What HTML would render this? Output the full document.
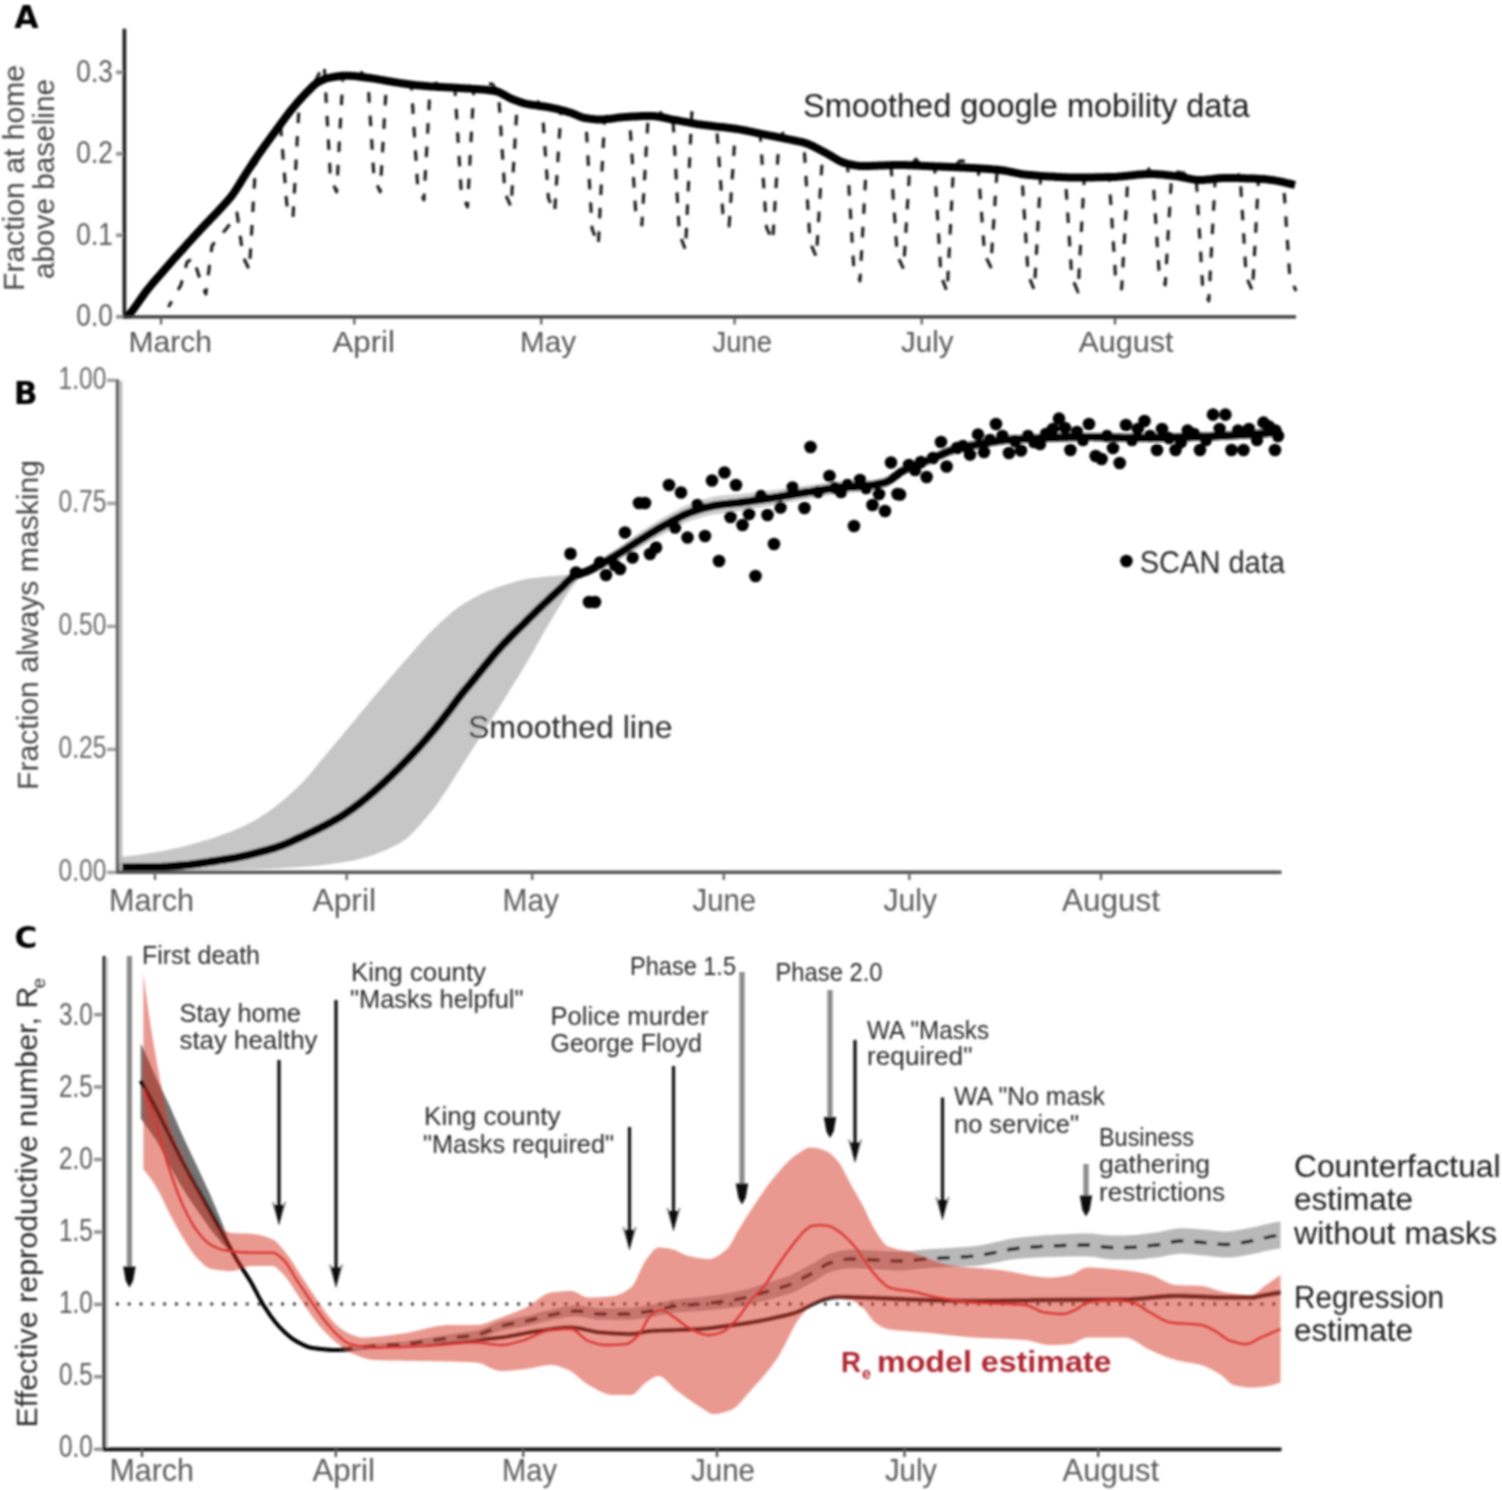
<!DOCTYPE html>
<html lang="en"><head><meta charset="utf-8"><title>Mobility, masking and effective reproductive number</title>
<style>html,body{margin:0;padding:0;background:#fff}svg{display:block}svg text{font-family:"Liberation Sans", "DejaVu Sans", sans-serif}svg text.pl{font-family:"DejaVu Sans","Liberation Sans",sans-serif}</style></head><body>
<svg width="1502" height="1490" viewBox="0 0 1502 1490">
<rect width="1502" height="1490" fill="#fff"/>
<g id="fig" filter="url(#soft)">
<g id="panelA">
<polyline points="168.4,307.0 174.7,296.0 180.9,285.0 187.1,262.0 193.3,258.0 199.6,278.0 205.8,294.0 212.0,246.0 218.3,237.0 224.5,231.0 230.7,223.0 237.0,213.0 243.2,257.0 249.4,270.0 255.6,164.0 261.9,151.3 268.1,142.6 274.3,134.2 280.6,125.7 286.8,204.5 293.0,217.5 299.3,102.0 305.5,95.2 311.7,88.8 317.9,75.8 324.2,64.8 330.4,177.3 336.6,192.0 342.9,77.3 349.1,77.3 355.3,77.7 361.6,72.5 367.8,79.3 374.0,177.5 380.2,192.0 386.5,82.3 392.7,83.4 398.9,84.4 405.2,79.2 411.4,86.0 417.6,185.3 423.9,200.0 430.1,87.9 436.3,83.2 442.6,88.6 448.8,88.9 455.0,89.3 461.2,191.7 467.5,207.0 473.7,90.4 479.9,82.9 486.2,83.4 492.4,84.1 498.6,93.6 504.9,192.7 511.1,207.0 517.3,102.6 523.5,104.6 529.8,97.9 536.0,98.9 542.2,107.7 548.5,198.6 554.7,212.0 560.9,111.5 567.2,113.2 573.4,109.2 579.6,117.9 585.8,119.6 592.1,228.8 598.3,245.0 604.5,120.8 610.8,113.2 617.0,119.3 623.2,118.6 629.5,118.2 635.7,211.1 641.9,225.0 648.1,117.5 654.4,117.7 660.6,112.6 666.8,119.9 673.1,121.2 679.3,233.4 685.5,250.0 691.8,112.6 698.0,125.7 704.2,126.6 710.4,127.3 716.7,128.0 722.9,213.4 729.1,226.0 735.4,130.3 741.6,131.3 747.8,132.5 754.0,133.8 760.3,135.2 766.5,227.4 772.7,241.0 779.0,138.9 785.2,130.1 791.4,141.4 797.7,142.6 803.9,144.2 810.1,242.6 816.4,257.0 822.6,152.8 828.8,156.1 835.0,159.9 841.3,163.2 847.5,165.1 853.7,266.1 860.0,281.0 866.2,167.5 872.4,167.3 878.7,167.1 884.9,166.8 891.1,166.6 897.3,255.7 903.6,269.0 909.8,166.7 916.0,159.1 922.3,167.4 928.5,167.6 934.7,167.9 941.0,275.9 947.2,292.0 953.4,168.6 959.6,160.9 965.9,161.2 972.1,161.5 978.3,169.9 984.6,254.4 990.8,267.0 997.0,171.2 1003.2,171.9 1009.5,173.1 1015.7,174.4 1021.9,175.6 1028.2,275.2 1034.4,290.0 1040.6,177.4 1046.9,177.8 1053.1,172.2 1059.3,178.5 1065.5,178.8 1071.8,277.3 1078.0,292.0 1084.2,179.0 1090.5,178.9 1096.7,178.8 1102.9,178.7 1109.2,178.6 1115.4,274.6 1121.6,289.0 1127.9,177.2 1134.1,176.5 1140.3,175.9 1146.5,165.6 1152.8,175.5 1159.0,270.8 1165.2,285.0 1171.5,177.1 1177.7,171.9 1183.9,173.1 1190.2,180.4 1196.4,181.3 1202.6,285.5 1208.8,301.0 1215.1,180.2 1221.3,179.6 1227.5,179.5 1233.8,179.6 1240.0,173.7 1246.2,276.6 1252.5,291.0 1258.7,175.3 1264.9,180.7 1271.1,181.4 1277.4,182.4 1283.6,183.7 1289.8,277.2 1296.1,291.0" fill="none" stroke="#1c1c1c" stroke-width="3.1" stroke-linejoin="round" stroke-dasharray="10.5 13" stroke-dashoffset="4" stroke-linejoin="miter"/>
<clipPath id="clipA"><rect x="123" y="20" width="1180" height="298.4"/></clipPath>
<polyline points="123.5,320.5 125.5,318.6 127.4,316.5 129.4,314.3 131.3,312.0 133.3,309.5 135.2,306.8 137.2,304.0 139.1,301.2 141.1,298.4 143.1,295.6 145.0,292.9 147.0,290.3 148.9,287.8 150.9,285.5 152.8,283.1 154.8,280.8 156.7,278.6 158.7,276.3 160.7,274.1 162.6,271.9 164.6,269.6 166.5,267.4 168.5,265.2 170.4,262.9 172.4,260.7 174.3,258.5 176.3,256.3 178.3,254.1 180.2,251.9 182.2,249.8 184.1,247.6 186.1,245.4 188.0,243.2 190.0,241.1 192.0,238.9 193.9,236.8 195.9,234.6 197.8,232.5 199.8,230.4 201.7,228.3 203.7,226.2 205.6,224.1 207.6,222.1 209.6,220.1 211.5,218.1 213.5,216.0 215.4,214.0 217.4,211.9 219.3,209.8 221.3,207.7 223.2,205.6 225.2,203.4 227.2,201.2 229.1,199.0 231.1,196.6 233.0,194.0 235.0,191.2 236.9,188.2 238.9,185.1 240.8,181.9 242.8,178.7 244.8,175.5 246.7,172.4 248.7,169.4 250.6,166.5 252.6,163.5 254.5,160.5 256.5,157.6 258.4,154.7 260.4,151.9 262.4,149.1 264.3,146.3 266.3,143.6 268.2,141.0 270.2,138.3 272.1,135.6 274.1,133.0 276.0,130.4 278.0,127.7 280.0,125.0 281.9,122.3 283.9,119.6 285.8,117.0 287.8,114.4 289.7,111.8 291.7,109.4 293.7,107.0 295.6,104.7 297.6,102.4 299.5,100.2 301.5,98.0 303.4,95.9 305.4,93.8 307.3,91.8 309.3,89.8 311.3,87.8 313.2,85.9 315.2,84.2 317.1,82.8 319.1,81.7 321.0,80.7 323.0,79.8 324.9,79.0 326.9,78.3 328.9,77.9 330.8,77.5 332.8,77.1 334.7,76.8 336.7,76.5 338.6,76.2 340.6,76.0 342.5,75.8 344.5,75.7 346.5,75.7 348.4,75.7 350.4,75.8 352.3,75.9 354.3,76.1 356.2,76.3 358.2,76.5 360.1,76.8 362.1,77.0 364.1,77.3 366.0,77.6 368.0,77.8 369.9,78.1 371.9,78.3 373.8,78.6 375.8,78.9 377.7,79.2 379.7,79.6 381.7,79.9 383.6,80.3 385.6,80.6 387.5,81.0 389.5,81.3 391.4,81.6 393.4,82.0 395.4,82.3 397.3,82.6 399.3,82.9 401.2,83.2 403.2,83.4 405.1,83.7 407.1,84.0 409.0,84.2 411.0,84.5 413.0,84.7 414.9,85.0 416.9,85.2 418.8,85.4 420.8,85.6 422.7,85.8 424.7,86.0 426.6,86.1 428.6,86.3 430.6,86.4 432.5,86.5 434.5,86.6 436.4,86.8 438.4,86.9 440.3,87.0 442.3,87.1 444.2,87.2 446.2,87.3 448.2,87.4 450.1,87.5 452.1,87.6 454.0,87.7 456.0,87.8 457.9,87.9 459.9,88.1 461.8,88.2 463.8,88.3 465.8,88.4 467.7,88.5 469.7,88.6 471.6,88.8 473.6,88.9 475.5,89.0 477.5,89.2 479.4,89.3 481.4,89.5 483.4,89.6 485.3,89.8 487.3,90.0 489.2,90.2 491.2,90.4 493.1,90.7 495.1,91.0 497.1,91.5 499.0,92.2 501.0,93.1 502.9,94.2 504.9,95.3 506.8,96.4 508.8,97.5 510.7,98.5 512.7,99.3 514.7,100.1 516.6,100.8 518.6,101.5 520.5,102.2 522.5,102.8 524.4,103.4 526.4,103.8 528.3,104.2 530.3,104.5 532.3,104.9 534.2,105.1 536.2,105.4 538.1,105.7 540.1,105.9 542.0,106.2 544.0,106.5 545.9,106.8 547.9,107.1 549.9,107.5 551.8,107.9 553.8,108.3 555.7,108.7 557.7,109.2 559.6,109.7 561.6,110.1 563.5,110.7 565.5,111.2 567.5,111.8 569.4,112.3 571.4,113.0 573.3,113.7 575.3,114.5 577.2,115.4 579.2,116.2 581.1,117.0 583.1,117.6 585.1,118.0 587.0,118.3 589.0,118.6 590.9,118.9 592.9,119.1 594.8,119.3 596.8,119.4 598.7,119.5 600.7,119.5 602.7,119.4 604.6,119.3 606.6,119.1 608.5,118.9 610.5,118.7 612.4,118.4 614.4,118.2 616.4,117.9 618.3,117.6 620.3,117.4 622.2,117.2 624.2,117.1 626.1,116.9 628.1,116.8 630.0,116.7 632.0,116.6 634.0,116.5 635.9,116.4 637.9,116.3 639.8,116.2 641.8,116.1 643.7,116.1 645.7,116.0 647.6,116.0 649.6,116.0 651.6,116.0 653.5,116.1 655.5,116.3 657.4,116.6 659.4,116.9 661.3,117.2 663.3,117.6 665.2,118.0 667.2,118.4 669.2,118.9 671.1,119.3 673.1,119.7 675.0,120.0 677.0,120.3 678.9,120.7 680.9,121.1 682.8,121.4 684.8,121.8 686.8,122.2 688.7,122.6 690.7,122.9 692.6,123.3 694.6,123.6 696.5,124.0 698.5,124.3 700.4,124.6 702.4,124.8 704.4,125.1 706.3,125.3 708.3,125.6 710.2,125.8 712.2,126.0 714.1,126.2 716.1,126.5 718.1,126.7 720.0,126.9 722.0,127.1 723.9,127.3 725.9,127.5 727.8,127.8 729.8,128.0 731.7,128.3 733.7,128.5 735.7,128.8 737.6,129.1 739.6,129.4 741.5,129.8 743.5,130.1 745.4,130.5 747.4,130.9 749.3,131.3 751.3,131.7 753.3,132.2 755.2,132.6 757.2,133.0 759.1,133.4 761.1,133.8 763.0,134.2 765.0,134.6 766.9,135.0 768.9,135.4 770.9,135.7 772.8,136.1 774.8,136.5 776.7,136.9 778.7,137.3 780.6,137.7 782.6,138.1 784.5,138.5 786.5,138.9 788.5,139.3 790.4,139.7 792.4,140.1 794.3,140.5 796.3,140.9 798.2,141.3 800.2,141.7 802.1,142.2 804.1,142.7 806.1,143.3 808.0,144.0 810.0,144.9 811.9,145.7 813.9,146.7 815.8,147.7 817.8,148.7 819.8,149.8 821.7,150.8 823.7,151.8 825.6,152.8 827.6,153.9 829.5,155.0 831.5,156.2 833.4,157.4 835.4,158.6 837.4,159.7 839.3,160.8 841.3,161.7 843.2,162.5 845.2,163.0 847.1,163.6 849.1,164.1 851.0,164.5 853.0,165.0 855.0,165.3 856.9,165.6 858.9,165.9 860.8,166.0 862.8,166.0 864.7,166.0 866.7,166.0 868.6,165.9 870.6,165.9 872.6,165.8 874.5,165.7 876.5,165.7 878.4,165.6 880.4,165.5 882.3,165.4 884.3,165.4 886.2,165.3 888.2,165.2 890.2,165.2 892.1,165.1 894.1,165.1 896.0,165.0 898.0,165.0 899.9,165.0 901.9,165.0 903.8,165.0 905.8,165.1 907.8,165.2 909.7,165.2 911.7,165.3 913.6,165.4 915.6,165.5 917.5,165.6 919.5,165.7 921.4,165.8 923.4,165.9 925.4,166.0 927.3,166.1 929.3,166.2 931.2,166.2 933.2,166.3 935.1,166.4 937.1,166.5 939.1,166.5 941.0,166.6 943.0,166.7 944.9,166.8 946.9,166.8 948.8,166.9 950.8,167.0 952.7,167.1 954.7,167.2 956.7,167.2 958.6,167.3 960.6,167.4 962.5,167.5 964.5,167.6 966.4,167.7 968.4,167.8 970.3,167.9 972.3,168.0 974.3,168.1 976.2,168.2 978.2,168.3 980.1,168.5 982.1,168.6 984.0,168.7 986.0,168.8 987.9,169.0 989.9,169.1 991.9,169.3 993.8,169.4 995.8,169.6 997.7,169.8 999.7,170.0 1001.6,170.2 1003.6,170.5 1005.5,170.8 1007.5,171.2 1009.5,171.6 1011.4,172.0 1013.4,172.4 1015.3,172.8 1017.3,173.2 1019.2,173.6 1021.2,174.0 1023.1,174.3 1025.1,174.5 1027.1,174.7 1029.0,174.9 1031.0,175.1 1032.9,175.3 1034.9,175.5 1036.8,175.6 1038.8,175.8 1040.8,175.9 1042.7,176.1 1044.7,176.2 1046.6,176.3 1048.6,176.4 1050.5,176.5 1052.5,176.6 1054.4,176.7 1056.4,176.9 1058.4,177.0 1060.3,177.1 1062.3,177.2 1064.2,177.2 1066.2,177.3 1068.1,177.4 1070.1,177.4 1072.0,177.5 1074.0,177.5 1076.0,177.5 1077.9,177.5 1079.9,177.5 1081.8,177.5 1083.8,177.5 1085.7,177.4 1087.7,177.4 1089.6,177.4 1091.6,177.4 1093.6,177.4 1095.5,177.3 1097.5,177.3 1099.4,177.3 1101.4,177.2 1103.3,177.2 1105.3,177.1 1107.2,177.1 1109.2,177.1 1111.2,177.0 1113.1,177.0 1115.1,176.9 1117.0,176.8 1119.0,176.6 1120.9,176.5 1122.9,176.3 1124.8,176.1 1126.8,175.9 1128.8,175.6 1130.7,175.4 1132.7,175.2 1134.6,175.0 1136.6,174.8 1138.5,174.6 1140.5,174.4 1142.5,174.3 1144.4,174.2 1146.4,174.1 1148.3,174.0 1150.3,174.0 1152.2,174.0 1154.2,174.1 1156.1,174.2 1158.1,174.3 1160.1,174.5 1162.0,174.6 1164.0,174.8 1165.9,175.0 1167.9,175.2 1169.8,175.4 1171.8,175.6 1173.7,175.9 1175.7,176.1 1177.7,176.4 1179.6,176.7 1181.6,177.1 1183.5,177.5 1185.5,177.9 1187.4,178.3 1189.4,178.7 1191.3,179.1 1193.3,179.4 1195.3,179.7 1197.2,179.9 1199.2,180.0 1201.1,180.0 1203.1,179.9 1205.0,179.8 1207.0,179.6 1208.9,179.4 1210.9,179.2 1212.9,179.0 1214.8,178.7 1216.8,178.5 1218.7,178.3 1220.7,178.2 1222.6,178.1 1224.6,178.0 1226.5,178.0 1228.5,178.0 1230.5,178.0 1232.4,178.0 1234.4,178.1 1236.3,178.1 1238.3,178.1 1240.2,178.2 1242.2,178.2 1244.2,178.3 1246.1,178.4 1248.1,178.4 1250.0,178.5 1252.0,178.6 1253.9,178.6 1255.9,178.7 1257.8,178.8 1259.8,178.9 1261.8,179.0 1263.7,179.1 1265.7,179.3 1267.6,179.4 1269.6,179.7 1271.5,179.9 1273.5,180.2 1275.4,180.6 1277.4,180.9 1279.4,181.3 1281.3,181.7 1283.3,182.2 1285.2,182.6 1287.2,183.1 1289.1,183.5 1291.1,184.0 1293.0,184.5 1295.0,185.0" fill="none" stroke="#000" stroke-width="8.0" stroke-linejoin="round" stroke-linecap="butt" clip-path="url(#clipA)"/>
<line x1="124.4" y1="28.7" x2="124.4" y2="318.5" stroke="#1f1f1f" stroke-width="3.6" />
<line x1="123.0" y1="316.9" x2="1296.0" y2="316.9" stroke="#383838" stroke-width="3.3" />
<line x1="116.0" y1="72.3" x2="123.0" y2="72.3" stroke="#959595" stroke-width="3.8" />
<text x="76.3" y="81.5" font-size="32" fill="#5c5c5c" textLength="36.5" lengthAdjust="spacingAndGlyphs">0.3</text>
<line x1="116.0" y1="153.8" x2="123.0" y2="153.8" stroke="#959595" stroke-width="3.8" />
<text x="76.3" y="163.0" font-size="32" fill="#5c5c5c" textLength="36.5" lengthAdjust="spacingAndGlyphs">0.2</text>
<line x1="116.0" y1="235.3" x2="123.0" y2="235.3" stroke="#959595" stroke-width="3.8" />
<text x="76.3" y="244.5" font-size="32" fill="#5c5c5c" textLength="36.5" lengthAdjust="spacingAndGlyphs">0.1</text>
<line x1="116.0" y1="316.8" x2="123.0" y2="316.8" stroke="#959595" stroke-width="3.8" />
<text x="76.3" y="326.0" font-size="32" fill="#5c5c5c" textLength="36.5" lengthAdjust="spacingAndGlyphs">0.0</text>
<line x1="161.0" y1="317.0" x2="161.0" y2="324.5" stroke="#555" stroke-width="2.2" />
<text x="128.5" y="352.0" font-size="30" fill="#555" textLength="83.5" lengthAdjust="spacingAndGlyphs">March</text>
<line x1="354.3" y1="317.0" x2="354.3" y2="324.5" stroke="#555" stroke-width="2.2" />
<text x="332.5" y="352.0" font-size="30" fill="#555" textLength="62.5" lengthAdjust="spacingAndGlyphs">April</text>
<line x1="541.3" y1="317.0" x2="541.3" y2="324.5" stroke="#555" stroke-width="2.2" />
<text x="520.0" y="352.0" font-size="30" fill="#555" textLength="56.0" lengthAdjust="spacingAndGlyphs">May</text>
<line x1="734.6" y1="317.0" x2="734.6" y2="324.5" stroke="#555" stroke-width="2.2" />
<text x="712.5" y="352.0" font-size="30" fill="#555" textLength="59.5" lengthAdjust="spacingAndGlyphs">June</text>
<line x1="921.7" y1="317.0" x2="921.7" y2="324.5" stroke="#555" stroke-width="2.2" />
<text x="901.0" y="352.0" font-size="30" fill="#555" textLength="52.5" lengthAdjust="spacingAndGlyphs">July</text>
<line x1="1115.0" y1="317.0" x2="1115.0" y2="324.5" stroke="#555" stroke-width="2.2" />
<text x="1078.5" y="352.0" font-size="30" fill="#555" textLength="95.0" lengthAdjust="spacingAndGlyphs">August</text>
<text transform="translate(24.0,178.0) rotate(-90)" text-anchor="middle" font-size="30" fill="#444" textLength="226.0" lengthAdjust="spacingAndGlyphs">Fraction at home</text>
<text transform="translate(54.0,179.0) rotate(-90)" text-anchor="middle" font-size="30" fill="#444" textLength="200.0" lengthAdjust="spacingAndGlyphs">above baseline</text>
<text x="803.0" y="116.5" font-size="32.5" fill="#1e1e1e" textLength="446.5" lengthAdjust="spacingAndGlyphs">Smoothed google mobility data</text>
<text x="14.2" y="28.4" font-size="31.5" fill="#000" font-weight="bold" class="pl">A</text>
</g>
<g id="panelB">
<polygon points="119.0,857.0 121.3,856.8 123.6,856.6 125.9,856.4 128.3,856.1 130.6,855.8 132.9,855.6 135.2,855.3 137.5,855.0 139.8,854.7 142.2,854.3 144.5,854.0 146.8,853.6 149.1,853.3 151.4,852.9 153.7,852.5 156.1,852.2 158.4,851.8 160.7,851.4 163.0,851.0 165.3,850.5 167.6,850.1 170.0,849.6 172.3,849.1 174.6,848.6 176.9,848.1 179.2,847.5 181.5,847.0 183.9,846.4 186.2,845.8 188.5,845.2 190.8,844.6 193.1,843.9 195.4,843.3 197.8,842.6 200.1,842.0 202.4,841.3 204.7,840.6 207.0,839.9 209.3,839.2 211.7,838.5 214.0,837.7 216.3,836.9 218.6,836.1 220.9,835.3 223.2,834.5 225.6,833.6 227.9,832.8 230.2,831.9 232.5,830.9 234.8,830.0 237.1,829.0 239.5,828.0 241.8,827.0 244.1,825.9 246.4,824.8 248.7,823.6 251.0,822.5 253.4,821.2 255.7,819.9 258.0,818.6 260.3,817.1 262.6,815.6 264.9,814.1 267.3,812.5 269.6,810.8 271.9,809.1 274.2,807.4 276.5,805.5 278.8,803.7 281.2,801.8 283.5,799.9 285.8,797.9 288.1,795.9 290.4,793.8 292.7,791.7 295.1,789.6 297.4,787.5 299.7,785.3 302.0,783.0 304.3,780.6 306.6,778.0 309.0,775.3 311.3,772.5 313.6,769.6 315.9,766.8 318.2,763.9 320.5,761.1 322.9,758.4 325.2,755.6 327.5,752.9 329.8,750.1 332.1,747.4 334.4,744.6 336.8,741.8 339.1,739.0 341.4,736.2 343.7,733.4 346.0,730.6 348.3,727.8 350.7,725.0 353.0,722.2 355.3,719.4 357.6,716.6 359.9,713.8 362.2,711.0 364.6,708.2 366.9,705.4 369.2,702.6 371.5,699.8 373.8,697.0 376.1,694.2 378.5,691.4 380.8,688.7 383.1,686.0 385.4,683.2 387.7,680.5 390.0,677.8 392.4,675.2 394.7,672.5 397.0,669.8 399.3,667.2 401.6,664.5 403.9,661.9 406.3,659.3 408.6,656.7 410.9,654.0 413.2,651.4 415.5,648.7 417.8,646.1 420.2,643.4 422.5,640.8 424.8,638.3 427.1,635.7 429.4,633.3 431.7,630.9 434.1,628.6 436.4,626.4 438.7,624.2 441.0,622.0 443.3,619.9 445.6,617.8 448.0,615.7 450.3,613.7 452.6,611.8 454.9,610.0 457.2,608.2 459.5,606.6 461.9,605.0 464.2,603.5 466.5,602.1 468.8,600.7 471.1,599.4 473.4,598.1 475.8,596.9 478.1,595.7 480.4,594.5 482.7,593.4 485.0,592.3 487.3,591.3 489.7,590.3 492.0,589.4 494.3,588.5 496.6,587.6 498.9,586.9 501.2,586.1 503.6,585.4 505.9,584.6 508.2,583.9 510.5,583.2 512.8,582.5 515.1,581.8 517.5,581.2 519.8,580.6 522.1,580.0 524.4,579.5 526.7,579.0 529.0,578.6 531.4,578.3 533.7,578.0 536.0,577.7 538.3,577.4 540.6,577.2 542.9,577.0 545.3,576.7 547.6,576.5 549.9,576.3 552.2,576.1 554.5,576.0 556.8,575.8 559.2,575.6 561.5,575.4 563.8,575.2 566.1,575.0 568.4,574.8 570.7,574.6 573.1,574.5 575.4,574.3 577.7,574.2 580.0,574.0 580.0,577.0 577.7,579.8 575.4,582.8 573.1,585.8 570.7,589.0 568.4,592.3 566.1,595.7 563.8,599.3 561.5,603.0 559.2,606.8 556.8,610.6 554.5,614.4 552.2,618.3 549.9,622.2 547.6,626.1 545.3,630.1 542.9,634.2 540.6,638.3 538.3,642.5 536.0,646.6 533.7,650.7 531.4,654.7 529.0,658.6 526.7,662.5 524.4,666.4 522.1,670.2 519.8,674.1 517.5,677.9 515.1,681.6 512.8,685.4 510.5,689.1 508.2,692.9 505.9,696.6 503.6,700.3 501.2,704.0 498.9,707.7 496.6,711.4 494.3,715.1 492.0,718.8 489.7,722.4 487.3,726.1 485.0,729.7 482.7,733.3 480.4,736.9 478.1,740.5 475.8,744.1 473.4,747.7 471.1,751.3 468.8,754.8 466.5,758.5 464.2,762.1 461.9,765.8 459.5,769.5 457.2,773.2 454.9,776.9 452.6,780.6 450.3,784.3 448.0,787.9 445.6,791.5 443.3,795.0 441.0,798.4 438.7,801.7 436.4,804.9 434.1,807.9 431.7,810.9 429.4,813.7 427.1,816.5 424.8,819.2 422.5,822.0 420.2,824.7 417.8,827.3 415.5,829.8 413.2,832.3 410.9,834.6 408.6,836.7 406.3,838.7 403.9,840.5 401.6,842.0 399.3,843.4 397.0,844.6 394.7,845.8 392.4,847.0 390.0,848.1 387.7,849.2 385.4,850.2 383.1,851.2 380.8,852.1 378.5,853.0 376.1,853.9 373.8,854.7 371.5,855.5 369.2,856.3 366.9,857.0 364.6,857.6 362.2,858.3 359.9,858.9 357.6,859.4 355.3,860.0 353.0,860.4 350.7,860.9 348.3,861.3 346.0,861.7 343.7,862.1 341.4,862.4 339.1,862.8 336.8,863.1 334.4,863.5 332.1,863.8 329.8,864.1 327.5,864.4 325.2,864.7 322.9,864.9 320.5,865.2 318.2,865.4 315.9,865.7 313.6,865.9 311.3,866.1 309.0,866.3 306.6,866.5 304.3,866.7 302.0,866.9 299.7,867.0 297.4,867.2 295.1,867.3 292.7,867.5 290.4,867.7 288.1,867.8 285.8,867.9 283.5,868.1 281.2,868.2 278.8,868.4 276.5,868.5 274.2,868.6 271.9,868.7 269.6,868.8 267.3,868.9 264.9,869.0 262.6,869.1 260.3,869.2 258.0,869.3 255.7,869.4 253.4,869.4 251.0,869.5 248.7,869.5 246.4,869.6 244.1,869.6 241.8,869.7 239.5,869.7 237.1,869.8 234.8,869.8 232.5,869.8 230.2,869.9 227.9,869.9 225.6,870.0 223.2,870.0 220.9,870.1 218.6,870.1 216.3,870.1 214.0,870.2 211.7,870.2 209.3,870.2 207.0,870.3 204.7,870.3 202.4,870.3 200.1,870.4 197.8,870.4 195.4,870.4 193.1,870.5 190.8,870.5 188.5,870.5 186.2,870.6 183.9,870.6 181.5,870.6 179.2,870.6 176.9,870.7 174.6,870.7 172.3,870.7 170.0,870.7 167.6,870.8 165.3,870.8 163.0,870.8 160.7,870.8 158.4,870.8 156.1,870.9 153.7,870.9 151.4,870.9 149.1,870.9 146.8,870.9 144.5,870.9 142.2,870.9 139.8,871.0 137.5,871.0 135.2,871.0 132.9,871.0 130.6,871.0 128.3,871.0 125.9,871.0 123.6,871.0 121.3,871.0 119.0,871.0" fill="#c6c6c6" />
<polygon points="575.4,572.7 577.7,571.5 580.1,570.4 582.4,569.4 584.7,568.4 587.1,567.3 589.4,566.2 591.7,564.9 594.0,563.5 596.4,562.1 598.7,560.7 601.0,559.2 603.4,557.7 605.7,556.2 608.0,554.6 610.3,553.1 612.7,551.5 615.0,549.9 617.3,548.3 619.7,546.7 622.0,545.0 624.3,543.4 626.6,541.7 629.0,539.9 631.3,538.2 633.6,536.5 636.0,534.9 638.3,533.2 640.6,531.6 642.9,530.1 645.3,528.7 647.6,527.2 649.9,525.7 652.3,524.3 654.6,522.8 656.9,521.4 659.2,520.0 661.6,518.6 663.9,517.3 666.2,516.0 668.6,514.7 670.9,513.4 673.2,512.1 675.5,510.8 677.9,509.5 680.2,508.3 682.5,507.1 684.9,506.0 687.2,505.0 689.5,504.1 691.8,503.2 694.2,502.4 696.5,501.6 698.8,500.8 701.2,500.0 703.5,499.3 705.8,498.7 708.2,498.1 710.5,497.5 712.8,497.0 715.1,496.5 717.5,496.1 719.8,495.8 722.1,495.5 724.5,495.3 726.8,495.1 729.1,494.9 731.4,494.8 733.8,494.6 736.1,494.4 738.4,494.2 740.8,493.9 743.1,493.7 745.4,493.4 747.7,493.2 750.1,492.9 752.4,492.6 754.7,492.4 757.1,492.1 759.4,491.8 761.7,491.5 764.0,491.2 766.4,491.0 768.7,490.7 771.0,490.3 773.4,490.0 775.7,489.7 778.0,489.4 780.3,489.1 782.7,488.8 785.0,488.4 787.3,488.1 789.7,487.8 792.0,487.5 794.3,487.2 796.6,486.8 799.0,486.5 801.3,486.2 803.6,485.9 806.0,485.5 808.3,485.2 810.6,484.9 812.9,484.6 815.3,484.3 817.6,484.0 819.9,483.6 822.3,483.3 824.6,483.0 826.9,482.7 829.2,482.4 831.6,482.1 833.9,481.8 836.2,481.6 838.6,481.4 840.9,481.2 843.2,481.1 845.5,481.0 847.9,480.9 850.2,480.9 852.5,480.8 854.9,480.8 857.2,480.7 859.5,480.6 861.8,480.5 864.2,480.4 866.5,480.2 868.8,480.0 871.2,479.7 873.5,479.4 875.8,479.1 878.1,478.7 880.5,478.3 882.8,477.7 885.1,477.2 887.5,476.3 889.8,475.0 892.1,473.4 894.4,471.7 896.8,469.9 899.1,468.2 901.4,466.6 903.8,465.3 906.1,464.1 908.4,462.9 910.7,461.8 913.1,460.8 915.4,459.8 917.7,459.0 920.1,458.2 922.4,457.4 924.7,456.7 927.0,455.8 929.4,454.9 931.7,453.9 934.0,452.9 936.4,451.8 938.7,450.7 941.0,449.7 943.3,448.6 945.7,447.6 948.0,446.7 950.3,445.9 952.7,445.1 955.0,444.4 957.3,443.8 959.6,443.2 962.0,442.6 964.3,442.1 966.6,441.6 969.0,441.1 971.3,440.6 973.6,440.2 975.9,439.7 978.3,439.3 980.6,438.9 982.9,438.5 985.3,438.0 987.6,437.6 989.9,437.2 992.2,436.8 994.6,436.5 996.9,436.1 999.2,435.8 1001.6,435.5 1003.9,435.2 1006.2,435.0 1008.5,434.8 1010.9,434.7 1013.2,434.5 1015.5,434.4 1017.9,434.3 1020.2,434.1 1022.5,434.0 1024.8,433.9 1027.2,433.8 1029.5,433.7 1031.8,433.6 1034.2,433.6 1036.5,433.5 1038.8,433.4 1041.1,433.3 1043.5,433.2 1045.8,433.1 1048.1,433.0 1050.5,432.9 1052.8,432.8 1055.1,432.7 1057.4,432.6 1059.8,432.5 1062.1,432.5 1064.4,432.4 1066.8,432.3 1069.1,432.2 1071.4,432.2 1073.7,432.1 1076.1,432.1 1078.4,432.1 1080.7,432.0 1083.1,432.0 1085.4,432.0 1087.7,432.0 1090.1,432.0 1092.4,432.0 1094.7,432.1 1097.0,432.1 1099.4,432.1 1101.7,432.2 1104.0,432.3 1106.4,432.3 1108.7,432.4 1111.0,432.4 1113.3,432.5 1115.7,432.6 1118.0,432.6 1120.3,432.7 1122.7,432.8 1125.0,432.8 1127.3,432.9 1129.6,432.9 1132.0,432.9 1134.3,433.0 1136.6,433.0 1139.0,433.0 1141.3,433.0 1143.6,433.0 1145.9,433.0 1148.3,433.0 1150.6,432.9 1152.9,432.9 1155.3,432.9 1157.6,432.8 1159.9,432.8 1162.2,432.8 1164.6,432.7 1166.9,432.7 1169.2,432.6 1171.6,432.6 1173.9,432.5 1176.2,432.4 1178.5,432.4 1180.9,432.3 1183.2,432.3 1185.5,432.2 1187.9,432.1 1190.2,432.1 1192.5,432.0 1194.8,431.9 1197.2,431.9 1199.5,431.8 1201.8,431.7 1204.2,431.6 1206.5,431.6 1208.8,431.5 1211.1,431.4 1213.5,431.3 1215.8,431.2 1218.1,431.1 1220.5,431.0 1222.8,430.8 1225.1,430.7 1227.4,430.6 1229.8,430.5 1232.1,430.4 1234.4,430.2 1236.8,430.1 1239.1,430.0 1241.4,429.9 1243.7,429.7 1246.1,429.6 1248.4,429.5 1250.7,429.3 1253.1,429.2 1255.4,429.0 1257.7,428.8 1260.0,428.7 1262.4,428.5 1264.7,428.3 1267.0,428.2 1269.4,428.0 1271.7,427.8 1274.0,427.6 1276.3,427.4 1278.7,427.2 1281.0,427.0 1281.0,437.0 1278.7,437.2 1276.3,437.4 1274.0,437.6 1271.7,437.8 1269.4,438.0 1267.0,438.2 1264.7,438.3 1262.4,438.5 1260.0,438.7 1257.7,438.8 1255.4,439.0 1253.1,439.2 1250.7,439.3 1248.4,439.5 1246.1,439.6 1243.7,439.7 1241.4,439.9 1239.1,440.0 1236.8,440.1 1234.4,440.2 1232.1,440.4 1229.8,440.5 1227.4,440.6 1225.1,440.7 1222.8,440.8 1220.5,441.0 1218.1,441.1 1215.8,441.2 1213.5,441.3 1211.1,441.4 1208.8,441.5 1206.5,441.6 1204.2,441.6 1201.8,441.7 1199.5,441.8 1197.2,441.9 1194.8,441.9 1192.5,442.0 1190.2,442.1 1187.9,442.1 1185.5,442.2 1183.2,442.3 1180.9,442.3 1178.5,442.4 1176.2,442.4 1173.9,442.5 1171.6,442.6 1169.2,442.6 1166.9,442.7 1164.6,442.7 1162.2,442.8 1159.9,442.8 1157.6,442.8 1155.3,442.9 1152.9,442.9 1150.6,442.9 1148.3,443.0 1145.9,443.0 1143.6,443.0 1141.3,443.0 1139.0,443.0 1136.6,443.0 1134.3,443.0 1132.0,442.9 1129.6,442.9 1127.3,442.9 1125.0,442.8 1122.7,442.8 1120.3,442.7 1118.0,442.6 1115.7,442.6 1113.3,442.5 1111.0,442.4 1108.7,442.4 1106.4,442.3 1104.0,442.3 1101.7,442.2 1099.4,442.1 1097.0,442.1 1094.7,442.1 1092.4,442.0 1090.1,442.0 1087.7,442.0 1085.4,442.0 1083.1,442.0 1080.7,442.0 1078.4,442.1 1076.1,442.1 1073.7,442.1 1071.4,442.2 1069.1,442.2 1066.8,442.3 1064.4,442.4 1062.1,442.5 1059.8,442.5 1057.4,442.6 1055.1,442.7 1052.8,442.8 1050.5,442.9 1048.1,443.0 1045.8,443.1 1043.5,443.2 1041.1,443.3 1038.8,443.4 1036.5,443.5 1034.2,443.6 1031.8,443.6 1029.5,443.7 1027.2,443.8 1024.8,443.9 1022.5,444.0 1020.2,444.1 1017.9,444.3 1015.5,444.4 1013.2,444.5 1010.9,444.7 1008.5,444.8 1006.2,445.0 1003.9,445.2 1001.6,445.5 999.2,445.8 996.9,446.1 994.6,446.5 992.2,446.8 989.9,447.2 987.6,447.6 985.3,448.0 982.9,448.5 980.6,448.9 978.3,449.3 975.9,449.7 973.6,450.2 971.3,450.6 969.0,451.1 966.6,451.6 964.3,452.1 962.0,452.6 959.6,453.2 957.3,453.8 955.0,454.4 952.7,455.1 950.3,455.9 948.0,456.7 945.7,457.6 943.3,458.6 941.0,459.7 938.7,460.7 936.4,461.8 934.0,462.9 931.7,463.9 929.4,464.9 927.0,465.8 924.7,466.7 922.4,467.4 920.1,468.2 917.7,469.0 915.4,469.8 913.1,470.8 910.7,471.8 908.4,472.9 906.1,474.1 903.8,475.3 901.4,476.6 899.1,478.2 896.8,480.0 894.4,481.9 892.1,483.7 889.8,485.4 887.5,486.8 885.1,487.8 882.8,488.4 880.5,489.0 878.1,489.6 875.8,490.1 873.5,490.5 871.2,490.9 868.8,491.2 866.5,491.5 864.2,491.8 861.8,492.0 859.5,492.2 857.2,492.4 854.9,492.6 852.5,492.7 850.2,492.9 847.9,493.0 845.5,493.2 843.2,493.4 840.9,493.6 838.6,493.9 836.2,494.1 833.9,494.5 831.6,494.8 829.2,495.2 826.9,495.6 824.6,496.0 822.3,496.4 819.9,496.8 817.6,497.3 815.3,497.7 812.9,498.1 810.6,498.5 808.3,498.9 806.0,499.3 803.6,499.7 801.3,500.1 799.0,500.6 796.6,501.0 794.3,501.4 792.0,501.9 789.7,502.3 787.3,502.7 785.0,503.2 782.7,503.6 780.3,504.1 778.0,504.5 775.7,504.9 773.4,505.4 771.0,505.8 768.7,506.2 766.4,506.6 764.0,507.0 761.7,507.4 759.4,507.8 757.1,508.2 754.7,508.6 752.4,509.0 750.1,509.4 747.7,509.8 745.4,510.2 743.1,510.5 740.8,510.9 738.4,511.2 736.1,511.6 733.8,511.9 731.4,512.2 729.1,512.5 726.8,512.8 724.5,513.1 722.1,513.4 719.8,513.8 717.5,514.1 715.1,514.4 712.8,514.8 710.5,515.3 708.2,515.8 705.8,516.3 703.5,516.9 701.2,517.6 698.8,518.2 696.5,519.0 694.2,519.7 691.8,520.5 689.5,521.3 687.2,522.2 684.9,523.1 682.5,524.2 680.2,525.3 677.9,526.4 675.5,527.6 673.2,528.9 670.9,530.1 668.6,531.4 666.2,532.7 663.9,533.9 661.6,535.2 659.2,536.5 656.9,537.8 654.6,539.2 652.3,540.6 649.9,542.0 647.6,543.4 645.3,544.8 642.9,546.2 640.6,547.6 638.3,548.9 636.0,550.2 633.6,551.6 631.3,552.9 629.0,554.3 626.6,555.6 624.3,556.9 622.0,558.3 619.7,559.6 617.3,560.8 615.0,562.1 612.7,563.3 610.3,564.5 608.0,565.7 605.7,566.9 603.4,568.1 601.0,569.2 598.7,570.4 596.4,571.4 594.0,572.5 591.7,573.5 589.4,574.4 587.1,575.2 584.7,575.9 582.4,576.5 580.1,577.2 577.7,577.9 575.4,578.8" fill="#cfcfcf" />
<polyline points="119.0,867.3 121.3,867.3 123.7,867.3 126.0,867.3 128.3,867.3 130.6,867.3 133.0,867.3 135.3,867.3 137.6,867.2 140.0,867.2 142.3,867.2 144.6,867.2 146.9,867.2 149.3,867.1 151.6,867.1 153.9,867.1 156.3,867.1 158.6,867.0 160.9,867.0 163.2,866.9 165.6,866.8 167.9,866.7 170.2,866.5 172.6,866.3 174.9,866.1 177.2,865.9 179.5,865.7 181.9,865.5 184.2,865.2 186.5,865.0 188.9,864.8 191.2,864.5 193.5,864.2 195.8,863.9 198.2,863.6 200.5,863.2 202.8,862.9 205.2,862.5 207.5,862.2 209.8,861.8 212.1,861.4 214.5,861.1 216.8,860.7 219.1,860.3 221.5,860.0 223.8,859.6 226.1,859.2 228.4,858.9 230.8,858.5 233.1,858.1 235.4,857.7 237.8,857.2 240.1,856.8 242.4,856.3 244.7,855.8 247.1,855.3 249.4,854.7 251.7,854.1 254.1,853.5 256.4,852.9 258.7,852.3 261.0,851.7 263.4,851.1 265.7,850.5 268.0,849.8 270.4,849.2 272.7,848.5 275.0,847.8 277.3,847.0 279.7,846.2 282.0,845.4 284.3,844.5 286.7,843.5 289.0,842.5 291.3,841.5 293.6,840.4 296.0,839.3 298.3,838.3 300.6,837.2 303.0,836.2 305.3,835.1 307.6,834.0 309.9,832.9 312.3,831.8 314.6,830.7 316.9,829.5 319.3,828.4 321.6,827.2 323.9,826.0 326.3,824.8 328.6,823.5 330.9,822.3 333.2,821.0 335.6,819.6 337.9,818.3 340.2,816.9 342.6,815.4 344.9,813.9 347.2,812.3 349.5,810.7 351.9,809.1 354.2,807.4 356.5,805.6 358.9,803.9 361.2,802.1 363.5,800.2 365.8,798.3 368.2,796.4 370.5,794.4 372.8,792.4 375.2,790.3 377.5,788.3 379.8,786.2 382.1,784.1 384.5,781.9 386.8,779.8 389.1,777.6 391.5,775.4 393.8,773.1 396.1,770.8 398.4,768.6 400.8,766.2 403.1,763.9 405.4,761.5 407.8,759.1 410.1,756.7 412.4,754.2 414.7,751.7 417.1,749.2 419.4,746.7 421.7,744.1 424.1,741.4 426.4,738.8 428.7,736.1 431.0,733.3 433.4,730.6 435.7,727.8 438.0,724.9 440.4,722.1 442.7,719.1 445.0,716.1 447.3,713.0 449.7,709.9 452.0,706.8 454.3,703.7 456.7,700.6 459.0,697.6 461.3,694.6 463.6,691.7 466.0,688.9 468.3,686.1 470.6,683.3 473.0,680.5 475.3,677.7 477.6,674.8 479.9,671.9 482.3,669.0 484.6,666.1 486.9,663.3 489.3,660.5 491.6,657.7 493.9,654.9 496.2,652.2 498.6,649.5 500.9,647.0 503.2,644.4 505.6,642.0 507.9,639.6 510.2,637.2 512.5,634.8 514.9,632.5 517.2,630.2 519.5,627.9 521.9,625.6 524.2,623.3 526.5,621.0 528.8,618.7 531.2,616.4 533.5,614.1 535.8,611.8 538.2,609.6 540.5,607.3 542.8,605.1 545.1,602.9 547.5,600.7 549.8,598.5 552.1,596.3 554.5,594.2 556.8,592.0 559.1,589.9 561.4,587.7 563.8,585.4 566.1,582.9 568.4,580.6 570.8,578.6 573.1,576.9 575.4,575.7 577.7,574.7 580.1,573.8 582.4,572.9 584.7,572.1 587.1,571.3 589.4,570.3 591.7,569.2 594.0,568.0 596.4,566.8 598.7,565.5 601.0,564.2 603.4,562.9 605.7,561.5 608.0,560.2 610.3,558.8 612.7,557.4 615.0,556.0 617.3,554.6 619.7,553.1 622.0,551.7 624.3,550.1 626.6,548.6 629.0,547.1 631.3,545.6 633.6,544.1 636.0,542.5 638.3,541.1 640.6,539.6 642.9,538.2 645.3,536.7 647.6,535.3 649.9,533.8 652.3,532.4 654.6,531.0 656.9,529.6 659.2,528.2 661.6,526.9 663.9,525.6 666.2,524.3 668.6,523.0 670.9,521.7 673.2,520.5 675.5,519.2 677.9,518.0 680.2,516.8 682.5,515.6 684.9,514.6 687.2,513.6 689.5,512.7 691.8,511.8 694.2,511.0 696.5,510.3 698.8,509.5 701.2,508.8 703.5,508.1 705.8,507.5 708.2,506.9 710.5,506.4 712.8,505.9 715.1,505.5 717.5,505.1 719.8,504.8 722.1,504.5 724.5,504.2 726.8,504.0 729.1,503.7 731.4,503.5 733.8,503.2 736.1,503.0 738.4,502.7 740.8,502.4 743.1,502.1 745.4,501.8 747.7,501.5 750.1,501.2 752.4,500.8 754.7,500.5 757.1,500.2 759.4,499.8 761.7,499.5 764.0,499.1 766.4,498.8 768.7,498.4 771.0,498.1 773.4,497.7 775.7,497.3 778.0,497.0 780.3,496.6 782.7,496.2 785.0,495.8 787.3,495.4 789.7,495.1 792.0,494.7 794.3,494.3 796.6,493.9 799.0,493.5 801.3,493.2 803.6,492.8 806.0,492.4 808.3,492.0 810.6,491.7 812.9,491.3 815.3,491.0 817.6,490.6 819.9,490.2 822.3,489.9 824.6,489.5 826.9,489.1 829.2,488.8 831.6,488.5 833.9,488.1 836.2,487.9 838.6,487.6 840.9,487.4 843.2,487.3 845.5,487.1 847.9,487.0 850.2,486.9 852.5,486.8 854.9,486.7 857.2,486.5 859.5,486.4 861.8,486.3 864.2,486.1 866.5,485.9 868.8,485.6 871.2,485.3 873.5,485.0 875.8,484.6 878.1,484.1 880.5,483.6 882.8,483.1 885.1,482.5 887.5,481.5 889.8,480.2 892.1,478.6 894.4,476.8 896.8,475.0 899.1,473.2 901.4,471.6 903.8,470.3 906.1,469.1 908.4,467.9 910.7,466.8 913.1,465.8 915.4,464.8 917.7,464.0 920.1,463.2 922.4,462.4 924.7,461.7 927.0,460.8 929.4,459.9 931.7,458.9 934.0,457.9 936.4,456.8 938.7,455.7 941.0,454.7 943.3,453.6 945.7,452.6 948.0,451.7 950.3,450.9 952.7,450.1 955.0,449.4 957.3,448.8 959.6,448.2 962.0,447.6 964.3,447.1 966.6,446.6 969.0,446.1 971.3,445.6 973.6,445.2 975.9,444.7 978.3,444.3 980.6,443.9 982.9,443.5 985.3,443.0 987.6,442.6 989.9,442.2 992.2,441.8 994.6,441.5 996.9,441.1 999.2,440.8 1001.6,440.5 1003.9,440.2 1006.2,440.0 1008.5,439.8 1010.9,439.7 1013.2,439.5 1015.5,439.4 1017.9,439.3 1020.2,439.1 1022.5,439.0 1024.8,438.9 1027.2,438.8 1029.5,438.7 1031.8,438.6 1034.2,438.6 1036.5,438.5 1038.8,438.4 1041.1,438.3 1043.5,438.2 1045.8,438.1 1048.1,438.0 1050.5,437.9 1052.8,437.8 1055.1,437.7 1057.4,437.6 1059.8,437.5 1062.1,437.5 1064.4,437.4 1066.8,437.3 1069.1,437.2 1071.4,437.2 1073.7,437.1 1076.1,437.1 1078.4,437.1 1080.7,437.0 1083.1,437.0 1085.4,437.0 1087.7,437.0 1090.1,437.0 1092.4,437.0 1094.7,437.1 1097.0,437.1 1099.4,437.1 1101.7,437.2 1104.0,437.3 1106.4,437.3 1108.7,437.4 1111.0,437.4 1113.3,437.5 1115.7,437.6 1118.0,437.6 1120.3,437.7 1122.7,437.8 1125.0,437.8 1127.3,437.9 1129.6,437.9 1132.0,437.9 1134.3,438.0 1136.6,438.0 1139.0,438.0 1141.3,438.0 1143.6,438.0 1145.9,438.0 1148.3,438.0 1150.6,437.9 1152.9,437.9 1155.3,437.9 1157.6,437.8 1159.9,437.8 1162.2,437.8 1164.6,437.7 1166.9,437.7 1169.2,437.6 1171.6,437.6 1173.9,437.5 1176.2,437.4 1178.5,437.4 1180.9,437.3 1183.2,437.3 1185.5,437.2 1187.9,437.1 1190.2,437.1 1192.5,437.0 1194.8,436.9 1197.2,436.9 1199.5,436.8 1201.8,436.7 1204.2,436.6 1206.5,436.6 1208.8,436.5 1211.1,436.4 1213.5,436.3 1215.8,436.2 1218.1,436.1 1220.5,436.0 1222.8,435.8 1225.1,435.7 1227.4,435.6 1229.8,435.5 1232.1,435.4 1234.4,435.2 1236.8,435.1 1239.1,435.0 1241.4,434.9 1243.7,434.7 1246.1,434.6 1248.4,434.5 1250.7,434.3 1253.1,434.2 1255.4,434.0 1257.7,433.8 1260.0,433.7 1262.4,433.5 1264.7,433.3 1267.0,433.2 1269.4,433.0 1271.7,432.8 1274.0,432.6 1276.3,432.4 1278.7,432.2 1281.0,432.0" fill="none" stroke="#000" stroke-width="8.2" stroke-linejoin="round" />
<g fill="#000"><circle cx="570.5" cy="553.8" r="6.3"/><circle cx="576.0" cy="572.5" r="6.3"/><circle cx="589.0" cy="602.0" r="6.3"/><circle cx="595.0" cy="602.0" r="6.3"/><circle cx="600.0" cy="562.5" r="6.3"/><circle cx="606.0" cy="575.0" r="6.3"/><circle cx="615.0" cy="565.0" r="6.3"/><circle cx="620.0" cy="569.0" r="6.3"/><circle cx="625.0" cy="532.5" r="6.3"/><circle cx="632.5" cy="557.5" r="6.3"/><circle cx="650.0" cy="554.0" r="6.3"/><circle cx="656.0" cy="547.5" r="6.3"/><circle cx="639.0" cy="503.0" r="6.3"/><circle cx="645.0" cy="503.0" r="6.3"/><circle cx="669.0" cy="485.0" r="6.3"/><circle cx="681.0" cy="492.5" r="6.3"/><circle cx="675.0" cy="527.5" r="6.3"/><circle cx="687.5" cy="537.5" r="6.3"/><circle cx="697.5" cy="505.0" r="6.3"/><circle cx="705.0" cy="536.0" r="6.3"/><circle cx="712.0" cy="480.5" r="6.3"/><circle cx="724.5" cy="472.5" r="6.3"/><circle cx="736.0" cy="485.0" r="6.3"/><circle cx="719.0" cy="561.0" r="6.3"/><circle cx="730.5" cy="517.0" r="6.3"/><circle cx="742.5" cy="525.0" r="6.3"/><circle cx="749.0" cy="514.0" r="6.3"/><circle cx="755.5" cy="576.0" r="6.3"/><circle cx="761.0" cy="496.0" r="6.3"/><circle cx="767.5" cy="515.0" r="6.3"/><circle cx="774.0" cy="544.0" r="6.3"/><circle cx="780.5" cy="507.5" r="6.3"/><circle cx="792.5" cy="487.5" r="6.3"/><circle cx="804.5" cy="508.0" r="6.3"/><circle cx="810.5" cy="447.0" r="6.3"/><circle cx="829.5" cy="476.0" r="6.3"/><circle cx="847.5" cy="485.0" r="6.3"/><circle cx="854.0" cy="526.0" r="6.3"/><circle cx="860.0" cy="480.0" r="6.3"/><circle cx="872.5" cy="505.0" r="6.3"/><circle cx="879.0" cy="494.0" r="6.3"/><circle cx="885.0" cy="511.0" r="6.3"/><circle cx="891.0" cy="462.5" r="6.3"/><circle cx="897.5" cy="494.0" r="6.3"/><circle cx="909.0" cy="465.0" r="6.3"/><circle cx="900.0" cy="494.5" r="6.3"/><circle cx="926.6" cy="477.0" r="6.3"/><circle cx="941.0" cy="442.0" r="6.3"/><circle cx="946.6" cy="466.5" r="6.3"/><circle cx="957.0" cy="448.0" r="6.3"/><circle cx="970.0" cy="454.5" r="6.3"/><circle cx="978.0" cy="434.6" r="6.3"/><circle cx="984.0" cy="452.0" r="6.3"/><circle cx="996.0" cy="424.0" r="6.3"/><circle cx="1002.5" cy="436.0" r="6.3"/><circle cx="1009.0" cy="453.0" r="6.3"/><circle cx="1021.0" cy="450.5" r="6.3"/><circle cx="1040.0" cy="444.0" r="6.3"/><circle cx="1053.0" cy="429.0" r="6.3"/><circle cx="1059.0" cy="418.6" r="6.3"/><circle cx="1065.0" cy="428.0" r="6.3"/><circle cx="1070.4" cy="450.0" r="6.3"/><circle cx="1077.0" cy="432.0" r="6.3"/><circle cx="1089.0" cy="424.0" r="6.3"/><circle cx="1095.7" cy="456.0" r="6.3"/><circle cx="1101.6" cy="459.0" r="6.3"/><circle cx="1113.0" cy="448.0" r="6.3"/><circle cx="1119.7" cy="463.0" r="6.3"/><circle cx="1126.0" cy="425.0" r="6.3"/><circle cx="1137.8" cy="429.0" r="6.3"/><circle cx="1144.5" cy="421.0" r="6.3"/><circle cx="1157.0" cy="450.0" r="6.3"/><circle cx="1162.0" cy="429.0" r="6.3"/><circle cx="1175.6" cy="450.0" r="6.3"/><circle cx="1187.6" cy="430.6" r="6.3"/><circle cx="1200.0" cy="450.0" r="6.3"/><circle cx="1213.0" cy="414.6" r="6.3"/><circle cx="1225.4" cy="414.6" r="6.3"/><circle cx="1219.6" cy="429.0" r="6.3"/><circle cx="1231.5" cy="450.0" r="6.3"/><circle cx="1243.5" cy="450.0" r="6.3"/><circle cx="1238.0" cy="430.6" r="6.3"/><circle cx="1249.0" cy="429.0" r="6.3"/><circle cx="1257.0" cy="440.0" r="6.3"/><circle cx="1263.5" cy="422.6" r="6.3"/><circle cx="1269.0" cy="426.6" r="6.3"/><circle cx="1275.5" cy="430.6" r="6.3"/><circle cx="1275.0" cy="450.0" r="6.3"/><circle cx="1278.0" cy="436.0" r="6.3"/><circle cx="818.0" cy="492.0" r="6.3"/><circle cx="835.0" cy="488.0" r="6.3"/><circle cx="841.0" cy="492.0" r="6.3"/><circle cx="866.0" cy="488.0" r="6.3"/><circle cx="915.0" cy="470.0" r="6.3"/><circle cx="921.0" cy="462.0" r="6.3"/><circle cx="933.0" cy="458.0" r="6.3"/><circle cx="963.0" cy="446.0" r="6.3"/><circle cx="990.0" cy="440.0" r="6.3"/><circle cx="1015.0" cy="441.0" r="6.3"/><circle cx="1028.0" cy="436.0" r="6.3"/><circle cx="1034.0" cy="442.0" r="6.3"/><circle cx="1046.0" cy="434.0" r="6.3"/><circle cx="1083.0" cy="440.0" r="6.3"/><circle cx="1107.0" cy="436.0" r="6.3"/><circle cx="1132.0" cy="440.0" r="6.3"/><circle cx="1150.0" cy="436.0" r="6.3"/><circle cx="1169.0" cy="438.0" r="6.3"/><circle cx="1181.0" cy="442.0" r="6.3"/><circle cx="1194.0" cy="434.0" r="6.3"/><circle cx="1206.0" cy="440.0" r="6.3"/></g>
<line x1="117.5" y1="379.3" x2="117.5" y2="874.0" stroke="#636363" stroke-width="3.4" />
<line x1="120.8" y1="381.0" x2="120.8" y2="871.0" stroke="#bcbcbc" stroke-width="3.0" />
<line x1="115.8" y1="872.3" x2="1281.5" y2="872.3" stroke="#555" stroke-width="3.4" />
<line x1="107.0" y1="380.4" x2="116.0" y2="380.4" stroke="#a0a0a0" stroke-width="3.4" />
<text x="58.6" y="388.7" font-size="31.5" fill="#6a6a6a" textLength="47.7" lengthAdjust="spacingAndGlyphs">1.00</text>
<line x1="107.0" y1="503.4" x2="116.0" y2="503.4" stroke="#a0a0a0" stroke-width="3.4" />
<text x="58.6" y="511.7" font-size="31.5" fill="#6a6a6a" textLength="47.7" lengthAdjust="spacingAndGlyphs">0.75</text>
<line x1="107.0" y1="626.4" x2="116.0" y2="626.4" stroke="#a0a0a0" stroke-width="3.4" />
<text x="58.6" y="634.7" font-size="31.5" fill="#6a6a6a" textLength="47.7" lengthAdjust="spacingAndGlyphs">0.50</text>
<line x1="107.0" y1="749.4" x2="116.0" y2="749.4" stroke="#a0a0a0" stroke-width="3.4" />
<text x="58.6" y="757.7" font-size="31.5" fill="#6a6a6a" textLength="47.7" lengthAdjust="spacingAndGlyphs">0.25</text>
<line x1="107.0" y1="872.4" x2="116.0" y2="872.4" stroke="#a0a0a0" stroke-width="3.4" />
<text x="58.6" y="880.7" font-size="31.5" fill="#6a6a6a" textLength="47.7" lengthAdjust="spacingAndGlyphs">0.00</text>
<line x1="155.0" y1="872.0" x2="155.0" y2="880.0" stroke="#666" stroke-width="2.4" />
<text x="109.0" y="911.0" font-size="30.5" fill="#5a5a5a" textLength="85.0" lengthAdjust="spacingAndGlyphs">March</text>
<line x1="346.7" y1="872.0" x2="346.7" y2="880.0" stroke="#666" stroke-width="2.4" />
<text x="312.5" y="911.0" font-size="30.5" fill="#5a5a5a" textLength="63.5" lengthAdjust="spacingAndGlyphs">April</text>
<line x1="532.2" y1="872.0" x2="532.2" y2="880.0" stroke="#666" stroke-width="2.4" />
<text x="502.5" y="911.0" font-size="30.5" fill="#5a5a5a" textLength="56.5" lengthAdjust="spacingAndGlyphs">May</text>
<line x1="723.8" y1="872.0" x2="723.8" y2="880.0" stroke="#666" stroke-width="2.4" />
<text x="692.5" y="911.0" font-size="30.5" fill="#5a5a5a" textLength="63.5" lengthAdjust="spacingAndGlyphs">June</text>
<line x1="909.3" y1="872.0" x2="909.3" y2="880.0" stroke="#666" stroke-width="2.4" />
<text x="883.5" y="911.0" font-size="30.5" fill="#5a5a5a" textLength="53.5" lengthAdjust="spacingAndGlyphs">July</text>
<line x1="1101.0" y1="872.0" x2="1101.0" y2="880.0" stroke="#666" stroke-width="2.4" />
<text x="1062.0" y="911.0" font-size="30.5" fill="#5a5a5a" textLength="98.0" lengthAdjust="spacingAndGlyphs">August</text>
<text transform="translate(37.5,625.0) rotate(-90)" text-anchor="middle" font-size="30" fill="#444" textLength="330.0" lengthAdjust="spacingAndGlyphs">Fraction always masking</text>
<text x="468.0" y="738.3" font-size="32" fill="#2a2a2a" textLength="204.5" lengthAdjust="spacingAndGlyphs">Smoothed line</text>
<circle cx="1126.4" cy="561" r="6.3" fill="#000"/>
<text x="1139.7" y="573.0" font-size="31.5" fill="#2a2a2a" textLength="145.3" lengthAdjust="spacingAndGlyphs">SCAN data</text>
<text x="13.8" y="404.1" font-size="31.3" fill="#000" font-weight="bold" class="pl">B</text>
</g>
<g id="panelC">
<polygon points="140.7,1043.1 142.3,1046.6 144.0,1050.2 145.6,1053.8 147.2,1057.4 148.9,1061.0 150.5,1064.7 152.1,1068.4 153.7,1072.2 155.4,1075.9 157.0,1079.7 158.6,1083.0 160.3,1086.3 161.9,1089.7 163.5,1093.1 165.2,1096.5 166.8,1099.9 168.4,1103.3 170.1,1106.7 171.7,1110.5 173.3,1114.2 174.9,1118.0 176.6,1121.8 178.2,1125.5 179.8,1129.3 181.5,1133.0 183.1,1136.6 184.7,1140.2 186.4,1143.7 188.0,1147.2 189.6,1150.6 191.2,1154.0 192.9,1157.4 194.5,1160.8 196.1,1164.2 197.8,1167.7 199.4,1171.2 201.0,1174.8 202.7,1178.3 204.3,1181.9 205.9,1185.4 207.6,1188.9 209.2,1192.5 210.8,1196.0 212.4,1199.9 214.1,1203.8 215.7,1207.6 217.3,1211.5 219.0,1215.3 220.6,1219.2 222.2,1223.3 223.9,1227.5 225.5,1231.7 227.1,1236.0 228.8,1240.2 230.4,1244.3 232.0,1247.5 233.6,1250.6 235.3,1253.7 236.9,1256.8 238.5,1259.7 240.2,1262.6 241.8,1265.4 243.4,1268.1 245.1,1270.8 246.7,1273.3 248.3,1275.9 250.0,1278.6 251.6,1281.3 253.2,1284.3 254.8,1287.3 256.5,1290.4 258.1,1293.6 259.7,1296.6 261.4,1299.6 263.0,1302.4 264.6,1305.0 266.3,1307.4 267.9,1309.9 269.5,1312.3 271.1,1314.6 272.8,1316.8 274.4,1319.0 276.0,1321.0 277.7,1322.9 279.3,1324.8 280.9,1326.4 282.6,1328.1 284.2,1329.7 285.8,1331.2 287.5,1332.7 289.1,1334.1 290.7,1335.4 292.3,1336.6 294.0,1337.7 295.6,1338.7 297.2,1339.7 298.9,1340.6 300.5,1341.5 302.1,1342.3 303.8,1343.1 305.4,1343.8 307.0,1344.5 308.7,1345.1 310.3,1345.5 311.9,1345.9 313.5,1346.1 315.2,1346.3 316.8,1346.6 318.4,1346.8 320.1,1346.9 321.7,1347.1 323.3,1347.3 325.0,1347.4 326.6,1347.5 328.2,1347.7 329.9,1347.8 331.5,1347.8 333.1,1347.9 334.7,1347.9 336.4,1348.0 338.0,1348.0 339.6,1348.0 341.3,1347.9 342.9,1347.8 344.5,1347.7 346.2,1347.6 347.8,1347.5 349.4,1347.3 351.0,1347.1 352.7,1347.0 354.3,1346.8 355.9,1346.6 357.6,1346.4 359.2,1346.2 360.8,1345.9 362.5,1345.7 364.1,1345.5 365.7,1345.3 367.4,1345.2 369.0,1345.0 370.6,1344.8 372.2,1344.7 373.9,1344.5 375.5,1344.4 377.1,1344.3 378.8,1344.2 380.4,1344.1 382.0,1344.0 383.7,1343.9 385.3,1343.8 386.9,1343.8 388.6,1343.7 390.2,1343.6 391.8,1343.5 393.4,1343.4 395.1,1343.4 396.7,1343.3 398.3,1343.2 400.0,1343.2 401.6,1343.1 403.2,1343.0 404.9,1342.9 406.5,1342.9 408.1,1342.8 409.8,1342.7 411.4,1342.6 413.0,1342.6 414.6,1342.5 416.3,1342.4 417.9,1342.3 419.5,1342.2 421.2,1342.1 422.8,1342.1 424.4,1342.0 426.1,1341.9 427.7,1341.8 429.3,1341.6 430.9,1341.5 432.6,1341.4 434.2,1341.3 435.8,1341.2 437.5,1341.1 439.1,1341.0 440.7,1340.8 442.4,1340.7 444.0,1340.6 445.6,1340.5 447.3,1340.3 448.9,1340.2 450.5,1340.1 452.1,1340.0 453.8,1339.8 455.4,1339.7 457.0,1339.5 458.7,1339.4 460.3,1339.3 461.9,1339.1 463.6,1339.0 465.2,1338.8 466.8,1338.7 468.5,1338.6 470.1,1338.4 471.7,1338.3 473.3,1338.1 475.0,1338.0 476.6,1337.8 478.2,1337.7 479.9,1337.5 481.5,1337.4 483.1,1337.3 484.8,1337.1 486.4,1336.9 488.0,1336.8 489.7,1336.6 491.3,1336.5 492.9,1336.3 494.5,1336.1 496.2,1335.9 497.8,1335.8 499.4,1335.6 501.1,1335.4 502.7,1335.2 504.3,1334.9 506.0,1334.7 507.6,1334.4 509.2,1334.1 510.8,1333.8 512.5,1333.5 514.1,1333.2 515.7,1332.9 517.4,1332.6 519.0,1332.3 520.6,1332.0 522.3,1331.7 523.9,1331.3 525.5,1331.0 527.2,1330.7 528.8,1330.4 530.4,1330.1 532.0,1329.8 533.7,1329.6 535.3,1329.3 536.9,1329.1 538.6,1328.8 540.2,1328.6 541.8,1328.4 543.5,1328.2 545.1,1327.9 546.7,1327.7 548.4,1327.4 550.0,1327.2 551.6,1327.0 553.2,1326.8 554.9,1326.5 556.5,1326.3 558.1,1326.1 559.8,1326.0 561.4,1325.8 563.0,1325.7 564.7,1325.6 566.3,1325.5 567.9,1325.4 569.6,1325.3 571.2,1325.3 572.8,1325.4 574.4,1325.5 576.1,1325.7 577.7,1325.9 579.3,1326.1 581.0,1326.4 582.6,1326.8 584.2,1327.1 585.9,1327.5 587.5,1327.9 589.1,1328.3 590.7,1328.6 592.4,1329.0 594.0,1329.3 595.6,1329.6 597.3,1329.9 598.9,1330.1 600.5,1330.3 602.2,1330.4 603.8,1330.5 605.4,1330.6 607.1,1330.8 608.7,1330.9 610.3,1331.0 611.9,1331.1 613.6,1331.2 615.2,1331.3 616.8,1331.4 618.5,1331.5 620.1,1331.5 621.7,1331.6 623.4,1331.7 625.0,1331.7 626.6,1331.8 628.3,1331.8 629.9,1331.8 631.5,1331.8 633.1,1331.7 634.8,1331.6 636.4,1331.3 638.0,1331.0 639.7,1330.7 641.3,1330.4 642.9,1330.0 644.6,1329.7 646.2,1329.4 647.8,1329.1 649.5,1328.9 651.1,1328.8 652.7,1328.7 654.3,1328.6 656.0,1328.5 657.6,1328.4 659.2,1328.4 660.9,1328.3 662.5,1328.2 664.1,1328.2 665.8,1328.1 667.4,1328.1 669.0,1328.0 670.6,1328.0 672.3,1327.9 673.9,1327.9 675.5,1327.8 677.2,1327.7 678.8,1327.7 680.4,1327.6 682.1,1327.5 683.7,1327.5 685.3,1327.4 687.0,1327.4 688.6,1327.3 690.2,1327.3 691.8,1327.2 693.5,1327.1 695.1,1327.1 696.7,1327.0 698.4,1326.9 700.0,1326.8 701.6,1326.7 703.3,1326.6 704.9,1326.5 706.5,1326.3 708.2,1326.1 709.8,1325.9 711.4,1325.7 713.0,1325.5 714.7,1325.3 716.3,1325.1 717.9,1324.9 719.6,1324.6 721.2,1324.4 722.8,1324.2 724.5,1323.9 726.1,1323.7 727.7,1323.5 729.4,1323.3 731.0,1323.1 732.6,1322.9 734.2,1322.7 735.9,1322.4 737.5,1322.2 739.1,1322.0 740.8,1321.8 742.4,1321.5 744.0,1321.3 745.7,1321.1 747.3,1320.8 748.9,1320.6 750.6,1320.3 752.2,1320.0 753.8,1319.7 755.4,1319.5 757.1,1319.2 758.7,1318.8 760.3,1318.5 762.0,1318.2 763.6,1317.9 765.2,1317.5 766.9,1317.2 768.5,1316.9 770.1,1316.5 771.7,1316.2 773.4,1315.8 775.0,1315.4 776.6,1315.1 778.3,1314.7 779.9,1314.3 781.5,1314.0 783.2,1313.6 784.8,1313.3 786.4,1312.9 788.1,1312.5 789.7,1312.1 791.3,1311.6 792.9,1311.2 794.6,1310.7 796.2,1310.1 797.8,1309.5 799.5,1308.8 801.1,1308.1 802.7,1307.2 804.4,1306.4 806.0,1305.5 807.6,1304.6 809.3,1303.8 810.9,1302.9 812.5,1302.1 814.1,1301.4 815.8,1300.7 817.4,1299.9 819.0,1299.2 820.7,1298.5 822.3,1297.8 823.9,1297.3 825.6,1296.8 827.2,1296.4 828.8,1296.0 830.5,1295.7 832.1,1295.3 833.7,1295.1 835.3,1294.9 837.0,1294.7 838.6,1294.7 840.2,1294.7 841.9,1294.7 843.5,1294.7 845.1,1294.7 846.8,1294.7 848.4,1294.8 850.0,1294.8 851.6,1294.9 853.3,1294.9 854.9,1295.0 856.5,1295.0 858.2,1295.1 859.8,1295.1 861.4,1295.2 863.1,1295.2 864.7,1295.3 866.3,1295.3 868.0,1295.4 869.6,1295.5 871.2,1295.5 872.8,1295.6 874.5,1295.6 876.1,1295.7 877.7,1295.7 879.4,1295.8 881.0,1295.9 882.6,1295.9 884.3,1296.0 885.9,1296.1 887.5,1296.1 889.2,1296.2 890.8,1296.3 892.4,1296.3 894.0,1296.4 895.7,1296.5 897.3,1296.5 898.9,1296.6 900.6,1296.7 902.2,1296.8 903.8,1296.8 905.5,1296.9 907.1,1297.0 908.7,1297.0 910.4,1297.1 912.0,1297.2 913.6,1297.2 915.2,1297.3 916.9,1297.4 918.5,1297.4 920.1,1297.5 921.8,1297.5 923.4,1297.6 925.0,1297.6 926.7,1297.7 928.3,1297.7 929.9,1297.7 931.5,1297.8 933.2,1297.8 934.8,1297.9 936.4,1297.9 938.1,1298.0 939.7,1298.0 941.3,1298.1 943.0,1298.1 944.6,1298.1 946.2,1298.2 947.9,1298.2 949.5,1298.3 951.1,1298.3 952.7,1298.3 954.4,1298.4 956.0,1298.4 957.6,1298.4 959.3,1298.5 960.9,1298.5 962.5,1298.5 964.2,1298.5 965.8,1298.5 967.4,1298.6 969.1,1298.6 970.7,1298.6 972.3,1298.6 973.9,1298.6 975.6,1298.6 977.2,1298.6 978.8,1298.6 980.5,1298.6 982.1,1298.6 983.7,1298.6 985.4,1298.5 987.0,1298.5 988.6,1298.5 990.3,1298.5 991.9,1298.5 993.5,1298.5 995.1,1298.4 996.8,1298.4 998.4,1298.4 1000.0,1298.4 1001.7,1298.3 1003.3,1298.3 1004.9,1298.3 1006.6,1298.3 1008.2,1298.2 1009.8,1298.2 1011.4,1298.2 1013.1,1298.1 1014.7,1298.1 1016.3,1298.1 1018.0,1298.0 1019.6,1298.0 1021.2,1298.0 1022.9,1298.0 1024.5,1297.9 1026.1,1297.9 1027.8,1297.9 1029.4,1297.8 1031.0,1297.8 1032.6,1297.8 1034.3,1297.8 1035.9,1297.7 1037.5,1297.7 1039.2,1297.7 1040.8,1297.7 1042.4,1297.6 1044.1,1297.6 1045.7,1297.6 1047.3,1297.6 1049.0,1297.6 1050.6,1297.5 1052.2,1297.5 1053.8,1297.5 1055.5,1297.5 1057.1,1297.5 1058.7,1297.5 1060.4,1297.5 1062.0,1297.4 1063.6,1297.4 1065.3,1297.4 1066.9,1297.4 1068.5,1297.4 1070.2,1297.4 1071.8,1297.4 1073.4,1297.4 1075.0,1297.4 1076.7,1297.4 1078.3,1297.4 1079.9,1297.3 1081.6,1297.3 1083.2,1297.3 1084.8,1297.3 1086.5,1297.3 1088.1,1297.3 1089.7,1297.3 1091.3,1297.3 1093.0,1297.3 1094.6,1297.3 1096.2,1297.3 1097.9,1297.2 1099.5,1297.2 1101.1,1297.2 1102.8,1297.2 1104.4,1297.2 1106.0,1297.2 1107.7,1297.2 1109.3,1297.2 1110.9,1297.2 1112.5,1297.1 1114.2,1297.1 1115.8,1297.1 1117.4,1297.1 1119.1,1297.1 1120.7,1297.0 1122.3,1297.0 1124.0,1297.0 1125.6,1297.0 1127.2,1296.9 1128.9,1296.9 1130.5,1296.8 1132.1,1296.7 1133.7,1296.6 1135.4,1296.5 1137.0,1296.4 1138.6,1296.3 1140.3,1296.1 1141.9,1296.0 1143.5,1295.8 1145.2,1295.7 1146.8,1295.5 1148.4,1295.4 1150.1,1295.2 1151.7,1295.0 1153.3,1294.9 1154.9,1294.7 1156.6,1294.6 1158.2,1294.4 1159.8,1294.3 1161.5,1294.1 1163.1,1294.0 1164.7,1293.9 1166.4,1293.8 1168.0,1293.7 1169.6,1293.6 1171.2,1293.5 1172.9,1293.5 1174.5,1293.5 1176.1,1293.5 1177.8,1293.5 1179.4,1293.5 1181.0,1293.5 1182.7,1293.5 1184.3,1293.6 1185.9,1293.6 1187.6,1293.7 1189.2,1293.7 1190.8,1293.8 1192.4,1293.8 1194.1,1293.9 1195.7,1294.0 1197.3,1294.0 1199.0,1294.1 1200.6,1294.2 1202.2,1294.3 1203.9,1294.3 1205.5,1294.4 1207.1,1294.5 1208.8,1294.5 1210.4,1294.6 1212.0,1294.7 1213.6,1294.7 1215.3,1294.8 1216.9,1294.8 1218.5,1294.8 1220.2,1294.9 1221.8,1294.9 1223.4,1294.9 1225.1,1294.9 1226.7,1294.9 1228.3,1294.9 1230.0,1294.9 1231.6,1294.9 1233.2,1294.9 1234.8,1294.9 1236.5,1294.9 1238.1,1294.9 1239.7,1294.9 1241.4,1294.9 1243.0,1294.9 1244.6,1294.9 1246.3,1294.9 1247.9,1294.9 1249.5,1294.9 1251.1,1294.9 1252.8,1294.9 1254.4,1294.7 1256.0,1294.4 1257.7,1294.1 1259.3,1293.8 1260.9,1293.5 1262.6,1293.1 1264.2,1292.7 1265.8,1292.4 1267.5,1292.2 1269.1,1291.9 1270.7,1291.6 1272.3,1291.3 1274.0,1291.0 1275.6,1290.8 1277.2,1290.5 1278.9,1290.2 1280.5,1289.9 1280.5,1295.1 1278.9,1295.4 1277.2,1295.7 1275.6,1295.9 1274.0,1296.2 1272.3,1296.5 1270.7,1296.8 1269.1,1297.1 1267.5,1297.3 1265.8,1297.6 1264.2,1297.9 1262.6,1298.3 1260.9,1298.6 1259.3,1299.0 1257.7,1299.3 1256.0,1299.6 1254.4,1299.9 1252.8,1300.0 1251.1,1300.1 1249.5,1300.1 1247.9,1300.1 1246.3,1300.1 1244.6,1300.1 1243.0,1300.1 1241.4,1300.1 1239.7,1300.1 1238.1,1300.1 1236.5,1300.1 1234.8,1300.1 1233.2,1300.1 1231.6,1300.1 1230.0,1300.1 1228.3,1300.1 1226.7,1300.1 1225.1,1300.1 1223.4,1300.1 1221.8,1300.0 1220.2,1300.0 1218.5,1300.0 1216.9,1299.9 1215.3,1299.9 1213.6,1299.8 1212.0,1299.8 1210.4,1299.7 1208.8,1299.6 1207.1,1299.6 1205.5,1299.5 1203.9,1299.4 1202.2,1299.4 1200.6,1299.3 1199.0,1299.2 1197.3,1299.1 1195.7,1299.1 1194.1,1299.0 1192.4,1298.9 1190.8,1298.9 1189.2,1298.8 1187.6,1298.7 1185.9,1298.7 1184.3,1298.7 1182.7,1298.6 1181.0,1298.6 1179.4,1298.6 1177.8,1298.5 1176.1,1298.5 1174.5,1298.5 1172.9,1298.6 1171.2,1298.6 1169.6,1298.7 1168.0,1298.7 1166.4,1298.8 1164.7,1298.9 1163.1,1299.1 1161.5,1299.2 1159.8,1299.3 1158.2,1299.5 1156.6,1299.6 1154.9,1299.8 1153.3,1299.9 1151.7,1300.1 1150.1,1300.2 1148.4,1300.4 1146.8,1300.6 1145.2,1300.7 1143.5,1300.9 1141.9,1301.0 1140.3,1301.2 1138.6,1301.3 1137.0,1301.4 1135.4,1301.6 1133.7,1301.7 1132.1,1301.8 1130.5,1301.8 1128.9,1301.9 1127.2,1302.0 1125.6,1302.0 1124.0,1302.0 1122.3,1302.0 1120.7,1302.1 1119.1,1302.1 1117.4,1302.1 1115.8,1302.1 1114.2,1302.1 1112.5,1302.1 1110.9,1302.1 1109.3,1302.2 1107.7,1302.2 1106.0,1302.2 1104.4,1302.2 1102.8,1302.2 1101.1,1302.2 1099.5,1302.2 1097.9,1302.2 1096.2,1302.2 1094.6,1302.2 1093.0,1302.2 1091.3,1302.3 1089.7,1302.3 1088.1,1302.3 1086.5,1302.3 1084.8,1302.3 1083.2,1302.3 1081.6,1302.3 1079.9,1302.3 1078.3,1302.3 1076.7,1302.3 1075.0,1302.3 1073.4,1302.3 1071.8,1302.3 1070.2,1302.3 1068.5,1302.3 1066.9,1302.4 1065.3,1302.4 1063.6,1302.4 1062.0,1302.4 1060.4,1302.4 1058.7,1302.4 1057.1,1302.4 1055.5,1302.4 1053.8,1302.4 1052.2,1302.4 1050.6,1302.5 1049.0,1302.5 1047.3,1302.5 1045.7,1302.5 1044.1,1302.5 1042.4,1302.5 1040.8,1302.6 1039.2,1302.6 1037.5,1302.6 1035.9,1302.6 1034.3,1302.6 1032.6,1302.7 1031.0,1302.7 1029.4,1302.7 1027.8,1302.8 1026.1,1302.8 1024.5,1302.8 1022.9,1302.8 1021.2,1302.9 1019.6,1302.9 1018.0,1302.9 1016.3,1303.0 1014.7,1303.0 1013.1,1303.0 1011.4,1303.0 1009.8,1303.1 1008.2,1303.1 1006.6,1303.1 1004.9,1303.1 1003.3,1303.2 1001.7,1303.2 1000.0,1303.2 998.4,1303.2 996.8,1303.3 995.1,1303.3 993.5,1303.3 991.9,1303.3 990.3,1303.3 988.6,1303.4 987.0,1303.4 985.4,1303.4 983.7,1303.4 982.1,1303.4 980.5,1303.4 978.8,1303.4 977.2,1303.4 975.6,1303.4 973.9,1303.4 972.3,1303.4 970.7,1303.4 969.1,1303.4 967.4,1303.4 965.8,1303.4 964.2,1303.3 962.5,1303.3 960.9,1303.3 959.3,1303.3 957.6,1303.2 956.0,1303.2 954.4,1303.2 952.7,1303.1 951.1,1303.1 949.5,1303.1 947.9,1303.0 946.2,1303.0 944.6,1302.9 943.0,1302.9 941.3,1302.8 939.7,1302.8 938.1,1302.7 936.4,1302.7 934.8,1302.7 933.2,1302.6 931.5,1302.6 929.9,1302.5 928.3,1302.5 926.7,1302.4 925.0,1302.4 923.4,1302.3 921.8,1302.3 920.1,1302.2 918.5,1302.2 916.9,1302.1 915.2,1302.1 913.6,1302.0 912.0,1301.9 910.4,1301.9 908.7,1301.8 907.1,1301.7 905.5,1301.6 903.8,1301.6 902.2,1301.5 900.6,1301.4 898.9,1301.4 897.3,1301.3 895.7,1301.2 894.0,1301.1 892.4,1301.1 890.8,1301.0 889.2,1300.9 887.5,1300.8 885.9,1300.8 884.3,1300.7 882.6,1300.6 881.0,1300.6 879.4,1300.5 877.7,1300.4 876.1,1300.4 874.5,1300.3 872.8,1300.3 871.2,1300.2 869.6,1300.2 868.0,1300.1 866.3,1300.0 864.7,1300.0 863.1,1299.9 861.4,1299.9 859.8,1299.8 858.2,1299.7 856.5,1299.7 854.9,1299.6 853.3,1299.6 851.6,1299.5 850.0,1299.5 848.4,1299.5 846.8,1299.4 845.1,1299.4 843.5,1299.4 841.9,1299.3 840.2,1299.3 838.6,1299.3 837.0,1299.4 835.3,1299.5 833.7,1299.7 832.1,1300.0 830.5,1300.3 828.8,1300.7 827.2,1301.0 825.6,1301.4 823.9,1301.9 822.3,1302.5 820.7,1303.1 819.0,1303.8 817.4,1304.5 815.8,1305.3 814.1,1306.0 812.5,1306.8 810.9,1307.5 809.3,1308.4 807.6,1309.2 806.0,1310.1 804.4,1311.0 802.7,1311.9 801.1,1312.7 799.5,1313.4 797.8,1314.1 796.2,1314.7 794.6,1315.3 792.9,1315.8 791.3,1316.2 789.7,1316.7 788.1,1317.1 786.4,1317.5 784.8,1317.9 783.2,1318.2 781.5,1318.6 779.9,1318.9 778.3,1319.3 776.6,1319.6 775.0,1320.0 773.4,1320.4 771.7,1320.7 770.1,1321.1 768.5,1321.4 766.9,1321.8 765.2,1322.1 763.6,1322.4 762.0,1322.8 760.3,1323.1 758.7,1323.4 757.1,1323.7 755.4,1324.0 753.8,1324.3 752.2,1324.6 750.6,1324.8 748.9,1325.1 747.3,1325.4 745.7,1325.6 744.0,1325.9 742.4,1326.1 740.8,1326.3 739.1,1326.5 737.5,1326.8 735.9,1327.0 734.2,1327.2 732.6,1327.4 731.0,1327.6 729.4,1327.8 727.7,1328.0 726.1,1328.2 724.5,1328.5 722.8,1328.7 721.2,1328.9 719.6,1329.1 717.9,1329.4 716.3,1329.6 714.7,1329.8 713.0,1330.0 711.4,1330.2 709.8,1330.4 708.2,1330.6 706.5,1330.8 704.9,1331.0 703.3,1331.1 701.6,1331.2 700.0,1331.3 698.4,1331.4 696.7,1331.5 695.1,1331.5 693.5,1331.6 691.8,1331.7 690.2,1331.7 688.6,1331.8 687.0,1331.9 685.3,1331.9 683.7,1332.0 682.1,1332.0 680.4,1332.1 678.8,1332.1 677.2,1332.2 675.5,1332.2 673.9,1332.3 672.3,1332.4 670.6,1332.4 669.0,1332.5 667.4,1332.5 665.8,1332.6 664.1,1332.6 662.5,1332.7 660.9,1332.7 659.2,1332.8 657.6,1332.9 656.0,1332.9 654.3,1333.0 652.7,1333.1 651.1,1333.2 649.5,1333.3 647.8,1333.6 646.2,1333.8 644.6,1334.1 642.9,1334.5 641.3,1334.8 639.7,1335.1 638.0,1335.5 636.4,1335.7 634.8,1336.0 633.1,1336.1 631.5,1336.2 629.9,1336.2 628.3,1336.2 626.6,1336.2 625.0,1336.1 623.4,1336.1 621.7,1336.0 620.1,1335.9 618.5,1335.9 616.8,1335.8 615.2,1335.7 613.6,1335.6 611.9,1335.5 610.3,1335.4 608.7,1335.3 607.1,1335.1 605.4,1335.0 603.8,1334.9 602.2,1334.8 600.5,1334.6 598.9,1334.5 597.3,1334.2 595.6,1334.0 594.0,1333.7 592.4,1333.3 590.7,1333.0 589.1,1332.6 587.5,1332.2 585.9,1331.9 584.2,1331.5 582.6,1331.1 581.0,1330.8 579.3,1330.5 577.7,1330.2 576.1,1330.0 574.4,1329.8 572.8,1329.7 571.2,1329.7 569.6,1329.7 567.9,1329.7 566.3,1329.8 564.7,1329.9 563.0,1330.0 561.4,1330.1 559.8,1330.3 558.1,1330.5 556.5,1330.7 554.9,1330.9 553.2,1331.1 551.6,1331.3 550.0,1331.5 548.4,1331.7 546.7,1332.0 545.1,1332.2 543.5,1332.5 541.8,1332.7 540.2,1332.9 538.6,1333.1 536.9,1333.4 535.3,1333.6 533.7,1333.9 532.0,1334.1 530.4,1334.4 528.8,1334.7 527.2,1335.0 525.5,1335.3 523.9,1335.6 522.3,1335.9 520.6,1336.2 519.0,1336.6 517.4,1336.9 515.7,1337.2 514.1,1337.5 512.5,1337.8 510.8,1338.1 509.2,1338.4 507.6,1338.7 506.0,1338.9 504.3,1339.2 502.7,1339.4 501.1,1339.6 499.4,1339.8 497.8,1340.0 496.2,1340.2 494.5,1340.4 492.9,1340.5 491.3,1340.7 489.7,1340.9 488.0,1341.0 486.4,1341.2 484.8,1341.3 483.1,1341.5 481.5,1341.6 479.9,1341.8 478.2,1341.9 476.6,1342.1 475.0,1342.2 473.3,1342.3 471.7,1342.5 470.1,1342.6 468.5,1342.8 466.8,1342.9 465.2,1343.1 463.6,1343.2 461.9,1343.3 460.3,1343.5 458.7,1343.6 457.0,1343.7 455.4,1343.9 453.8,1344.0 452.1,1344.1 450.5,1344.3 448.9,1344.4 447.3,1344.5 445.6,1344.7 444.0,1344.8 442.4,1344.9 440.7,1345.0 439.1,1345.1 437.5,1345.3 435.8,1345.4 434.2,1345.5 432.6,1345.6 430.9,1345.7 429.3,1345.8 427.7,1345.9 426.1,1346.0 424.4,1346.1 422.8,1346.2 421.2,1346.3 419.5,1346.4 417.9,1346.5 416.3,1346.6 414.6,1346.6 413.0,1346.7 411.4,1346.8 409.8,1346.9 408.1,1346.9 406.5,1347.0 404.9,1347.1 403.2,1347.1 401.6,1347.2 400.0,1347.3 398.3,1347.4 396.7,1347.4 395.1,1347.5 393.4,1347.6 391.8,1347.6 390.2,1347.7 388.6,1347.8 386.9,1347.9 385.3,1348.0 383.7,1348.0 382.0,1348.1 380.4,1348.2 378.8,1348.3 377.1,1348.4 375.5,1348.5 373.9,1348.6 372.2,1348.8 370.6,1348.9 369.0,1349.1 367.4,1349.2 365.7,1349.4 364.1,1349.6 362.5,1349.8 360.8,1350.0 359.2,1350.2 357.6,1350.4 355.9,1350.6 354.3,1350.8 352.7,1351.0 351.0,1351.2 349.4,1351.4 347.8,1351.5 346.2,1351.7 344.5,1351.8 342.9,1351.9 341.3,1351.9 339.6,1352.0 338.0,1352.0 336.4,1352.0 334.7,1352.0 333.1,1351.9 331.5,1351.9 329.9,1351.8 328.2,1351.7 326.6,1351.6 325.0,1351.4 323.3,1351.3 321.7,1351.1 320.1,1351.0 318.4,1350.8 316.8,1350.6 315.2,1350.4 313.5,1350.1 311.9,1349.9 310.3,1349.5 308.7,1349.1 307.0,1348.5 305.4,1347.8 303.8,1347.1 302.1,1346.3 300.5,1345.5 298.9,1344.6 297.2,1343.7 295.6,1342.7 294.0,1341.7 292.3,1340.6 290.7,1339.4 289.1,1338.1 287.5,1336.7 285.8,1335.2 284.2,1333.7 282.6,1332.1 280.9,1330.4 279.3,1328.8 277.7,1326.9 276.0,1325.0 274.4,1323.0 272.8,1320.8 271.1,1318.6 269.5,1316.3 267.9,1313.9 266.3,1311.4 264.6,1309.0 263.0,1306.4 261.4,1303.6 259.7,1300.6 258.1,1297.6 256.5,1294.4 254.8,1291.3 253.2,1288.3 251.6,1285.3 250.0,1282.6 248.3,1279.9 246.7,1277.3 245.1,1274.8 243.4,1272.5 241.8,1270.2 240.2,1267.9 238.5,1265.5 236.9,1262.9 235.3,1260.3 233.6,1257.7 232.0,1254.9 230.4,1252.1 228.8,1250.2 227.1,1248.4 225.5,1246.7 223.9,1245.0 222.2,1243.4 220.6,1241.6 219.0,1239.6 217.3,1237.6 215.7,1235.7 214.1,1233.7 212.4,1231.7 210.8,1229.7 209.2,1227.4 207.6,1225.1 205.9,1222.8 204.3,1220.4 202.7,1218.1 201.0,1215.8 199.4,1213.5 197.8,1211.1 196.1,1208.7 194.5,1206.3 192.9,1203.9 191.2,1201.5 189.6,1199.1 188.0,1196.7 186.4,1194.2 184.7,1191.7 183.1,1189.1 181.5,1186.4 179.8,1183.7 178.2,1180.9 176.6,1178.0 174.9,1175.2 173.3,1172.3 171.7,1169.5 170.1,1166.7 168.4,1163.6 166.8,1160.4 165.2,1157.2 163.5,1154.1 161.9,1150.9 160.3,1147.8 158.6,1144.7 157.0,1141.7 155.4,1139.3 153.7,1136.8 152.1,1134.5 150.5,1132.1 148.9,1129.8 147.2,1127.5 145.6,1125.2 144.0,1122.9 142.3,1120.7 140.7,1118.5" fill="#737373" />
<polyline points="140.7,1080.8 142.3,1083.7 144.0,1086.6 145.6,1089.5 147.2,1092.4 148.9,1095.4 150.5,1098.4 152.1,1101.4 153.7,1104.5 155.4,1107.6 157.0,1110.7 158.6,1113.8 160.3,1117.1 161.9,1120.3 163.5,1123.6 165.2,1126.9 166.8,1130.1 168.4,1133.4 170.1,1136.7 171.7,1140.0 173.3,1143.3 174.9,1146.6 176.6,1149.9 178.2,1153.2 179.8,1156.5 181.5,1159.7 183.1,1162.8 184.7,1165.9 186.4,1169.0 188.0,1171.9 189.6,1174.9 191.2,1177.8 192.9,1180.7 194.5,1183.6 196.1,1186.5 197.8,1189.4 199.4,1192.3 201.0,1195.3 202.7,1198.2 204.3,1201.1 205.9,1204.1 207.6,1207.0 209.2,1209.9 210.8,1212.9 212.4,1215.8 214.1,1218.7 215.7,1221.6 217.3,1224.6 219.0,1227.5 220.6,1230.4 222.2,1233.3 223.9,1236.3 225.5,1239.2 227.1,1242.2 228.8,1245.2 230.4,1248.2 232.0,1251.2 233.6,1254.1 235.3,1257.0 236.9,1259.9 238.5,1262.6 240.2,1265.2 241.8,1267.8 243.4,1270.3 245.1,1272.8 246.7,1275.3 248.3,1277.9 250.0,1280.6 251.6,1283.3 253.2,1286.3 254.8,1289.3 256.5,1292.4 258.1,1295.6 259.7,1298.6 261.4,1301.6 263.0,1304.4 264.6,1307.0 266.3,1309.4 267.9,1311.9 269.5,1314.3 271.1,1316.6 272.8,1318.8 274.4,1321.0 276.0,1323.0 277.7,1324.9 279.3,1326.8 280.9,1328.4 282.6,1330.1 284.2,1331.7 285.8,1333.2 287.5,1334.7 289.1,1336.1 290.7,1337.4 292.3,1338.6 294.0,1339.7 295.6,1340.7 297.2,1341.7 298.9,1342.6 300.5,1343.5 302.1,1344.3 303.8,1345.1 305.4,1345.8 307.0,1346.5 308.7,1347.1 310.3,1347.5 311.9,1347.9 313.5,1348.1 315.2,1348.4 316.8,1348.6 318.4,1348.8 320.1,1349.0 321.7,1349.1 323.3,1349.3 325.0,1349.4 326.6,1349.6 328.2,1349.7 329.9,1349.8 331.5,1349.9 333.1,1349.9 334.7,1350.0 336.4,1350.0 338.0,1350.0 339.6,1350.0 341.3,1349.9 342.9,1349.8 344.5,1349.7 346.2,1349.6 347.8,1349.5 349.4,1349.3 351.0,1349.2 352.7,1349.0 354.3,1348.8 355.9,1348.6 357.6,1348.4 359.2,1348.2 360.8,1348.0 362.5,1347.8 364.1,1347.6 365.7,1347.4 367.4,1347.2 369.0,1347.0 370.6,1346.9 372.2,1346.7 373.9,1346.6 375.5,1346.5 377.1,1346.4 378.8,1346.3 380.4,1346.2 382.0,1346.1 383.7,1346.0 385.3,1345.9 386.9,1345.8 388.6,1345.7 390.2,1345.7 391.8,1345.6 393.4,1345.5 395.1,1345.4 396.7,1345.4 398.3,1345.3 400.0,1345.2 401.6,1345.1 403.2,1345.1 404.9,1345.0 406.5,1344.9 408.1,1344.9 409.8,1344.8 411.4,1344.7 413.0,1344.6 414.6,1344.6 416.3,1344.5 417.9,1344.4 419.5,1344.3 421.2,1344.2 422.8,1344.1 424.4,1344.0 426.1,1343.9 427.7,1343.8 429.3,1343.7 430.9,1343.6 432.6,1343.5 434.2,1343.4 435.8,1343.3 437.5,1343.2 439.1,1343.1 440.7,1342.9 442.4,1342.8 444.0,1342.7 445.6,1342.6 447.3,1342.4 448.9,1342.3 450.5,1342.2 452.1,1342.0 453.8,1341.9 455.4,1341.8 457.0,1341.6 458.7,1341.5 460.3,1341.4 461.9,1341.2 463.6,1341.1 465.2,1341.0 466.8,1340.8 468.5,1340.7 470.1,1340.5 471.7,1340.4 473.3,1340.2 475.0,1340.1 476.6,1339.9 478.2,1339.8 479.9,1339.7 481.5,1339.5 483.1,1339.4 484.8,1339.2 486.4,1339.1 488.0,1338.9 489.7,1338.7 491.3,1338.6 492.9,1338.4 494.5,1338.2 496.2,1338.1 497.8,1337.9 499.4,1337.7 501.1,1337.5 502.7,1337.3 504.3,1337.0 506.0,1336.8 507.6,1336.5 509.2,1336.3 510.8,1336.0 512.5,1335.7 514.1,1335.4 515.7,1335.1 517.4,1334.7 519.0,1334.4 520.6,1334.1 522.3,1333.8 523.9,1333.5 525.5,1333.2 527.2,1332.9 528.8,1332.6 530.4,1332.3 532.0,1332.0 533.7,1331.7 535.3,1331.5 536.9,1331.2 538.6,1331.0 540.2,1330.8 541.8,1330.5 543.5,1330.3 545.1,1330.1 546.7,1329.8 548.4,1329.6 550.0,1329.4 551.6,1329.1 553.2,1328.9 554.9,1328.7 556.5,1328.5 558.1,1328.3 559.8,1328.1 561.4,1328.0 563.0,1327.8 564.7,1327.7 566.3,1327.6 567.9,1327.6 569.6,1327.5 571.2,1327.5 572.8,1327.5 574.4,1327.7 576.1,1327.8 577.7,1328.0 579.3,1328.3 581.0,1328.6 582.6,1329.0 584.2,1329.3 585.9,1329.7 587.5,1330.1 589.1,1330.4 590.7,1330.8 592.4,1331.2 594.0,1331.5 595.6,1331.8 597.3,1332.1 598.9,1332.3 600.5,1332.5 602.2,1332.6 603.8,1332.7 605.4,1332.8 607.1,1333.0 608.7,1333.1 610.3,1333.2 611.9,1333.3 613.6,1333.4 615.2,1333.5 616.8,1333.6 618.5,1333.7 620.1,1333.7 621.7,1333.8 623.4,1333.9 625.0,1333.9 626.6,1334.0 628.3,1334.0 629.9,1334.0 631.5,1334.0 633.1,1333.9 634.8,1333.8 636.4,1333.5 638.0,1333.3 639.7,1332.9 641.3,1332.6 642.9,1332.3 644.6,1331.9 646.2,1331.6 647.8,1331.3 649.5,1331.1 651.1,1331.0 652.7,1330.9 654.3,1330.8 656.0,1330.7 657.6,1330.6 659.2,1330.6 660.9,1330.5 662.5,1330.5 664.1,1330.4 665.8,1330.3 667.4,1330.3 669.0,1330.2 670.6,1330.2 672.3,1330.1 673.9,1330.1 675.5,1330.0 677.2,1330.0 678.8,1329.9 680.4,1329.8 682.1,1329.8 683.7,1329.7 685.3,1329.7 687.0,1329.6 688.6,1329.6 690.2,1329.5 691.8,1329.4 693.5,1329.4 695.1,1329.3 696.7,1329.2 698.4,1329.1 700.0,1329.1 701.6,1329.0 703.3,1328.8 704.9,1328.7 706.5,1328.5 708.2,1328.4 709.8,1328.2 711.4,1328.0 713.0,1327.8 714.7,1327.6 716.3,1327.3 717.9,1327.1 719.6,1326.9 721.2,1326.6 722.8,1326.4 724.5,1326.2 726.1,1326.0 727.7,1325.8 729.4,1325.6 731.0,1325.4 732.6,1325.1 734.2,1324.9 735.9,1324.7 737.5,1324.5 739.1,1324.3 740.8,1324.0 742.4,1323.8 744.0,1323.6 745.7,1323.3 747.3,1323.1 748.9,1322.8 750.6,1322.6 752.2,1322.3 753.8,1322.0 755.4,1321.7 757.1,1321.4 758.7,1321.1 760.3,1320.8 762.0,1320.5 763.6,1320.2 765.2,1319.8 766.9,1319.5 768.5,1319.1 770.1,1318.8 771.7,1318.4 773.4,1318.1 775.0,1317.7 776.6,1317.4 778.3,1317.0 779.9,1316.6 781.5,1316.3 783.2,1315.9 784.8,1315.6 786.4,1315.2 788.1,1314.8 789.7,1314.4 791.3,1313.9 792.9,1313.5 794.6,1313.0 796.2,1312.4 797.8,1311.8 799.5,1311.1 801.1,1310.4 802.7,1309.5 804.4,1308.7 806.0,1307.8 807.6,1306.9 809.3,1306.1 810.9,1305.2 812.5,1304.4 814.1,1303.7 815.8,1303.0 817.4,1302.2 819.0,1301.5 820.7,1300.8 822.3,1300.1 823.9,1299.6 825.6,1299.1 827.2,1298.7 828.8,1298.4 830.5,1298.0 832.1,1297.7 833.7,1297.4 835.3,1297.2 837.0,1297.0 838.6,1297.0 840.2,1297.0 841.9,1297.0 843.5,1297.0 845.1,1297.1 846.8,1297.1 848.4,1297.1 850.0,1297.2 851.6,1297.2 853.3,1297.2 854.9,1297.3 856.5,1297.3 858.2,1297.4 859.8,1297.5 861.4,1297.5 863.1,1297.6 864.7,1297.6 866.3,1297.7 868.0,1297.8 869.6,1297.8 871.2,1297.9 872.8,1297.9 874.5,1298.0 876.1,1298.0 877.7,1298.1 879.4,1298.2 881.0,1298.2 882.6,1298.3 884.3,1298.3 885.9,1298.4 887.5,1298.5 889.2,1298.5 890.8,1298.6 892.4,1298.7 894.0,1298.8 895.7,1298.8 897.3,1298.9 898.9,1299.0 900.6,1299.1 902.2,1299.1 903.8,1299.2 905.5,1299.3 907.1,1299.3 908.7,1299.4 910.4,1299.5 912.0,1299.6 913.6,1299.6 915.2,1299.7 916.9,1299.7 918.5,1299.8 920.1,1299.9 921.8,1299.9 923.4,1300.0 925.0,1300.0 926.7,1300.0 928.3,1300.1 929.9,1300.1 931.5,1300.2 933.2,1300.2 934.8,1300.3 936.4,1300.3 938.1,1300.4 939.7,1300.4 941.3,1300.4 943.0,1300.5 944.6,1300.5 946.2,1300.6 947.9,1300.6 949.5,1300.7 951.1,1300.7 952.7,1300.7 954.4,1300.8 956.0,1300.8 957.6,1300.8 959.3,1300.9 960.9,1300.9 962.5,1300.9 964.2,1300.9 965.8,1300.9 967.4,1301.0 969.1,1301.0 970.7,1301.0 972.3,1301.0 973.9,1301.0 975.6,1301.0 977.2,1301.0 978.8,1301.0 980.5,1301.0 982.1,1301.0 983.7,1301.0 985.4,1301.0 987.0,1300.9 988.6,1300.9 990.3,1300.9 991.9,1300.9 993.5,1300.9 995.1,1300.9 996.8,1300.8 998.4,1300.8 1000.0,1300.8 1001.7,1300.8 1003.3,1300.7 1004.9,1300.7 1006.6,1300.7 1008.2,1300.7 1009.8,1300.6 1011.4,1300.6 1013.1,1300.6 1014.7,1300.5 1016.3,1300.5 1018.0,1300.5 1019.6,1300.5 1021.2,1300.4 1022.9,1300.4 1024.5,1300.4 1026.1,1300.3 1027.8,1300.3 1029.4,1300.3 1031.0,1300.3 1032.6,1300.2 1034.3,1300.2 1035.9,1300.2 1037.5,1300.2 1039.2,1300.1 1040.8,1300.1 1042.4,1300.1 1044.1,1300.1 1045.7,1300.0 1047.3,1300.0 1049.0,1300.0 1050.6,1300.0 1052.2,1300.0 1053.8,1300.0 1055.5,1300.0 1057.1,1299.9 1058.7,1299.9 1060.4,1299.9 1062.0,1299.9 1063.6,1299.9 1065.3,1299.9 1066.9,1299.9 1068.5,1299.9 1070.2,1299.9 1071.8,1299.9 1073.4,1299.9 1075.0,1299.8 1076.7,1299.8 1078.3,1299.8 1079.9,1299.8 1081.6,1299.8 1083.2,1299.8 1084.8,1299.8 1086.5,1299.8 1088.1,1299.8 1089.7,1299.8 1091.3,1299.8 1093.0,1299.8 1094.6,1299.8 1096.2,1299.7 1097.9,1299.7 1099.5,1299.7 1101.1,1299.7 1102.8,1299.7 1104.4,1299.7 1106.0,1299.7 1107.7,1299.7 1109.3,1299.7 1110.9,1299.6 1112.5,1299.6 1114.2,1299.6 1115.8,1299.6 1117.4,1299.6 1119.1,1299.6 1120.7,1299.6 1122.3,1299.5 1124.0,1299.5 1125.6,1299.5 1127.2,1299.5 1128.9,1299.4 1130.5,1299.3 1132.1,1299.2 1133.7,1299.1 1135.4,1299.0 1137.0,1298.9 1138.6,1298.8 1140.3,1298.7 1141.9,1298.5 1143.5,1298.4 1145.2,1298.2 1146.8,1298.0 1148.4,1297.9 1150.1,1297.7 1151.7,1297.6 1153.3,1297.4 1154.9,1297.2 1156.6,1297.1 1158.2,1296.9 1159.8,1296.8 1161.5,1296.7 1163.1,1296.5 1164.7,1296.4 1166.4,1296.3 1168.0,1296.2 1169.6,1296.1 1171.2,1296.1 1172.9,1296.0 1174.5,1296.0 1176.1,1296.0 1177.8,1296.0 1179.4,1296.0 1181.0,1296.0 1182.7,1296.1 1184.3,1296.1 1185.9,1296.2 1187.6,1296.2 1189.2,1296.3 1190.8,1296.3 1192.4,1296.4 1194.1,1296.4 1195.7,1296.5 1197.3,1296.6 1199.0,1296.7 1200.6,1296.7 1202.2,1296.8 1203.9,1296.9 1205.5,1296.9 1207.1,1297.0 1208.8,1297.1 1210.4,1297.2 1212.0,1297.2 1213.6,1297.3 1215.3,1297.3 1216.9,1297.4 1218.5,1297.4 1220.2,1297.4 1221.8,1297.5 1223.4,1297.5 1225.1,1297.5 1226.7,1297.5 1228.3,1297.5 1230.0,1297.5 1231.6,1297.5 1233.2,1297.5 1234.8,1297.5 1236.5,1297.5 1238.1,1297.5 1239.7,1297.5 1241.4,1297.5 1243.0,1297.5 1244.6,1297.5 1246.3,1297.5 1247.9,1297.5 1249.5,1297.5 1251.1,1297.5 1252.8,1297.4 1254.4,1297.3 1256.0,1297.0 1257.7,1296.7 1259.3,1296.4 1260.9,1296.0 1262.6,1295.7 1264.2,1295.3 1265.8,1295.0 1267.5,1294.8 1269.1,1294.5 1270.7,1294.2 1272.3,1293.9 1274.0,1293.6 1275.6,1293.4 1277.2,1293.1 1278.9,1292.8 1280.5,1292.5" fill="none" stroke="#000" stroke-width="2.7" stroke-linejoin="round" />
<polyline points="140.7,1080.8 142.3,1083.7 144.0,1086.6 145.6,1089.5 147.2,1092.4 148.9,1095.4 150.5,1098.4 152.1,1101.4 153.7,1104.5 155.4,1107.6 157.0,1110.7 158.6,1113.8 160.3,1117.1 161.9,1120.3 163.5,1123.6 165.2,1126.9 166.8,1130.1 168.4,1133.4 170.1,1136.7 171.7,1140.0 173.3,1143.3 174.9,1146.6 176.6,1149.9 178.2,1153.2 179.8,1156.5 181.5,1159.7 183.1,1162.8 184.7,1165.9 186.4,1169.0 188.0,1171.9 189.6,1174.9 191.2,1177.8 192.9,1180.7 194.5,1183.6 196.1,1186.5 197.8,1189.4 199.4,1192.3 201.0,1195.3 202.7,1198.2 204.3,1201.1 205.9,1204.1 207.6,1207.0 209.2,1209.9 210.8,1212.9 212.4,1215.8 214.1,1218.7 215.7,1221.6 217.3,1224.6 219.0,1227.5 220.6,1230.4 222.2,1233.3 223.9,1236.3 225.5,1239.2 227.1,1242.2 228.8,1245.2 230.4,1248.2 232.0,1251.2 233.6,1254.1 235.3,1257.0 236.9,1259.9 238.5,1262.6 240.2,1265.2 241.8,1267.8 243.4,1270.3 245.1,1272.8 246.7,1275.3 248.3,1277.9 250.0,1280.6 251.6,1283.3 253.2,1286.3 254.8,1289.3 256.5,1292.4 258.1,1295.6 259.7,1298.6 261.4,1301.6 263.0,1304.4 264.6,1307.0 266.3,1309.4 267.9,1311.9 269.5,1314.3 271.1,1316.6 272.8,1318.8 274.4,1321.0 276.0,1323.0 277.7,1324.9 279.3,1326.8 280.9,1328.4 282.6,1330.1 284.2,1331.7 285.8,1333.2 287.5,1334.7 289.1,1336.1 290.7,1337.4 292.3,1338.6 294.0,1339.7 295.6,1340.7 297.2,1341.7 298.9,1342.6 300.5,1343.5 302.1,1344.3 303.8,1345.1 305.4,1345.8 307.0,1346.5 308.7,1347.1 310.3,1347.5 311.9,1347.9 313.5,1348.1 315.2,1348.4 316.8,1348.6 318.4,1348.8 320.1,1349.0 321.7,1349.1 323.3,1349.3 325.0,1349.4 326.6,1349.6 328.2,1349.7 329.9,1349.8 331.5,1349.9 333.1,1349.9 334.7,1350.0 336.4,1350.0 338.0,1350.0 339.6,1350.0 341.3,1349.9 342.9,1349.8 344.5,1349.7 346.2,1349.6 347.8,1349.5 349.4,1349.3" fill="none" stroke="#000" stroke-width="4.0" stroke-linejoin="round" />
<polygon points="340.0,1348.0 341.9,1347.7 343.8,1347.5 345.7,1347.2 347.5,1346.9 349.4,1346.7 351.3,1346.4 353.2,1346.2 355.1,1346.0 357.0,1345.7 358.8,1345.5 360.7,1345.3 362.6,1345.0 364.5,1344.8 366.4,1344.6 368.3,1344.4 370.2,1344.2 372.0,1344.0 373.9,1343.8 375.8,1343.7 377.7,1343.5 379.6,1343.3 381.5,1343.2 383.3,1343.0 385.2,1342.9 387.1,1342.8 389.0,1342.6 390.9,1342.5 392.8,1342.3 394.7,1342.2 396.5,1342.0 398.4,1341.8 400.3,1341.7 402.2,1341.5 404.1,1341.2 406.0,1341.0 407.9,1340.8 409.7,1340.5 411.6,1340.3 413.5,1340.0 415.4,1339.7 417.3,1339.4 419.2,1339.1 421.0,1338.8 422.9,1338.5 424.8,1338.2 426.7,1337.9 428.6,1337.6 430.5,1337.2 432.4,1336.9 434.2,1336.6 436.1,1336.3 438.0,1336.0 439.9,1335.7 441.8,1335.4 443.7,1335.1 445.5,1334.8 447.4,1334.5 449.3,1334.2 451.2,1333.9 453.1,1333.7 455.0,1333.4 456.9,1333.2 458.7,1333.0 460.6,1332.8 462.5,1332.5 464.4,1332.3 466.3,1332.1 468.2,1331.8 470.0,1331.5 471.9,1331.3 473.8,1330.9 475.7,1330.6 477.6,1330.2 479.5,1329.6 481.4,1329.0 483.2,1328.3 485.1,1327.5 487.0,1326.7 488.9,1325.8 490.8,1325.0 492.7,1324.1 494.6,1323.3 496.4,1322.5 498.3,1321.8 500.2,1321.2 502.1,1320.7 504.0,1320.2 505.9,1319.8 507.7,1319.4 509.6,1319.0 511.5,1318.6 513.4,1318.3 515.3,1317.9 517.2,1317.5 519.1,1317.2 520.9,1316.8 522.8,1316.4 524.7,1316.0 526.6,1315.6 528.5,1315.2 530.4,1314.7 532.2,1314.2 534.1,1313.7 536.0,1313.2 537.9,1312.7 539.8,1312.2 541.7,1311.7 543.6,1311.2 545.4,1310.7 547.3,1310.3 549.2,1309.9 551.1,1309.5 553.0,1309.1 554.9,1308.7 556.7,1308.2 558.6,1307.8 560.5,1307.4 562.4,1307.0 564.3,1306.6 566.2,1306.3 568.1,1305.9 569.9,1305.7 571.8,1305.5 573.7,1305.3 575.6,1305.2 577.5,1305.3 579.4,1305.4 581.3,1305.5 583.1,1305.8 585.0,1306.0 586.9,1306.3 588.8,1306.7 590.7,1307.0 592.6,1307.3 594.4,1307.5 596.3,1307.8 598.2,1307.9 600.1,1308.0 602.0,1308.0 603.9,1308.0 605.8,1307.9 607.6,1307.9 609.5,1307.9 611.4,1307.9 613.3,1307.9 615.2,1307.8 617.1,1307.8 618.9,1307.8 620.8,1307.8 622.7,1307.8 624.6,1307.8 626.5,1307.7 628.4,1307.7 630.3,1307.6 632.1,1307.4 634.0,1307.2 635.9,1307.0 637.8,1306.7 639.7,1306.4 641.6,1306.1 643.4,1305.8 645.3,1305.4 647.2,1305.1 649.1,1304.8 651.0,1304.5 652.9,1304.2 654.8,1303.8 656.6,1303.4 658.5,1303.0 660.4,1302.5 662.3,1302.0 664.2,1301.6 666.1,1301.1 667.9,1300.7 669.8,1300.3 671.7,1299.9 673.6,1299.6 675.5,1299.3 677.4,1299.1 679.3,1298.9 681.1,1298.7 683.0,1298.5 684.9,1298.3 686.8,1298.2 688.7,1298.0 690.6,1297.9 692.5,1297.8 694.3,1297.6 696.2,1297.4 698.1,1297.3 700.0,1297.1 701.9,1296.9 703.8,1296.6 705.6,1296.4 707.5,1296.1 709.4,1295.9 711.3,1295.6 713.2,1295.4 715.1,1295.1 717.0,1294.8 718.8,1294.5 720.7,1294.2 722.6,1293.9 724.5,1293.6 726.4,1293.3 728.3,1293.0 730.1,1292.6 732.0,1292.3 733.9,1291.9 735.8,1291.6 737.7,1291.2 739.6,1290.8 741.5,1290.4 743.3,1290.0 745.2,1289.5 747.1,1289.1 749.0,1288.6 750.9,1288.0 752.8,1287.4 754.6,1286.8 756.5,1286.2 758.4,1285.6 760.3,1285.0 762.2,1284.3 764.1,1283.7 766.0,1283.1 767.8,1282.6 769.7,1282.0 771.6,1281.4 773.5,1280.9 775.4,1280.3 777.3,1279.7 779.2,1279.1 781.0,1278.5 782.9,1277.9 784.8,1277.2 786.7,1276.5 788.6,1275.8 790.5,1275.0 792.3,1274.1 794.2,1273.2 796.1,1272.3 798.0,1271.3 799.9,1270.3 801.8,1269.3 803.7,1268.3 805.5,1267.3 807.4,1266.3 809.3,1265.3 811.2,1264.2 813.1,1263.2 815.0,1262.2 816.8,1261.0 818.7,1259.8 820.6,1258.5 822.5,1257.3 824.4,1256.1 826.3,1255.0 828.2,1254.0 830.0,1253.3 831.9,1252.8 833.8,1252.2 835.7,1251.8 837.6,1251.3 839.5,1250.9 841.3,1250.5 843.2,1250.2 845.1,1249.9 847.0,1249.7 848.9,1249.6 850.8,1249.5 852.7,1249.5 854.5,1249.5 856.4,1249.6 858.3,1249.6 860.2,1249.7 862.1,1249.8 864.0,1249.8 865.9,1249.9 867.7,1250.0 869.6,1250.1 871.5,1250.3 873.4,1250.4 875.3,1250.5 877.2,1250.6 879.0,1250.7 880.9,1250.8 882.8,1250.9 884.7,1251.0 886.6,1251.1 888.5,1251.2 890.4,1251.3 892.2,1251.4 894.1,1251.4 896.0,1251.5 897.9,1251.5 899.8,1251.5 901.7,1251.5 903.5,1251.4 905.4,1251.3 907.3,1251.2 909.2,1251.0 911.1,1250.9 913.0,1250.7 914.9,1250.5 916.7,1250.3 918.6,1250.1 920.5,1249.9 922.4,1249.7 924.3,1249.6 926.2,1249.4 928.0,1249.3 929.9,1249.2 931.8,1249.1 933.7,1248.9 935.6,1248.8 937.5,1248.7 939.4,1248.6 941.2,1248.5 943.1,1248.4 945.0,1248.3 946.9,1248.2 948.8,1248.1 950.7,1248.0 952.6,1247.8 954.4,1247.7 956.3,1247.6 958.2,1247.4 960.1,1247.3 962.0,1247.2 963.9,1247.1 965.7,1246.9 967.6,1246.8 969.5,1246.6 971.4,1246.5 973.3,1246.3 975.2,1246.1 977.1,1245.9 978.9,1245.6 980.8,1245.3 982.7,1244.9 984.6,1244.5 986.5,1244.2 988.4,1243.7 990.2,1243.3 992.1,1242.9 994.0,1242.5 995.9,1242.1 997.8,1241.7 999.7,1241.3 1001.6,1240.8 1003.4,1240.4 1005.3,1239.9 1007.2,1239.5 1009.1,1239.1 1011.0,1238.8 1012.9,1238.5 1014.7,1238.3 1016.6,1238.0 1018.5,1237.8 1020.4,1237.6 1022.3,1237.3 1024.2,1237.1 1026.1,1236.9 1027.9,1236.7 1029.8,1236.5 1031.7,1236.4 1033.6,1236.2 1035.5,1236.0 1037.4,1235.9 1039.2,1235.7 1041.1,1235.6 1043.0,1235.4 1044.9,1235.3 1046.8,1235.2 1048.7,1235.1 1050.6,1235.0 1052.4,1234.9 1054.3,1234.8 1056.2,1234.7 1058.1,1234.6 1060.0,1234.5 1061.9,1234.4 1063.8,1234.3 1065.6,1234.2 1067.5,1234.1 1069.4,1234.0 1071.3,1233.9 1073.2,1233.8 1075.1,1233.8 1076.9,1233.7 1078.8,1233.6 1080.7,1233.6 1082.6,1233.5 1084.5,1233.5 1086.4,1233.5 1088.3,1233.4 1090.1,1233.5 1092.0,1233.6 1093.9,1233.7 1095.8,1234.0 1097.7,1234.2 1099.6,1234.4 1101.4,1234.7 1103.3,1234.9 1105.2,1235.2 1107.1,1235.3 1109.0,1235.5 1110.9,1235.6 1112.8,1235.6 1114.6,1235.5 1116.5,1235.5 1118.4,1235.5 1120.3,1235.4 1122.2,1235.4 1124.1,1235.4 1125.9,1235.4 1127.8,1235.3 1129.7,1235.2 1131.6,1235.1 1133.5,1235.0 1135.4,1234.9 1137.3,1234.7 1139.1,1234.5 1141.0,1234.3 1142.9,1234.1 1144.8,1233.9 1146.7,1233.6 1148.6,1233.4 1150.5,1233.1 1152.3,1232.9 1154.2,1232.7 1156.1,1232.4 1158.0,1232.2 1159.9,1231.9 1161.8,1231.5 1163.6,1231.1 1165.5,1230.7 1167.4,1230.3 1169.3,1229.8 1171.2,1229.4 1173.1,1229.1 1175.0,1228.8 1176.8,1228.5 1178.7,1228.4 1180.6,1228.3 1182.5,1228.3 1184.4,1228.3 1186.3,1228.4 1188.1,1228.4 1190.0,1228.6 1191.9,1228.7 1193.8,1228.8 1195.7,1229.0 1197.6,1229.1 1199.5,1229.3 1201.3,1229.4 1203.2,1229.6 1205.1,1229.7 1207.0,1229.9 1208.9,1230.1 1210.8,1230.3 1212.6,1230.5 1214.5,1230.7 1216.4,1230.9 1218.3,1231.1 1220.2,1231.2 1222.1,1231.3 1224.0,1231.4 1225.8,1231.4 1227.7,1231.4 1229.6,1231.3 1231.5,1231.1 1233.4,1230.9 1235.3,1230.6 1237.2,1230.3 1239.0,1230.0 1240.9,1229.7 1242.8,1229.3 1244.7,1228.9 1246.6,1228.6 1248.5,1228.2 1250.3,1227.8 1252.2,1227.5 1254.1,1227.1 1256.0,1226.7 1257.9,1226.2 1259.8,1225.8 1261.7,1225.3 1263.5,1224.8 1265.4,1224.3 1267.3,1223.9 1269.2,1223.4 1271.1,1223.0 1273.0,1222.7 1274.8,1222.3 1276.7,1222.0 1278.6,1221.8 1280.5,1221.5 1280.5,1248.5 1278.6,1248.7 1276.7,1249.0 1274.8,1249.2 1273.0,1249.5 1271.1,1249.9 1269.2,1250.2 1267.3,1250.7 1265.4,1251.1 1263.5,1251.5 1261.7,1252.0 1259.8,1252.4 1257.9,1252.9 1256.0,1253.3 1254.1,1253.7 1252.2,1254.1 1250.3,1254.4 1248.5,1254.7 1246.6,1255.0 1244.7,1255.4 1242.8,1255.7 1240.9,1256.1 1239.0,1256.4 1237.2,1256.7 1235.3,1256.9 1233.4,1257.2 1231.5,1257.4 1229.6,1257.5 1227.7,1257.6 1225.8,1257.6 1224.0,1257.5 1222.1,1257.4 1220.2,1257.3 1218.3,1257.1 1216.4,1256.9 1214.5,1256.7 1212.6,1256.4 1210.8,1256.2 1208.9,1256.0 1207.0,1255.8 1205.1,1255.6 1203.2,1255.4 1201.3,1255.2 1199.5,1255.0 1197.6,1254.9 1195.7,1254.7 1193.8,1254.5 1191.9,1254.3 1190.0,1254.2 1188.1,1254.0 1186.3,1253.9 1184.4,1253.8 1182.5,1253.8 1180.6,1253.7 1178.7,1253.8 1176.8,1253.9 1175.0,1254.2 1173.1,1254.4 1171.2,1254.8 1169.3,1255.1 1167.4,1255.5 1165.5,1255.9 1163.6,1256.3 1161.8,1256.7 1159.9,1257.0 1158.0,1257.3 1156.1,1257.5 1154.2,1257.7 1152.3,1257.9 1150.5,1258.1 1148.6,1258.3 1146.7,1258.5 1144.8,1258.7 1142.9,1258.9 1141.0,1259.0 1139.1,1259.2 1137.3,1259.3 1135.4,1259.4 1133.5,1259.5 1131.6,1259.6 1129.7,1259.6 1127.8,1259.7 1125.9,1259.6 1124.1,1259.6 1122.2,1259.6 1120.3,1259.6 1118.4,1259.5 1116.5,1259.5 1114.6,1259.5 1112.8,1259.4 1110.9,1259.4 1109.0,1259.3 1107.1,1259.1 1105.2,1258.8 1103.3,1258.5 1101.4,1258.2 1099.6,1257.9 1097.7,1257.6 1095.8,1257.3 1093.9,1257.1 1092.0,1256.8 1090.1,1256.7 1088.3,1256.6 1086.4,1256.5 1084.5,1256.5 1082.6,1256.5 1080.7,1256.5 1078.8,1256.5 1076.9,1256.5 1075.1,1256.5 1073.2,1256.5 1071.3,1256.6 1069.4,1256.6 1067.5,1256.6 1065.6,1256.6 1063.8,1256.7 1061.9,1256.7 1060.0,1256.8 1058.1,1256.8 1056.2,1256.8 1054.3,1256.9 1052.4,1256.9 1050.6,1257.0 1048.7,1257.0 1046.8,1257.1 1044.9,1257.2 1043.0,1257.2 1041.1,1257.3 1039.2,1257.4 1037.4,1257.5 1035.5,1257.6 1033.6,1257.7 1031.7,1257.8 1029.8,1257.9 1027.9,1258.1 1026.1,1258.2 1024.2,1258.4 1022.3,1258.5 1020.4,1258.7 1018.5,1258.8 1016.6,1259.0 1014.7,1259.2 1012.9,1259.4 1011.0,1259.6 1009.1,1259.9 1007.2,1260.2 1005.3,1260.6 1003.4,1261.0 1001.6,1261.4 999.7,1261.8 997.8,1262.2 995.9,1262.5 994.0,1262.8 992.1,1263.2 990.2,1263.5 988.4,1263.9 986.5,1264.2 984.6,1264.6 982.7,1264.9 980.8,1265.2 978.9,1265.5 977.1,1265.7 975.2,1265.9 973.3,1266.0 971.4,1266.1 969.5,1266.2 967.6,1266.3 965.7,1266.4 963.9,1266.5 962.0,1266.6 960.1,1266.6 958.2,1266.7 956.3,1266.8 954.4,1266.8 952.6,1266.9 950.7,1267.0 948.8,1267.1 946.9,1267.2 945.0,1267.3 943.1,1267.4 941.2,1267.5 939.4,1267.6 937.5,1267.7 935.6,1267.8 933.7,1267.9 931.8,1268.1 929.9,1268.2 928.0,1268.3 926.2,1268.4 924.3,1268.6 922.4,1268.7 920.5,1268.9 918.6,1269.1 916.7,1269.3 914.9,1269.5 913.0,1269.7 911.1,1269.9 909.2,1270.0 907.3,1270.2 905.4,1270.3 903.5,1270.4 901.7,1270.5 899.8,1270.5 897.9,1270.5 896.0,1270.5 894.1,1270.4 892.2,1270.4 890.4,1270.3 888.5,1270.2 886.6,1270.1 884.7,1270.0 882.8,1269.9 880.9,1269.8 879.0,1269.7 877.2,1269.6 875.3,1269.5 873.4,1269.4 871.5,1269.3 869.6,1269.1 867.7,1269.0 865.9,1268.9 864.0,1268.8 862.1,1268.8 860.2,1268.7 858.3,1268.6 856.4,1268.6 854.5,1268.5 852.7,1268.5 850.8,1268.5 848.9,1268.6 847.0,1268.7 845.1,1268.9 843.2,1269.2 841.3,1269.5 839.5,1269.9 837.6,1270.3 835.7,1270.8 833.8,1271.2 831.9,1271.8 830.0,1272.3 828.2,1273.0 826.3,1274.0 824.4,1275.1 822.5,1276.3 820.6,1277.5 818.7,1278.8 816.8,1280.0 815.0,1281.2 813.1,1282.2 811.2,1283.2 809.3,1284.3 807.4,1285.3 805.5,1286.3 803.7,1287.3 801.8,1288.3 799.9,1289.3 798.0,1290.2 796.1,1291.1 794.2,1292.0 792.3,1292.7 790.5,1293.5 788.6,1294.2 786.7,1294.8 784.8,1295.4 782.9,1296.0 781.0,1296.6 779.2,1297.1 777.3,1297.6 775.4,1298.1 773.5,1298.5 771.6,1299.0 769.7,1299.5 767.8,1300.0 766.0,1300.4 764.1,1300.9 762.2,1301.4 760.3,1302.0 758.4,1302.5 756.5,1303.0 754.6,1303.6 752.8,1304.1 750.9,1304.6 749.0,1305.0 747.1,1305.4 745.2,1305.8 743.3,1306.1 741.5,1306.5 739.6,1306.8 737.7,1307.1 735.8,1307.4 733.9,1307.6 732.0,1307.9 730.1,1308.1 728.3,1308.4 726.4,1308.6 724.5,1308.8 722.6,1309.0 720.7,1309.2 718.8,1309.5 717.0,1309.6 715.1,1309.8 713.2,1310.0 711.3,1310.2 709.4,1310.4 707.5,1310.5 705.6,1310.7 703.8,1310.8 701.9,1311.0 700.0,1311.1 698.1,1311.2 696.2,1311.4 694.3,1311.5 692.5,1311.6 690.6,1311.7 688.7,1311.8 686.8,1311.9 684.9,1312.0 683.0,1312.2 681.1,1312.3 679.3,1312.5 677.4,1312.6 675.5,1312.8 673.6,1313.1 671.7,1313.4 669.8,1313.7 667.9,1314.1 666.1,1314.5 664.2,1314.9 662.3,1315.3 660.4,1315.7 658.5,1316.1 656.6,1316.5 654.8,1316.9 652.9,1317.2 651.0,1317.5 649.1,1317.8 647.2,1318.1 645.3,1318.4 643.4,1318.6 641.6,1318.9 639.7,1319.2 637.8,1319.4 635.9,1319.7 634.0,1319.9 632.1,1320.0 630.3,1320.2 628.4,1320.2 626.5,1320.3 624.6,1320.2 622.7,1320.2 620.8,1320.2 618.9,1320.2 617.1,1320.2 615.2,1320.2 613.3,1320.1 611.4,1320.1 609.5,1320.1 607.6,1320.1 605.8,1320.1 603.9,1320.0 602.0,1320.0 600.1,1320.0 598.2,1319.9 596.3,1319.7 594.4,1319.4 592.6,1319.1 590.7,1318.8 588.8,1318.4 586.9,1318.1 585.0,1317.7 583.1,1317.4 581.3,1317.2 579.4,1316.9 577.5,1316.8 575.6,1316.8 573.7,1316.8 571.8,1316.9 569.9,1317.1 568.1,1317.3 566.2,1317.6 564.3,1317.9 562.4,1318.2 560.5,1318.6 558.6,1319.0 556.7,1319.4 554.9,1319.8 553.0,1320.1 551.1,1320.5 549.2,1320.9 547.3,1321.2 545.4,1321.6 543.6,1322.1 541.7,1322.5 539.8,1323.0 537.9,1323.5 536.0,1323.9 534.1,1324.4 532.2,1324.8 530.4,1325.3 528.5,1325.7 526.6,1326.1 524.7,1326.5 522.8,1326.9 520.9,1327.2 519.1,1327.6 517.2,1327.9 515.3,1328.2 513.4,1328.5 511.5,1328.9 509.6,1329.2 507.7,1329.5 505.9,1329.9 504.0,1330.3 502.1,1330.7 500.2,1331.2 498.3,1331.8 496.4,1332.4 494.6,1333.1 492.7,1333.8 490.8,1334.6 488.9,1335.3 487.0,1336.1 485.1,1336.9 483.2,1337.5 481.4,1338.2 479.5,1338.7 477.6,1339.2 475.7,1339.5 473.8,1339.8 471.9,1340.0 470.0,1340.2 468.2,1340.4 466.3,1340.6 464.4,1340.8 462.5,1340.9 460.6,1341.0 458.7,1341.2 456.9,1341.3 455.0,1341.5 453.1,1341.6 451.2,1341.8 449.3,1342.0 447.4,1342.2 445.5,1342.4 443.7,1342.6 441.8,1342.8 439.9,1343.0 438.0,1343.3 436.1,1343.5 434.2,1343.7 432.4,1344.0 430.5,1344.2 428.6,1344.4 426.7,1344.7 424.8,1344.9 422.9,1345.1 421.0,1345.4 419.2,1345.6 417.3,1345.8 415.4,1346.0 413.5,1346.2 411.6,1346.4 409.7,1346.6 407.9,1346.7 406.0,1346.9 404.1,1347.0 402.2,1347.2 400.3,1347.3 398.4,1347.4 396.5,1347.5 394.7,1347.6 392.8,1347.6 390.9,1347.7 389.0,1347.8 387.1,1347.8 385.2,1347.9 383.3,1347.9 381.5,1348.0 379.6,1348.1 377.7,1348.1 375.8,1348.2 373.9,1348.3 372.0,1348.4 370.2,1348.5 368.3,1348.7 366.4,1348.8 364.5,1348.9 362.6,1349.0 360.7,1349.2 358.8,1349.3 357.0,1349.5 355.1,1349.6 353.2,1349.8 351.3,1349.9 349.4,1350.1 347.5,1350.3 345.7,1350.4 343.8,1350.6 341.9,1350.8 340.0,1351.0" fill="#b9b9b9" />
<polyline points="340.0,1349.5 341.9,1349.3 343.8,1349.0 345.7,1348.8 347.5,1348.6 349.4,1348.4 351.3,1348.2 353.2,1348.0 355.1,1347.8 357.0,1347.6 358.8,1347.4 360.7,1347.2 362.6,1347.0 364.5,1346.9 366.4,1346.7 368.3,1346.5 370.2,1346.4 372.0,1346.2 373.9,1346.1 375.8,1345.9 377.7,1345.8 379.6,1345.7 381.5,1345.6 383.3,1345.5 385.2,1345.4 387.1,1345.3 389.0,1345.2 390.9,1345.1 392.8,1345.0 394.7,1344.9 396.5,1344.8 398.4,1344.6 400.3,1344.5 402.2,1344.3 404.1,1344.1 406.0,1344.0 407.9,1343.8 409.7,1343.5 411.6,1343.3 413.5,1343.1 415.4,1342.8 417.3,1342.6 419.2,1342.3 421.0,1342.1 422.9,1341.8 424.8,1341.5 426.7,1341.3 428.6,1341.0 430.5,1340.7 432.4,1340.4 434.2,1340.2 436.1,1339.9 438.0,1339.6 439.9,1339.3 441.8,1339.1 443.7,1338.8 445.5,1338.6 447.4,1338.3 449.3,1338.1 451.2,1337.9 453.1,1337.6 455.0,1337.5 456.9,1337.3 458.7,1337.1 460.6,1336.9 462.5,1336.7 464.4,1336.5 466.3,1336.3 468.2,1336.1 470.0,1335.9 471.9,1335.6 473.8,1335.4 475.7,1335.1 477.6,1334.7 479.5,1334.2 481.4,1333.6 483.2,1332.9 485.1,1332.2 487.0,1331.4 488.9,1330.6 490.8,1329.8 492.7,1329.0 494.6,1328.2 496.4,1327.5 498.3,1326.8 500.2,1326.2 502.1,1325.7 504.0,1325.3 505.9,1324.9 507.7,1324.5 509.6,1324.1 511.5,1323.7 513.4,1323.4 515.3,1323.1 517.2,1322.7 519.1,1322.4 520.9,1322.0 522.8,1321.7 524.7,1321.3 526.6,1320.9 528.5,1320.4 530.4,1320.0 532.2,1319.5 534.1,1319.0 536.0,1318.6 537.9,1318.1 539.8,1317.6 541.7,1317.1 543.6,1316.6 545.4,1316.2 547.3,1315.8 549.2,1315.4 551.1,1315.0 553.0,1314.6 554.9,1314.2 556.7,1313.8 558.6,1313.4 560.5,1313.0 562.4,1312.6 564.3,1312.3 566.2,1311.9 568.1,1311.6 569.9,1311.4 571.8,1311.2 573.7,1311.1 575.6,1311.0 577.5,1311.0 579.4,1311.1 581.3,1311.3 583.1,1311.6 585.0,1311.9 586.9,1312.2 588.8,1312.6 590.7,1312.9 592.6,1313.2 594.4,1313.5 596.3,1313.7 598.2,1313.9 600.1,1314.0 602.0,1314.0 603.9,1314.0 605.8,1314.0 607.6,1314.0 609.5,1314.0 611.4,1314.0 613.3,1314.0 615.2,1314.0 617.1,1314.0 618.9,1314.0 620.8,1314.0 622.7,1314.0 624.6,1314.0 626.5,1314.0 628.4,1314.0 630.3,1313.9 632.1,1313.7 634.0,1313.5 635.9,1313.3 637.8,1313.1 639.7,1312.8 641.6,1312.5 643.4,1312.2 645.3,1311.9 647.2,1311.6 649.1,1311.3 651.0,1311.0 652.9,1310.7 654.8,1310.3 656.6,1310.0 658.5,1309.5 660.4,1309.1 662.3,1308.7 664.2,1308.2 666.1,1307.8 667.9,1307.4 669.8,1307.0 671.7,1306.6 673.6,1306.3 675.5,1306.1 677.4,1305.8 679.3,1305.7 681.1,1305.5 683.0,1305.3 684.9,1305.2 686.8,1305.1 688.7,1304.9 690.6,1304.8 692.5,1304.7 694.3,1304.5 696.2,1304.4 698.1,1304.3 700.0,1304.1 701.9,1303.9 703.8,1303.7 705.6,1303.5 707.5,1303.3 709.4,1303.1 711.3,1302.9 713.2,1302.7 715.1,1302.5 717.0,1302.2 718.8,1302.0 720.7,1301.7 722.6,1301.5 724.5,1301.2 726.4,1300.9 728.3,1300.7 730.1,1300.4 732.0,1300.1 733.9,1299.8 735.8,1299.5 737.7,1299.1 739.6,1298.8 741.5,1298.4 743.3,1298.1 745.2,1297.7 747.1,1297.2 749.0,1296.8 750.9,1296.3 752.8,1295.7 754.6,1295.2 756.5,1294.6 758.4,1294.0 760.3,1293.5 762.2,1292.9 764.1,1292.3 766.0,1291.8 767.8,1291.3 769.7,1290.7 771.6,1290.2 773.5,1289.7 775.4,1289.2 777.3,1288.6 779.2,1288.1 781.0,1287.5 782.9,1286.9 784.8,1286.3 786.7,1285.7 788.6,1285.0 790.5,1284.2 792.3,1283.4 794.2,1282.6 796.1,1281.7 798.0,1280.8 799.9,1279.8 801.8,1278.8 803.7,1277.8 805.5,1276.8 807.4,1275.8 809.3,1274.8 811.2,1273.7 813.1,1272.7 815.0,1271.7 816.8,1270.5 818.7,1269.3 820.6,1268.0 822.5,1266.8 824.4,1265.6 826.3,1264.5 828.2,1263.5 830.0,1262.8 831.9,1262.3 833.8,1261.7 835.7,1261.3 837.6,1260.8 839.5,1260.4 841.3,1260.0 843.2,1259.7 845.1,1259.4 847.0,1259.2 848.9,1259.1 850.8,1259.0 852.7,1259.0 854.5,1259.0 856.4,1259.1 858.3,1259.1 860.2,1259.2 862.1,1259.3 864.0,1259.3 865.9,1259.4 867.7,1259.5 869.6,1259.6 871.5,1259.8 873.4,1259.9 875.3,1260.0 877.2,1260.1 879.0,1260.2 880.9,1260.3 882.8,1260.4 884.7,1260.5 886.6,1260.6 888.5,1260.7 890.4,1260.8 892.2,1260.9 894.1,1260.9 896.0,1261.0 897.9,1261.0 899.8,1261.0 901.7,1261.0 903.5,1260.9 905.4,1260.8 907.3,1260.7 909.2,1260.5 911.1,1260.4 913.0,1260.2 914.9,1260.0 916.7,1259.8 918.6,1259.6 920.5,1259.4 922.4,1259.2 924.3,1259.1 926.2,1258.9 928.0,1258.8 929.9,1258.7 931.8,1258.6 933.7,1258.4 935.6,1258.3 937.5,1258.2 939.4,1258.1 941.2,1258.0 943.1,1257.9 945.0,1257.8 946.9,1257.7 948.8,1257.6 950.7,1257.5 952.6,1257.4 954.4,1257.3 956.3,1257.2 958.2,1257.1 960.1,1257.0 962.0,1256.9 963.9,1256.8 965.7,1256.7 967.6,1256.6 969.5,1256.4 971.4,1256.3 973.3,1256.1 975.2,1256.0 977.1,1255.8 978.9,1255.5 980.8,1255.2 982.7,1254.9 984.6,1254.6 986.5,1254.2 988.4,1253.8 990.2,1253.4 992.1,1253.1 994.0,1252.7 995.9,1252.3 997.8,1251.9 999.7,1251.5 1001.6,1251.1 1003.4,1250.7 1005.3,1250.3 1007.2,1249.9 1009.1,1249.5 1011.0,1249.2 1012.9,1249.0 1014.7,1248.7 1016.6,1248.5 1018.5,1248.3 1020.4,1248.1 1022.3,1247.9 1024.2,1247.7 1026.1,1247.6 1027.9,1247.4 1029.8,1247.2 1031.7,1247.1 1033.6,1246.9 1035.5,1246.8 1037.4,1246.7 1039.2,1246.6 1041.1,1246.4 1043.0,1246.3 1044.9,1246.2 1046.8,1246.1 1048.7,1246.1 1050.6,1246.0 1052.4,1245.9 1054.3,1245.8 1056.2,1245.8 1058.1,1245.7 1060.0,1245.6 1061.9,1245.5 1063.8,1245.5 1065.6,1245.4 1067.5,1245.4 1069.4,1245.3 1071.3,1245.2 1073.2,1245.2 1075.1,1245.1 1076.9,1245.1 1078.8,1245.1 1080.7,1245.0 1082.6,1245.0 1084.5,1245.0 1086.4,1245.0 1088.3,1245.0 1090.1,1245.1 1092.0,1245.2 1093.9,1245.4 1095.8,1245.6 1097.7,1245.9 1099.6,1246.2 1101.4,1246.5 1103.3,1246.7 1105.2,1247.0 1107.1,1247.2 1109.0,1247.4 1110.9,1247.5 1112.8,1247.5 1114.6,1247.5 1116.5,1247.5 1118.4,1247.5 1120.3,1247.5 1122.2,1247.5 1124.1,1247.5 1125.9,1247.5 1127.8,1247.5 1129.7,1247.4 1131.6,1247.4 1133.5,1247.3 1135.4,1247.1 1137.3,1247.0 1139.1,1246.8 1141.0,1246.7 1142.9,1246.5 1144.8,1246.3 1146.7,1246.1 1148.6,1245.8 1150.5,1245.6 1152.3,1245.4 1154.2,1245.2 1156.1,1245.0 1158.0,1244.7 1159.9,1244.4 1161.8,1244.1 1163.6,1243.7 1165.5,1243.3 1167.4,1242.9 1169.3,1242.5 1171.2,1242.1 1173.1,1241.8 1175.0,1241.5 1176.8,1241.2 1178.7,1241.1 1180.6,1241.0 1182.5,1241.0 1184.4,1241.1 1186.3,1241.1 1188.1,1241.2 1190.0,1241.4 1191.9,1241.5 1193.8,1241.7 1195.7,1241.8 1197.6,1242.0 1199.5,1242.2 1201.3,1242.3 1203.2,1242.5 1205.1,1242.6 1207.0,1242.8 1208.9,1243.0 1210.8,1243.2 1212.6,1243.5 1214.5,1243.7 1216.4,1243.9 1218.3,1244.1 1220.2,1244.3 1222.1,1244.4 1224.0,1244.5 1225.8,1244.5 1227.7,1244.5 1229.6,1244.4 1231.5,1244.2 1233.4,1244.0 1235.3,1243.8 1237.2,1243.5 1239.0,1243.2 1240.9,1242.9 1242.8,1242.5 1244.7,1242.2 1246.6,1241.8 1248.5,1241.5 1250.3,1241.1 1252.2,1240.8 1254.1,1240.4 1256.0,1240.0 1257.9,1239.6 1259.8,1239.1 1261.7,1238.6 1263.5,1238.2 1265.4,1237.7 1267.3,1237.3 1269.2,1236.8 1271.1,1236.4 1273.0,1236.1 1274.8,1235.8 1276.7,1235.5 1278.6,1235.2 1280.5,1235.0" fill="none" stroke="#1c1c1c" stroke-width="3.4" stroke-linejoin="round" stroke-dasharray="12.5 11"/>
<line x1="116.0" y1="1304.0" x2="1278.0" y2="1304.0" stroke="#333" stroke-width="2.8" stroke-dasharray="2.8 9"/>
<polygon points="143.4,973.4 144.7,983.4 145.9,993.2 147.2,1002.5 148.5,1011.4 149.7,1019.8 151.0,1027.9 152.3,1035.7 153.5,1043.2 154.8,1050.5 156.0,1057.8 157.3,1064.9 158.6,1071.9 159.8,1078.8 161.1,1085.4 162.4,1091.9 163.6,1098.2 164.9,1104.5 166.2,1110.8 167.4,1116.8 168.7,1122.2 170.0,1126.9 171.2,1130.8 172.5,1134.3 173.8,1137.4 175.0,1140.4 176.3,1143.1 177.6,1145.7 178.8,1148.3 180.1,1150.7 181.3,1153.2 182.6,1155.7 183.9,1158.4 185.1,1161.0 186.4,1163.7 187.7,1166.3 188.9,1168.9 190.2,1171.4 191.5,1174.0 192.7,1176.5 194.0,1179.0 195.3,1181.6 196.5,1184.1 197.8,1186.6 199.1,1189.1 200.3,1191.6 201.6,1194.1 202.8,1196.6 204.1,1199.1 205.4,1201.5 206.6,1204.0 207.9,1206.3 209.2,1208.6 210.4,1210.9 211.7,1213.2 213.0,1215.6 214.2,1218.0 215.5,1220.4 216.8,1222.6 218.0,1224.7 219.3,1226.3 220.6,1227.7 221.8,1228.6 223.1,1229.4 224.4,1230.2 225.6,1230.9 226.9,1231.5 228.1,1232.1 229.4,1232.5 230.7,1232.8 231.9,1233.0 233.2,1233.1 234.5,1233.2 235.7,1233.2 237.0,1233.3 238.3,1233.3 239.5,1233.4 240.8,1233.4 242.1,1233.4 243.3,1233.5 244.6,1233.5 245.9,1233.6 247.1,1233.6 248.4,1233.7 249.6,1233.7 250.9,1233.8 252.2,1233.9 253.4,1234.1 254.7,1234.2 256.0,1234.4 257.2,1234.6 258.5,1234.9 259.8,1235.1 261.0,1235.4 262.3,1235.8 263.6,1236.1 264.8,1236.5 266.1,1236.9 267.4,1237.3 268.6,1237.8 269.9,1238.2 271.1,1238.7 272.4,1239.2 273.7,1239.9 274.9,1240.8 276.2,1241.8 277.5,1243.0 278.7,1244.3 280.0,1245.7 281.3,1247.2 282.5,1248.7 283.8,1250.3 285.1,1251.8 286.3,1253.4 287.6,1255.0 288.9,1256.7 290.1,1258.5 291.4,1260.4 292.7,1262.4 293.9,1264.3 295.2,1266.4 296.4,1268.4 297.7,1270.4 299.0,1272.4 300.2,1274.4 301.5,1276.4 302.8,1278.3 304.0,1280.2 305.3,1282.1 306.6,1284.0 307.8,1285.9 309.1,1287.9 310.4,1289.8 311.6,1291.7 312.9,1293.6 314.2,1295.5 315.4,1297.4 316.7,1299.2 317.9,1301.1 319.2,1302.9 320.5,1304.8 321.7,1306.7 323.0,1308.6 324.3,1310.4 325.5,1312.2 326.8,1314.0 328.1,1315.6 329.3,1317.2 330.6,1318.7 331.9,1320.1 333.1,1321.5 334.4,1322.9 335.7,1324.2 336.9,1325.4 338.2,1326.5 339.5,1327.6 340.7,1328.5 342.0,1329.4 343.2,1330.3 344.5,1331.1 345.8,1331.9 347.0,1332.6 348.3,1333.3 349.6,1333.8 350.8,1334.3 352.1,1334.8 353.4,1335.3 354.6,1335.8 355.9,1336.2 357.2,1336.6 358.4,1337.0 359.7,1337.2 361.0,1337.4 362.2,1337.5 363.5,1337.5 364.7,1337.5 366.0,1337.4 367.3,1337.4 368.5,1337.4 369.8,1337.3 371.1,1337.2 372.3,1337.1 373.6,1337.0 374.9,1336.9 376.1,1336.8 377.4,1336.7 378.7,1336.6 379.9,1336.5 381.2,1336.3 382.5,1336.2 383.7,1336.0 385.0,1335.9 386.3,1335.7 387.5,1335.6 388.8,1335.4 390.0,1335.3 391.3,1335.1 392.6,1334.9 393.8,1334.8 395.1,1334.6 396.4,1334.5 397.6,1334.3 398.9,1334.1 400.2,1334.0 401.4,1333.8 402.7,1333.6 404.0,1333.4 405.2,1333.2 406.5,1333.0 407.8,1332.7 409.0,1332.5 410.3,1332.2 411.5,1332.0 412.8,1331.7 414.1,1331.4 415.3,1331.1 416.6,1330.8 417.9,1330.5 419.1,1330.2 420.4,1329.9 421.7,1329.6 422.9,1329.2 424.2,1328.9 425.5,1328.6 426.7,1328.3 428.0,1328.0 429.3,1327.8 430.5,1327.5 431.8,1327.2 433.1,1326.9 434.3,1326.7 435.6,1326.5 436.8,1326.2 438.1,1326.0 439.4,1325.8 440.6,1325.7 441.9,1325.5 443.2,1325.4 444.4,1325.2 445.7,1325.1 447.0,1325.1 448.2,1325.0 449.5,1325.0 450.8,1325.0 452.0,1325.0 453.3,1325.0 454.6,1325.0 455.8,1325.0 457.1,1325.0 458.3,1325.0 459.6,1325.0 460.9,1325.0 462.1,1325.0 463.4,1325.0 464.7,1325.0 465.9,1325.0 467.2,1325.0 468.5,1325.0 469.7,1325.0 471.0,1325.0 472.3,1325.0 473.5,1325.0 474.8,1325.0 476.1,1325.0 477.3,1325.0 478.6,1324.9 479.9,1324.7 481.1,1324.5 482.4,1324.2 483.6,1323.9 484.9,1323.5 486.2,1323.1 487.4,1322.7 488.7,1322.2 490.0,1321.8 491.2,1321.3 492.5,1320.8 493.8,1320.3 495.0,1319.8 496.3,1319.3 497.6,1318.8 498.8,1318.3 500.1,1317.8 501.4,1317.4 502.6,1316.9 503.9,1316.5 505.1,1316.1 506.4,1315.6 507.7,1315.1 508.9,1314.7 510.2,1314.2 511.5,1313.7 512.7,1313.2 514.0,1312.7 515.3,1312.2 516.5,1311.7 517.8,1311.2 519.1,1310.6 520.3,1310.1 521.6,1309.5 522.9,1309.0 524.1,1308.4 525.4,1307.8 526.6,1307.2 527.9,1306.5 529.2,1305.7 530.4,1304.9 531.7,1304.0 533.0,1303.1 534.2,1302.1 535.5,1301.2 536.8,1300.2 538.0,1299.3 539.3,1298.3 540.6,1297.4 541.8,1296.5 543.1,1295.7 544.4,1295.0 545.6,1294.3 546.9,1293.7 548.2,1293.2 549.4,1292.8 550.7,1292.5 551.9,1292.4 553.2,1292.2 554.5,1292.1 555.7,1291.9 557.0,1291.8 558.3,1291.7 559.5,1291.6 560.8,1291.4 562.1,1291.3 563.3,1291.3 564.6,1291.2 565.9,1291.1 567.1,1291.1 568.4,1291.0 569.7,1291.0 570.9,1291.0 572.2,1291.1 573.4,1291.3 574.7,1291.8 576.0,1292.3 577.2,1292.9 578.5,1293.6 579.8,1294.3 581.0,1295.0 582.3,1295.6 583.6,1296.2 584.8,1296.8 586.1,1297.2 587.4,1297.4 588.6,1297.5 589.9,1297.5 591.2,1297.5 592.4,1297.5 593.7,1297.4 595.0,1297.4 596.2,1297.3 597.5,1297.3 598.7,1297.2 600.0,1297.2 601.3,1297.1 602.5,1297.0 603.8,1296.9 605.1,1296.8 606.3,1296.7 607.6,1296.6 608.9,1296.5 610.1,1296.4 611.4,1296.2 612.7,1296.1 613.9,1295.9 615.2,1295.7 616.5,1295.4 617.7,1295.1 619.0,1294.6 620.2,1294.1 621.5,1293.6 622.8,1292.9 624.0,1292.2 625.3,1291.5 626.6,1290.7 627.8,1289.8 629.1,1288.9 630.4,1288.0 631.6,1286.9 632.9,1285.4 634.2,1283.5 635.4,1281.2 636.7,1278.6 638.0,1275.9 639.2,1273.1 640.5,1270.2 641.8,1267.5 643.0,1264.9 644.3,1262.6 645.5,1260.6 646.8,1258.9 648.1,1257.2 649.3,1255.5 650.6,1253.8 651.9,1252.2 653.1,1250.7 654.4,1249.5 655.7,1248.5 656.9,1247.8 658.2,1247.5 659.5,1247.5 660.7,1247.6 662.0,1247.7 663.3,1247.8 664.5,1247.9 665.8,1248.1 667.0,1248.3 668.3,1248.5 669.6,1248.7 670.8,1249.0 672.1,1249.2 673.4,1249.6 674.6,1250.1 675.9,1250.6 677.2,1251.1 678.4,1251.8 679.7,1252.4 681.0,1253.0 682.2,1253.6 683.5,1254.2 684.8,1254.8 686.0,1255.3 687.3,1255.7 688.6,1256.0 689.8,1256.3 691.1,1256.6 692.3,1256.8 693.6,1257.1 694.9,1257.4 696.1,1257.6 697.4,1257.9 698.7,1258.1 699.9,1258.3 701.2,1258.5 702.5,1258.6 703.7,1258.8 705.0,1258.9 706.3,1258.9 707.5,1259.0 708.8,1259.0 710.1,1258.9 711.3,1258.7 712.6,1258.3 713.8,1257.9 715.1,1257.4 716.4,1256.7 717.6,1256.0 718.9,1255.2 720.2,1254.4 721.4,1253.5 722.7,1252.6 724.0,1251.6 725.2,1250.6 726.5,1249.6 727.8,1248.2 729.0,1246.5 730.3,1244.6 731.6,1242.5 732.8,1240.2 734.1,1237.9 735.3,1235.5 736.6,1233.2 737.9,1231.0 739.1,1229.0 740.4,1226.9 741.7,1224.9 742.9,1222.8 744.2,1220.7 745.5,1218.7 746.7,1216.6 748.0,1214.6 749.3,1212.7 750.5,1210.7 751.8,1208.8 753.1,1206.9 754.3,1205.0 755.6,1203.1 756.9,1201.2 758.1,1199.3 759.4,1197.4 760.6,1195.6 761.9,1193.7 763.2,1191.9 764.4,1190.1 765.7,1188.3 767.0,1186.5 768.2,1184.8 769.5,1183.1 770.8,1181.5 772.0,1179.8 773.3,1178.2 774.6,1176.7 775.8,1175.2 777.1,1173.7 778.4,1172.3 779.6,1170.8 780.9,1169.4 782.1,1167.9 783.4,1166.5 784.7,1165.1 785.9,1163.8 787.2,1162.5 788.5,1161.2 789.7,1160.0 791.0,1158.9 792.3,1157.8 793.5,1156.8 794.8,1155.8 796.1,1155.0 797.3,1154.1 798.6,1153.2 799.9,1152.4 801.1,1151.5 802.4,1150.7 803.7,1149.9 804.9,1149.2 806.2,1148.6 807.4,1148.1 808.7,1147.8 810.0,1147.6 811.2,1147.5 812.5,1147.5 813.8,1147.7 815.0,1147.8 816.3,1148.0 817.6,1148.3 818.8,1148.6 820.1,1149.0 821.4,1149.4 822.6,1149.8 823.9,1150.2 825.2,1150.7 826.4,1151.2 827.7,1151.8 828.9,1152.6 830.2,1153.5 831.5,1154.5 832.7,1155.7 834.0,1156.9 835.3,1158.3 836.5,1159.7 837.8,1161.2 839.1,1162.7 840.3,1164.5 841.6,1166.6 842.9,1168.9 844.1,1171.4 845.4,1173.9 846.7,1176.5 847.9,1179.1 849.2,1181.5 850.5,1183.8 851.7,1186.0 853.0,1188.2 854.2,1190.4 855.5,1192.6 856.8,1194.8 858.0,1197.0 859.3,1199.2 860.6,1201.5 861.8,1203.8 863.1,1206.1 864.4,1208.7 865.6,1211.3 866.9,1214.0 868.2,1216.7 869.4,1219.4 870.7,1222.1 872.0,1224.6 873.2,1227.0 874.5,1229.2 875.7,1231.2 877.0,1233.2 878.3,1235.2 879.5,1237.2 880.8,1239.1 882.1,1240.8 883.3,1242.4 884.6,1243.8 885.9,1245.0 887.1,1245.8 888.4,1246.4 889.7,1246.9 890.9,1247.4 892.2,1247.8 893.5,1248.2 894.7,1248.6 896.0,1248.9 897.3,1249.2 898.5,1249.5 899.8,1249.8 901.0,1250.0 902.3,1250.3 903.6,1250.5 904.8,1250.7 906.1,1251.0 907.4,1251.2 908.6,1251.5 909.9,1251.8 911.2,1252.1 912.4,1252.5 913.7,1252.9 915.0,1253.3 916.2,1253.7 917.5,1254.1 918.8,1254.5 920.0,1255.0 921.3,1255.5 922.5,1256.0 923.8,1256.4 925.1,1256.9 926.3,1257.4 927.6,1257.9 928.9,1258.4 930.1,1258.9 931.4,1259.4 932.7,1259.9 933.9,1260.4 935.2,1260.9 936.5,1261.3 937.7,1261.8 939.0,1262.2 940.3,1262.6 941.5,1263.0 942.8,1263.4 944.0,1263.7 945.3,1264.0 946.6,1264.3 947.8,1264.6 949.1,1264.9 950.4,1265.1 951.6,1265.3 952.9,1265.4 954.2,1265.6 955.4,1265.8 956.7,1265.9 958.0,1266.1 959.2,1266.3 960.5,1266.4 961.8,1266.5 963.0,1266.7 964.3,1266.8 965.6,1266.9 966.8,1267.0 968.1,1267.2 969.3,1267.3 970.6,1267.4 971.9,1267.5 973.1,1267.6 974.4,1267.7 975.7,1267.8 976.9,1267.9 978.2,1268.0 979.5,1268.1 980.7,1268.2 982.0,1268.3 983.3,1268.4 984.5,1268.5 985.8,1268.6 987.1,1268.7 988.3,1268.8 989.6,1268.9 990.8,1269.0 992.1,1269.2 993.4,1269.3 994.6,1269.4 995.9,1269.5 997.2,1269.7 998.4,1269.8 999.7,1270.0 1001.0,1270.1 1002.2,1270.3 1003.5,1270.5 1004.8,1270.7 1006.0,1270.9 1007.3,1271.1 1008.6,1271.3 1009.8,1271.5 1011.1,1271.7 1012.4,1272.0 1013.6,1272.2 1014.9,1272.5 1016.1,1272.7 1017.4,1273.0 1018.7,1273.2 1019.9,1273.5 1021.2,1273.7 1022.5,1274.0 1023.7,1274.3 1025.0,1274.5 1026.3,1274.7 1027.5,1275.0 1028.8,1275.2 1030.1,1275.4 1031.3,1275.7 1032.6,1275.9 1033.9,1276.1 1035.1,1276.3 1036.4,1276.5 1037.6,1276.6 1038.9,1276.8 1040.2,1276.9 1041.4,1277.1 1042.7,1277.2 1044.0,1277.3 1045.2,1277.4 1046.5,1277.4 1047.8,1277.5 1049.0,1277.5 1050.3,1277.5 1051.6,1277.5 1052.8,1277.4 1054.1,1277.4 1055.4,1277.3 1056.6,1277.1 1057.9,1277.0 1059.2,1276.9 1060.4,1276.7 1061.7,1276.5 1062.9,1276.3 1064.2,1276.1 1065.5,1275.9 1066.7,1275.6 1068.0,1275.4 1069.3,1275.1 1070.5,1274.9 1071.8,1274.5 1073.1,1274.0 1074.3,1273.4 1075.6,1272.7 1076.9,1271.9 1078.1,1271.2 1079.4,1270.4 1080.7,1269.7 1081.9,1269.1 1083.2,1268.5 1084.4,1268.0 1085.7,1267.7 1087.0,1267.5 1088.2,1267.5 1089.5,1267.5 1090.8,1267.5 1092.0,1267.6 1093.3,1267.6 1094.6,1267.7 1095.8,1267.7 1097.1,1267.8 1098.4,1267.9 1099.6,1268.0 1100.9,1268.1 1102.2,1268.2 1103.4,1268.3 1104.7,1268.4 1106.0,1268.5 1107.2,1268.6 1108.5,1268.7 1109.7,1268.8 1111.0,1268.9 1112.3,1269.0 1113.5,1269.1 1114.8,1269.2 1116.1,1269.3 1117.3,1269.4 1118.6,1269.5 1119.9,1269.7 1121.1,1269.8 1122.4,1269.9 1123.7,1270.1 1124.9,1270.2 1126.2,1270.4 1127.5,1270.6 1128.7,1270.7 1130.0,1270.9 1131.2,1271.1 1132.5,1271.2 1133.8,1271.4 1135.0,1271.6 1136.3,1271.8 1137.6,1272.0 1138.8,1272.2 1140.1,1272.5 1141.4,1272.7 1142.6,1273.0 1143.9,1273.2 1145.2,1273.5 1146.4,1273.8 1147.7,1274.1 1149.0,1274.4 1150.2,1274.8 1151.5,1275.1 1152.8,1275.6 1154.0,1276.0 1155.3,1276.6 1156.5,1277.1 1157.8,1277.7 1159.1,1278.4 1160.3,1279.0 1161.6,1279.7 1162.9,1280.3 1164.1,1281.0 1165.4,1281.6 1166.7,1282.2 1167.9,1282.8 1169.2,1283.3 1170.5,1283.8 1171.7,1284.2 1173.0,1284.5 1174.3,1284.8 1175.5,1285.0 1176.8,1285.1 1178.0,1285.1 1179.3,1285.2 1180.6,1285.3 1181.8,1285.3 1183.1,1285.4 1184.4,1285.4 1185.6,1285.4 1186.9,1285.5 1188.2,1285.5 1189.4,1285.5 1190.7,1285.6 1192.0,1285.6 1193.2,1285.6 1194.5,1285.7 1195.8,1285.7 1197.0,1285.8 1198.3,1285.8 1199.5,1285.9 1200.8,1286.0 1202.1,1286.1 1203.3,1286.3 1204.6,1286.5 1205.9,1286.8 1207.1,1287.1 1208.4,1287.4 1209.7,1287.8 1210.9,1288.2 1212.2,1288.6 1213.5,1289.0 1214.7,1289.4 1216.0,1289.9 1217.3,1290.3 1218.5,1290.7 1219.8,1291.1 1221.1,1291.4 1222.3,1291.8 1223.6,1292.1 1224.8,1292.3 1226.1,1292.5 1227.4,1292.7 1228.6,1292.9 1229.9,1293.1 1231.2,1293.2 1232.4,1293.4 1233.7,1293.6 1235.0,1293.8 1236.2,1293.9 1237.5,1294.1 1238.8,1294.2 1240.0,1294.4 1241.3,1294.5 1242.6,1294.6 1243.8,1294.7 1245.1,1294.8 1246.3,1294.9 1247.6,1294.9 1248.9,1295.0 1250.1,1295.0 1251.4,1295.0 1252.7,1294.8 1253.9,1294.3 1255.2,1293.7 1256.5,1292.8 1257.7,1291.9 1259.0,1290.9 1260.3,1289.8 1261.5,1288.6 1262.8,1287.5 1264.1,1286.5 1265.3,1285.5 1266.6,1284.6 1267.9,1283.7 1269.1,1282.9 1270.4,1282.0 1271.6,1281.1 1272.9,1280.3 1274.2,1279.4 1275.4,1278.5 1276.7,1277.6 1278.0,1276.8 1279.2,1275.9 1280.5,1275.0 1280.5,1382.5 1279.2,1383.0 1278.0,1383.4 1276.7,1383.8 1275.4,1384.2 1274.2,1384.5 1272.9,1384.9 1271.6,1385.2 1270.4,1385.5 1269.1,1385.7 1267.9,1386.0 1266.6,1386.2 1265.3,1386.4 1264.1,1386.6 1262.8,1386.8 1261.5,1386.9 1260.3,1387.1 1259.0,1387.2 1257.7,1387.3 1256.5,1387.4 1255.2,1387.4 1253.9,1387.5 1252.7,1387.5 1251.4,1387.5 1250.1,1387.5 1248.9,1387.5 1247.6,1387.4 1246.3,1387.3 1245.1,1387.2 1243.8,1387.0 1242.6,1386.8 1241.3,1386.6 1240.0,1386.4 1238.8,1386.2 1237.5,1385.9 1236.2,1385.7 1235.0,1385.4 1233.7,1385.1 1232.4,1384.6 1231.2,1383.9 1229.9,1383.0 1228.6,1381.9 1227.4,1380.7 1226.1,1379.5 1224.8,1378.2 1223.6,1377.0 1222.3,1375.9 1221.1,1375.0 1219.8,1374.2 1218.5,1373.5 1217.3,1372.7 1216.0,1371.9 1214.7,1371.2 1213.5,1370.5 1212.2,1369.8 1210.9,1369.1 1209.7,1368.5 1208.4,1367.9 1207.1,1367.3 1205.9,1366.7 1204.6,1366.2 1203.3,1365.8 1202.1,1365.3 1200.8,1364.9 1199.5,1364.6 1198.3,1364.3 1197.0,1364.0 1195.8,1363.7 1194.5,1363.5 1193.2,1363.2 1192.0,1363.0 1190.7,1362.8 1189.4,1362.6 1188.2,1362.4 1186.9,1362.2 1185.6,1361.9 1184.4,1361.7 1183.1,1361.5 1181.8,1361.3 1180.6,1361.0 1179.3,1360.8 1178.0,1360.5 1176.8,1360.2 1175.5,1359.9 1174.3,1359.5 1173.0,1359.1 1171.7,1358.7 1170.5,1358.3 1169.2,1357.9 1167.9,1357.5 1166.7,1357.0 1165.4,1356.5 1164.1,1356.0 1162.9,1355.5 1161.6,1355.0 1160.3,1354.5 1159.1,1353.9 1157.8,1353.4 1156.5,1352.9 1155.3,1352.3 1154.0,1351.8 1152.8,1351.2 1151.5,1350.6 1150.2,1350.1 1149.0,1349.5 1147.7,1348.9 1146.4,1348.2 1145.2,1347.4 1143.9,1346.6 1142.6,1345.8 1141.4,1344.9 1140.1,1344.1 1138.8,1343.3 1137.6,1342.4 1136.3,1341.6 1135.0,1340.9 1133.8,1340.2 1132.5,1339.5 1131.2,1338.9 1130.0,1338.4 1128.7,1338.0 1127.5,1337.7 1126.2,1337.6 1124.9,1337.5 1123.7,1337.5 1122.4,1337.5 1121.1,1337.5 1119.9,1337.5 1118.6,1337.5 1117.3,1337.5 1116.1,1337.5 1114.8,1337.5 1113.5,1337.5 1112.3,1337.5 1111.0,1337.5 1109.7,1337.5 1108.5,1337.5 1107.2,1337.5 1106.0,1337.5 1104.7,1337.5 1103.4,1337.5 1102.2,1337.5 1100.9,1337.5 1099.6,1337.5 1098.4,1337.5 1097.1,1337.5 1095.8,1337.5 1094.6,1337.5 1093.3,1337.5 1092.0,1337.5 1090.8,1337.5 1089.5,1337.5 1088.2,1337.5 1087.0,1337.5 1085.7,1337.7 1084.4,1338.0 1083.2,1338.4 1081.9,1339.0 1080.7,1339.6 1079.4,1340.2 1078.1,1340.9 1076.9,1341.6 1075.6,1342.2 1074.3,1342.8 1073.1,1343.3 1071.8,1343.7 1070.5,1343.9 1069.3,1344.1 1068.0,1344.2 1066.7,1344.3 1065.5,1344.4 1064.2,1344.5 1062.9,1344.6 1061.7,1344.6 1060.4,1344.7 1059.2,1344.8 1057.9,1344.8 1056.6,1344.9 1055.4,1344.9 1054.1,1345.0 1052.8,1345.0 1051.6,1345.0 1050.3,1345.0 1049.0,1345.0 1047.8,1344.9 1046.5,1344.8 1045.2,1344.6 1044.0,1344.4 1042.7,1344.1 1041.4,1343.8 1040.2,1343.5 1038.9,1343.2 1037.6,1342.8 1036.4,1342.5 1035.1,1342.1 1033.9,1341.8 1032.6,1341.4 1031.3,1341.1 1030.1,1340.8 1028.8,1340.5 1027.5,1340.3 1026.3,1340.1 1025.0,1340.0 1023.7,1339.9 1022.5,1339.8 1021.2,1339.7 1019.9,1339.6 1018.7,1339.5 1017.4,1339.4 1016.1,1339.4 1014.9,1339.3 1013.6,1339.2 1012.4,1339.2 1011.1,1339.1 1009.8,1339.0 1008.6,1339.0 1007.3,1338.9 1006.0,1338.9 1004.8,1338.8 1003.5,1338.8 1002.2,1338.7 1001.0,1338.7 999.7,1338.6 998.4,1338.6 997.2,1338.5 995.9,1338.5 994.6,1338.4 993.4,1338.4 992.1,1338.3 990.8,1338.3 989.6,1338.2 988.3,1338.2 987.1,1338.1 985.8,1338.1 984.5,1338.0 983.3,1338.0 982.0,1337.9 980.7,1337.8 979.5,1337.8 978.2,1337.7 976.9,1337.6 975.7,1337.5 974.4,1337.5 973.1,1337.4 971.9,1337.3 970.6,1337.2 969.3,1337.1 968.1,1337.0 966.8,1336.9 965.6,1336.8 964.3,1336.6 963.0,1336.5 961.8,1336.4 960.5,1336.3 959.2,1336.2 958.0,1336.0 956.7,1335.9 955.4,1335.8 954.2,1335.6 952.9,1335.5 951.6,1335.4 950.4,1335.2 949.1,1335.1 947.8,1334.9 946.6,1334.8 945.3,1334.7 944.0,1334.5 942.8,1334.4 941.5,1334.2 940.3,1334.1 939.0,1334.0 937.7,1333.8 936.5,1333.7 935.2,1333.6 933.9,1333.4 932.7,1333.3 931.4,1333.1 930.1,1333.0 928.9,1332.9 927.6,1332.8 926.3,1332.6 925.1,1332.5 923.8,1332.4 922.5,1332.3 921.3,1332.2 920.0,1332.1 918.8,1332.0 917.5,1331.9 916.2,1331.8 915.0,1331.7 913.7,1331.6 912.4,1331.5 911.2,1331.5 909.9,1331.4 908.6,1331.3 907.4,1331.2 906.1,1331.1 904.8,1331.0 903.6,1330.9 902.3,1330.8 901.0,1330.7 899.8,1330.6 898.5,1330.5 897.3,1330.4 896.0,1330.2 894.7,1330.1 893.5,1329.9 892.2,1329.7 890.9,1329.6 889.7,1329.4 888.4,1329.2 887.1,1328.9 885.9,1328.6 884.6,1328.2 883.3,1327.7 882.1,1327.0 880.8,1326.4 879.5,1325.6 878.3,1324.8 877.0,1323.9 875.7,1323.0 874.5,1322.1 873.2,1320.9 872.0,1319.4 870.7,1317.8 869.4,1316.1 868.2,1314.3 866.9,1312.5 865.6,1310.8 864.4,1309.3 863.1,1308.0 861.8,1307.0 860.6,1306.0 859.3,1305.0 858.0,1304.0 856.8,1303.1 855.5,1302.3 854.2,1301.5 853.0,1300.9 851.7,1300.4 850.5,1300.1 849.2,1299.9 847.9,1299.7 846.7,1299.5 845.4,1299.4 844.1,1299.2 842.9,1299.1 841.6,1298.9 840.3,1298.8 839.1,1298.7 837.8,1298.7 836.5,1298.6 835.3,1298.5 834.0,1298.5 832.7,1298.5 831.5,1298.5 830.2,1298.6 828.9,1298.8 827.7,1299.0 826.4,1299.2 825.2,1299.5 823.9,1299.9 822.6,1300.3 821.4,1300.7 820.1,1301.2 818.8,1301.7 817.6,1302.2 816.3,1302.7 815.0,1303.3 813.8,1303.9 812.5,1304.5 811.2,1305.3 810.0,1306.3 808.7,1307.4 807.4,1308.6 806.2,1310.0 804.9,1311.4 803.7,1312.8 802.4,1314.3 801.1,1315.9 799.9,1317.4 798.6,1319.2 797.3,1321.1 796.1,1323.2 794.8,1325.3 793.5,1327.6 792.3,1330.0 791.0,1332.4 789.7,1334.9 788.5,1337.4 787.2,1339.9 785.9,1342.4 784.7,1344.9 783.4,1347.3 782.1,1349.7 780.9,1352.0 779.6,1354.3 778.4,1356.4 777.1,1358.4 775.8,1360.2 774.6,1362.0 773.3,1363.8 772.0,1365.5 770.8,1367.1 769.5,1368.7 768.2,1370.3 767.0,1371.9 765.7,1373.4 764.4,1375.0 763.2,1376.4 761.9,1377.9 760.6,1379.4 759.4,1380.8 758.1,1382.2 756.9,1383.6 755.6,1385.0 754.3,1386.4 753.1,1387.8 751.8,1389.1 750.5,1390.5 749.3,1392.0 748.0,1393.4 746.7,1395.0 745.5,1396.5 744.2,1398.0 742.9,1399.5 741.7,1401.0 740.4,1402.5 739.1,1403.8 737.9,1405.1 736.6,1406.3 735.3,1407.4 734.1,1408.3 732.8,1409.1 731.6,1409.8 730.3,1410.3 729.0,1410.7 727.8,1411.1 726.5,1411.6 725.2,1412.0 724.0,1412.3 722.7,1412.7 721.4,1413.0 720.2,1413.3 718.9,1413.5 717.6,1413.7 716.4,1413.9 715.1,1414.0 713.8,1414.0 712.6,1413.9 711.3,1413.7 710.1,1413.2 708.8,1412.6 707.5,1411.8 706.3,1411.0 705.0,1410.2 703.7,1409.3 702.5,1408.4 701.2,1407.6 699.9,1406.9 698.7,1406.1 697.4,1405.3 696.1,1404.5 694.9,1403.7 693.6,1402.8 692.3,1402.0 691.1,1401.1 689.8,1400.2 688.6,1399.3 687.3,1398.4 686.0,1397.5 684.8,1396.5 683.5,1395.6 682.2,1394.7 681.0,1393.7 679.7,1392.8 678.4,1391.8 677.2,1390.9 675.9,1389.9 674.6,1388.9 673.4,1387.7 672.1,1386.5 670.8,1385.1 669.6,1383.8 668.3,1382.5 667.0,1381.2 665.8,1379.9 664.5,1378.8 663.3,1377.8 662.0,1377.0 660.7,1376.4 659.5,1376.1 658.2,1376.0 656.9,1376.2 655.7,1376.5 654.4,1377.1 653.1,1377.7 651.9,1378.5 650.6,1379.3 649.3,1380.2 648.1,1381.1 646.8,1382.0 645.5,1382.8 644.3,1383.8 643.0,1385.0 641.8,1386.3 640.5,1387.7 639.2,1389.1 638.0,1390.5 636.7,1391.8 635.4,1393.0 634.2,1393.9 632.9,1394.6 631.6,1395.0 630.4,1395.0 629.1,1395.0 627.8,1395.0 626.6,1395.0 625.3,1395.0 624.0,1395.0 622.8,1395.0 621.5,1395.0 620.2,1395.0 619.0,1395.0 617.7,1395.0 616.5,1395.0 615.2,1395.0 613.9,1395.0 612.7,1395.0 611.4,1394.9 610.1,1394.7 608.9,1394.5 607.6,1394.2 606.3,1393.8 605.1,1393.3 603.8,1392.9 602.5,1392.3 601.3,1391.8 600.0,1391.2 598.7,1390.5 597.5,1389.9 596.2,1389.2 595.0,1388.5 593.7,1387.8 592.4,1387.1 591.2,1386.4 589.9,1385.7 588.6,1385.1 587.4,1384.4 586.1,1383.5 584.8,1382.6 583.6,1381.6 582.3,1380.6 581.0,1379.5 579.8,1378.3 578.5,1377.2 577.2,1376.1 576.0,1375.0 574.7,1374.0 573.4,1373.0 572.2,1372.1 570.9,1371.2 569.7,1370.5 568.4,1370.0 567.1,1369.4 565.9,1368.9 564.6,1368.4 563.3,1367.9 562.1,1367.4 560.8,1367.0 559.5,1366.5 558.3,1366.1 557.0,1365.8 555.7,1365.5 554.5,1365.3 553.2,1365.1 551.9,1365.0 550.7,1365.0 549.4,1365.0 548.2,1365.1 546.9,1365.2 545.6,1365.4 544.4,1365.6 543.1,1365.8 541.8,1366.0 540.6,1366.2 539.3,1366.5 538.0,1366.8 536.8,1367.0 535.5,1367.3 534.2,1367.6 533.0,1367.9 531.7,1368.1 530.4,1368.3 529.2,1368.6 527.9,1368.8 526.6,1368.9 525.4,1369.1 524.1,1369.2 522.9,1369.3 521.6,1369.5 520.3,1369.6 519.1,1369.8 517.8,1369.9 516.5,1370.0 515.3,1370.2 514.0,1370.3 512.7,1370.4 511.5,1370.5 510.2,1370.6 508.9,1370.7 507.7,1370.8 506.4,1370.9 505.1,1370.9 503.9,1371.0 502.6,1371.0 501.4,1371.0 500.1,1371.0 498.8,1370.8 497.6,1370.6 496.3,1370.3 495.0,1369.8 493.8,1369.4 492.5,1368.8 491.2,1368.3 490.0,1367.7 488.7,1367.0 487.4,1366.4 486.2,1365.8 484.9,1365.2 483.6,1364.6 482.4,1364.1 481.1,1363.6 479.9,1363.2 478.6,1362.9 477.3,1362.6 476.1,1362.5 474.8,1362.4 473.5,1362.4 472.3,1362.3 471.0,1362.2 469.7,1362.2 468.5,1362.1 467.2,1362.1 465.9,1362.0 464.7,1361.9 463.4,1361.9 462.1,1361.9 460.9,1361.8 459.6,1361.8 458.3,1361.7 457.1,1361.7 455.8,1361.7 454.6,1361.6 453.3,1361.6 452.0,1361.6 450.8,1361.5 449.5,1361.5 448.2,1361.5 447.0,1361.4 445.7,1361.4 444.4,1361.4 443.2,1361.4 441.9,1361.3 440.6,1361.3 439.4,1361.3 438.1,1361.3 436.8,1361.2 435.6,1361.2 434.3,1361.2 433.1,1361.2 431.8,1361.1 430.5,1361.1 429.3,1361.1 428.0,1361.1 426.7,1361.0 425.5,1361.0 424.2,1361.0 422.9,1361.0 421.7,1360.9 420.4,1360.9 419.1,1360.9 417.9,1360.9 416.6,1360.8 415.3,1360.8 414.1,1360.8 412.8,1360.8 411.5,1360.8 410.3,1360.7 409.0,1360.7 407.8,1360.7 406.5,1360.7 405.2,1360.7 404.0,1360.7 402.7,1360.6 401.4,1360.6 400.2,1360.6 398.9,1360.6 397.6,1360.6 396.4,1360.6 395.1,1360.5 393.8,1360.5 392.6,1360.5 391.3,1360.5 390.0,1360.4 388.8,1360.4 387.5,1360.4 386.3,1360.4 385.0,1360.3 383.7,1360.3 382.5,1360.3 381.2,1360.2 379.9,1360.2 378.7,1360.1 377.4,1360.1 376.1,1360.0 374.9,1360.0 373.6,1359.9 372.3,1359.8 371.1,1359.6 369.8,1359.4 368.5,1359.2 367.3,1358.9 366.0,1358.6 364.7,1358.2 363.5,1357.8 362.2,1357.4 361.0,1357.0 359.7,1356.5 358.4,1356.0 357.2,1355.6 355.9,1355.0 354.6,1354.5 353.4,1354.0 352.1,1353.4 350.8,1352.9 349.6,1352.3 348.3,1351.6 347.0,1350.9 345.8,1350.1 344.5,1349.1 343.2,1348.2 342.0,1347.2 340.7,1346.1 339.5,1345.1 338.2,1344.1 336.9,1343.0 335.7,1342.0 334.4,1340.9 333.1,1339.8 331.9,1338.7 330.6,1337.5 329.3,1336.3 328.1,1335.1 326.8,1333.8 325.5,1332.6 324.3,1331.2 323.0,1329.9 321.7,1328.4 320.5,1327.0 319.2,1325.4 317.9,1323.9 316.7,1322.3 315.4,1320.7 314.2,1319.0 312.9,1317.4 311.6,1315.7 310.4,1313.9 309.1,1312.1 307.8,1310.3 306.6,1308.4 305.3,1306.5 304.0,1304.5 302.8,1302.6 301.5,1300.7 300.2,1298.7 299.0,1296.8 297.7,1294.9 296.4,1293.1 295.2,1291.2 293.9,1289.3 292.7,1287.3 291.4,1285.3 290.1,1283.3 288.9,1281.4 287.6,1279.6 286.3,1277.9 285.1,1276.3 283.8,1274.8 282.5,1273.5 281.3,1272.3 280.0,1271.0 278.7,1269.7 277.5,1268.6 276.2,1267.5 274.9,1266.7 273.7,1266.2 272.4,1266.0 271.1,1266.0 269.9,1266.0 268.6,1266.0 267.4,1266.0 266.1,1266.0 264.8,1266.0 263.6,1266.0 262.3,1266.0 261.0,1266.0 259.8,1266.0 258.5,1266.0 257.2,1266.0 256.0,1266.0 254.7,1266.0 253.4,1266.0 252.2,1266.0 250.9,1266.0 249.6,1266.1 248.4,1266.2 247.1,1266.5 245.9,1266.9 244.6,1267.3 243.3,1267.7 242.1,1268.2 240.8,1268.7 239.5,1269.2 238.3,1269.7 237.0,1270.1 235.7,1270.5 234.5,1270.8 233.2,1270.9 231.9,1271.0 230.7,1271.0 229.4,1271.0 228.1,1270.9 226.9,1270.9 225.6,1270.8 224.4,1270.7 223.1,1270.6 221.8,1270.5 220.6,1270.3 219.3,1270.2 218.0,1270.0 216.8,1269.8 215.5,1269.6 214.2,1269.4 213.0,1269.2 211.7,1268.9 210.4,1268.7 209.2,1268.3 207.9,1267.7 206.6,1267.0 205.4,1266.0 204.1,1265.0 202.8,1263.8 201.6,1262.6 200.3,1261.3 199.1,1260.0 197.8,1258.7 196.5,1257.4 195.3,1256.0 194.0,1254.4 192.7,1252.7 191.5,1251.0 190.2,1249.1 188.9,1247.2 187.7,1245.3 186.4,1243.3 185.1,1241.3 183.9,1239.3 182.6,1237.2 181.3,1235.1 180.1,1233.0 178.8,1230.8 177.6,1228.5 176.3,1226.2 175.0,1223.9 173.8,1221.5 172.5,1219.1 171.2,1216.8 170.0,1214.4 168.7,1211.9 167.4,1209.3 166.2,1206.6 164.9,1204.0 163.6,1201.3 162.4,1198.6 161.1,1196.0 159.8,1193.5 158.6,1191.1 157.3,1188.9 156.0,1186.8 154.8,1184.8 153.5,1182.8 152.3,1180.9 151.0,1179.0 149.7,1177.2 148.5,1175.5 147.2,1173.9 145.9,1172.3 144.7,1170.8 143.4,1169.4" fill="#d73a28" fill-opacity="0.52"/>
<polyline points="143.4,1089.0 144.7,1092.2 145.9,1095.5 147.2,1098.8 148.5,1102.2 149.7,1105.7 151.0,1109.3 152.3,1112.9 153.5,1116.6 154.8,1120.3 156.0,1124.1 157.3,1128.0 158.6,1132.1 159.8,1136.3 161.1,1140.7 162.4,1145.2 163.6,1149.7 164.9,1154.2 166.2,1158.6 167.4,1162.9 168.7,1167.1 170.0,1171.0 171.2,1174.7 172.5,1178.4 173.8,1182.0 175.0,1185.5 176.3,1189.0 177.6,1192.3 178.8,1195.6 180.1,1198.7 181.3,1201.7 182.6,1204.6 183.9,1207.4 185.1,1210.0 186.4,1212.6 187.7,1215.2 188.9,1217.6 190.2,1220.0 191.5,1222.3 192.7,1224.5 194.0,1226.5 195.3,1228.5 196.5,1230.2 197.8,1231.9 199.1,1233.5 200.3,1235.0 201.6,1236.5 202.8,1238.0 204.1,1239.3 205.4,1240.6 206.6,1241.8 207.9,1242.8 209.2,1243.8 210.4,1244.6 211.7,1245.3 213.0,1246.0 214.2,1246.6 215.5,1247.2 216.8,1247.8 218.0,1248.3 219.3,1248.8 220.6,1249.2 221.8,1249.5 223.1,1249.8 224.4,1250.1 225.6,1250.3 226.9,1250.5 228.1,1250.7 229.4,1250.9 230.7,1251.0 231.9,1251.2 233.2,1251.4 234.5,1251.5 235.7,1251.7 237.0,1251.8 238.3,1251.9 239.5,1252.1 240.8,1252.2 242.1,1252.3 243.3,1252.4 244.6,1252.4 245.9,1252.5 247.1,1252.5 248.4,1252.6 249.6,1252.6 250.9,1252.6 252.2,1252.6 253.4,1252.6 254.7,1252.6 256.0,1252.6 257.2,1252.6 258.5,1252.6 259.8,1252.6 261.0,1252.6 262.3,1252.6 263.6,1252.6 264.8,1252.6 266.1,1252.6 267.4,1252.6 268.6,1252.6 269.9,1252.6 271.1,1252.6 272.4,1252.6 273.7,1252.8 274.9,1253.2 276.2,1253.8 277.5,1254.7 278.7,1255.6 280.0,1256.7 281.3,1257.8 282.5,1258.9 283.8,1260.1 285.1,1261.5 286.3,1263.1 287.6,1265.0 288.9,1267.0 290.1,1269.1 291.4,1271.2 292.7,1273.4 293.9,1275.5 295.2,1277.6 296.4,1279.6 297.7,1281.5 299.0,1283.4 300.2,1285.3 301.5,1287.2 302.8,1289.1 304.0,1291.0 305.3,1292.9 306.6,1294.7 307.8,1296.6 309.1,1298.5 310.4,1300.3 311.6,1302.2 312.9,1304.0 314.2,1305.9 315.4,1307.7 316.7,1309.5 317.9,1311.4 319.2,1313.2 320.5,1315.0 321.7,1316.7 323.0,1318.4 324.3,1320.1 325.5,1321.7 326.8,1323.2 328.1,1324.8 329.3,1326.3 330.6,1327.8 331.9,1329.3 333.1,1330.7 334.4,1332.0 335.7,1333.3 336.9,1334.5 338.2,1335.6 339.5,1336.7 340.7,1337.9 342.0,1339.0 343.2,1340.1 344.5,1341.1 345.8,1342.0 347.0,1342.8 348.3,1343.4 349.6,1343.9 350.8,1344.2 352.1,1344.5 353.4,1344.8 354.6,1345.1 355.9,1345.4 357.2,1345.6 358.4,1345.9 359.7,1346.1 361.0,1346.3 362.2,1346.5 363.5,1346.7 364.7,1346.8 366.0,1347.0 367.3,1347.1 368.5,1347.2 369.8,1347.3 371.1,1347.4 372.3,1347.5 373.6,1347.5 374.9,1347.5 376.1,1347.5 377.4,1347.5 378.7,1347.5 379.9,1347.5 381.2,1347.5 382.5,1347.4 383.7,1347.4 385.0,1347.4 386.3,1347.4 387.5,1347.4 388.8,1347.3 390.0,1347.3 391.3,1347.3 392.6,1347.2 393.8,1347.2 395.1,1347.2 396.4,1347.1 397.6,1347.1 398.9,1347.0 400.2,1347.0 401.4,1347.0 402.7,1346.9 404.0,1346.9 405.2,1346.8 406.5,1346.8 407.8,1346.7 409.0,1346.7 410.3,1346.6 411.5,1346.6 412.8,1346.5 414.1,1346.5 415.3,1346.4 416.6,1346.4 417.9,1346.3 419.1,1346.2 420.4,1346.2 421.7,1346.1 422.9,1346.1 424.2,1346.0 425.5,1346.0 426.7,1345.9 428.0,1345.9 429.3,1345.8 430.5,1345.7 431.8,1345.6 433.1,1345.5 434.3,1345.4 435.6,1345.3 436.8,1345.2 438.1,1345.1 439.4,1345.0 440.6,1344.9 441.9,1344.8 443.2,1344.7 444.4,1344.6 445.7,1344.4 447.0,1344.3 448.2,1344.2 449.5,1344.1 450.8,1344.0 452.0,1343.8 453.3,1343.7 454.6,1343.6 455.8,1343.5 457.1,1343.4 458.3,1343.3 459.6,1343.2 460.9,1343.1 462.1,1343.0 463.4,1342.9 464.7,1342.9 465.9,1342.8 467.2,1342.7 468.5,1342.7 469.7,1342.6 471.0,1342.6 472.3,1342.5 473.5,1342.5 474.8,1342.5 476.1,1342.5 477.3,1342.5 478.6,1342.6 479.9,1342.7 481.1,1342.8 482.4,1342.9 483.6,1343.1 484.9,1343.2 486.2,1343.4 487.4,1343.6 488.7,1343.8 490.0,1344.0 491.2,1344.2 492.5,1344.3 493.8,1344.5 495.0,1344.6 496.3,1344.8 497.6,1344.9 498.8,1344.9 500.1,1345.0 501.4,1345.0 502.6,1345.0 503.9,1344.9 505.1,1344.7 506.4,1344.6 507.7,1344.3 508.9,1344.1 510.2,1343.8 511.5,1343.5 512.7,1343.2 514.0,1342.9 515.3,1342.5 516.5,1342.2 517.8,1341.8 519.1,1341.5 520.3,1341.2 521.6,1340.8 522.9,1340.5 524.1,1340.1 525.4,1339.6 526.6,1339.1 527.9,1338.6 529.2,1338.0 530.4,1337.5 531.7,1336.9 533.0,1336.3 534.2,1335.7 535.5,1335.1 536.8,1334.5 538.0,1333.9 539.3,1333.4 540.6,1332.8 541.8,1332.3 543.1,1331.9 544.4,1331.4 545.6,1331.0 546.9,1330.7 548.2,1330.4 549.4,1330.2 550.7,1330.0 551.9,1329.9 553.2,1329.8 554.5,1329.7 555.7,1329.6 557.0,1329.5 558.3,1329.5 559.5,1329.4 560.8,1329.3 562.1,1329.2 563.3,1329.2 564.6,1329.1 565.9,1329.1 567.1,1329.0 568.4,1329.0 569.7,1329.0 570.9,1329.0 572.2,1329.1 573.4,1329.5 574.7,1330.2 576.0,1331.0 577.2,1332.0 578.5,1333.1 579.8,1334.3 581.0,1335.5 582.3,1336.7 583.6,1337.8 584.8,1338.9 586.1,1339.8 587.4,1340.5 588.6,1341.0 589.9,1341.5 591.2,1341.9 592.4,1342.3 593.7,1342.7 595.0,1343.1 596.2,1343.5 597.5,1343.8 598.7,1344.1 600.0,1344.4 601.3,1344.6 602.5,1344.8 603.8,1344.9 605.1,1345.0 606.3,1345.0 607.6,1345.0 608.9,1345.0 610.1,1345.0 611.4,1344.9 612.7,1344.9 613.9,1344.8 615.2,1344.8 616.5,1344.7 617.7,1344.7 619.0,1344.6 620.2,1344.5 621.5,1344.4 622.8,1344.3 624.0,1344.2 625.3,1344.1 626.6,1343.9 627.8,1343.6 629.1,1343.0 630.4,1342.3 631.6,1341.4 632.9,1340.4 634.2,1339.2 635.4,1338.0 636.7,1336.8 638.0,1335.5 639.2,1334.2 640.5,1332.4 641.8,1330.3 643.0,1328.0 644.3,1325.5 645.5,1323.1 646.8,1320.7 648.1,1318.5 649.3,1316.7 650.6,1315.3 651.9,1314.4 653.1,1313.4 654.4,1312.6 655.7,1311.8 656.9,1311.1 658.2,1310.5 659.5,1310.2 660.7,1310.0 662.0,1310.1 663.3,1310.4 664.5,1311.0 665.8,1311.6 667.0,1312.4 668.3,1313.3 669.6,1314.1 670.8,1314.9 672.1,1315.7 673.4,1316.5 674.6,1317.4 675.9,1318.4 677.2,1319.4 678.4,1320.4 679.7,1321.4 681.0,1322.4 682.2,1323.4 683.5,1324.3 684.8,1325.2 686.0,1326.1 687.3,1326.9 688.6,1327.5 689.8,1328.2 691.1,1328.8 692.3,1329.5 693.6,1330.1 694.9,1330.8 696.1,1331.4 697.4,1332.0 698.7,1332.6 699.9,1333.1 701.2,1333.6 702.5,1334.0 703.7,1334.4 705.0,1334.6 706.3,1334.8 707.5,1335.0 708.8,1335.0 710.1,1334.9 711.3,1334.8 712.6,1334.7 713.8,1334.4 715.1,1334.2 716.4,1333.9 717.6,1333.5 718.9,1333.1 720.2,1332.8 721.4,1332.4 722.7,1331.8 724.0,1331.1 725.2,1330.3 726.5,1329.3 727.8,1328.2 729.0,1327.1 730.3,1325.9 731.6,1324.6 732.8,1323.3 734.1,1322.0 735.3,1320.7 736.6,1319.4 737.9,1317.9 739.1,1316.3 740.4,1314.6 741.7,1312.9 742.9,1311.1 744.2,1309.2 745.5,1307.4 746.7,1305.6 748.0,1303.8 749.3,1302.1 750.5,1300.6 751.8,1299.1 753.1,1297.7 754.3,1296.4 755.6,1295.2 756.9,1293.9 758.1,1292.7 759.4,1291.4 760.6,1290.1 761.9,1288.8 763.2,1287.3 764.4,1285.8 765.7,1284.1 767.0,1282.3 768.2,1280.4 769.5,1278.5 770.8,1276.5 772.0,1274.5 773.3,1272.4 774.6,1270.4 775.8,1268.4 777.1,1266.5 778.4,1264.7 779.6,1262.8 780.9,1261.0 782.1,1259.2 783.4,1257.4 784.7,1255.7 785.9,1253.9 787.2,1252.1 788.5,1250.4 789.7,1248.7 791.0,1247.0 792.3,1245.3 793.5,1243.7 794.8,1242.1 796.1,1240.5 797.3,1239.0 798.6,1237.4 799.9,1235.9 801.1,1234.4 802.4,1232.9 803.7,1231.6 804.9,1230.4 806.2,1229.4 807.4,1228.4 808.7,1227.5 810.0,1226.7 811.2,1226.2 812.5,1225.9 813.8,1225.7 815.0,1225.6 816.3,1225.4 817.6,1225.3 818.8,1225.2 820.1,1225.2 821.4,1225.2 822.6,1225.3 823.9,1225.3 825.2,1225.5 826.4,1225.6 827.7,1225.8 828.9,1226.0 830.2,1226.3 831.5,1226.8 832.7,1227.5 834.0,1228.3 835.3,1229.0 836.5,1229.8 837.8,1230.7 839.1,1231.6 840.3,1232.5 841.6,1233.5 842.9,1234.6 844.1,1235.7 845.4,1236.8 846.7,1238.0 847.9,1239.2 849.2,1240.5 850.5,1241.8 851.7,1243.1 853.0,1244.5 854.2,1245.9 855.5,1247.4 856.8,1249.1 858.0,1250.8 859.3,1252.6 860.6,1254.5 861.8,1256.4 863.1,1258.4 864.4,1260.3 865.6,1262.2 866.9,1264.1 868.2,1265.9 869.4,1267.7 870.7,1269.4 872.0,1271.0 873.2,1272.5 874.5,1274.0 875.7,1275.5 877.0,1277.0 878.3,1278.4 879.5,1279.7 880.8,1280.9 882.1,1282.1 883.3,1283.2 884.6,1284.3 885.9,1285.3 887.1,1286.3 888.4,1287.1 889.7,1287.7 890.9,1288.1 892.2,1288.4 893.5,1288.7 894.7,1289.0 896.0,1289.2 897.3,1289.4 898.5,1289.6 899.8,1289.8 901.0,1290.0 902.3,1290.1 903.6,1290.3 904.8,1290.4 906.1,1290.5 907.4,1290.7 908.6,1290.9 909.9,1291.1 911.2,1291.3 912.4,1291.5 913.7,1291.7 915.0,1292.0 916.2,1292.3 917.5,1292.6 918.8,1292.9 920.0,1293.2 921.3,1293.6 922.5,1293.9 923.8,1294.2 925.1,1294.6 926.3,1294.9 927.6,1295.2 928.9,1295.6 930.1,1295.9 931.4,1296.2 932.7,1296.5 933.9,1296.8 935.2,1297.1 936.5,1297.3 937.7,1297.5 939.0,1297.8 940.3,1298.0 941.5,1298.2 942.8,1298.4 944.0,1298.6 945.3,1298.8 946.6,1299.0 947.8,1299.2 949.1,1299.4 950.4,1299.6 951.6,1299.8 952.9,1300.0 954.2,1300.2 955.4,1300.4 956.7,1300.5 958.0,1300.7 959.2,1300.9 960.5,1301.0 961.8,1301.2 963.0,1301.3 964.3,1301.5 965.6,1301.6 966.8,1301.8 968.1,1301.9 969.3,1302.0 970.6,1302.1 971.9,1302.2 973.1,1302.4 974.4,1302.5 975.7,1302.5 976.9,1302.6 978.2,1302.7 979.5,1302.8 980.7,1302.9 982.0,1302.9 983.3,1303.0 984.5,1303.1 985.8,1303.1 987.1,1303.2 988.3,1303.2 989.6,1303.3 990.8,1303.3 992.1,1303.3 993.4,1303.4 994.6,1303.4 995.9,1303.5 997.2,1303.5 998.4,1303.5 999.7,1303.6 1001.0,1303.6 1002.2,1303.7 1003.5,1303.7 1004.8,1303.8 1006.0,1303.8 1007.3,1303.9 1008.6,1303.9 1009.8,1304.0 1011.1,1304.0 1012.4,1304.1 1013.6,1304.1 1014.9,1304.2 1016.1,1304.3 1017.4,1304.4 1018.7,1304.5 1019.9,1304.6 1021.2,1304.7 1022.5,1304.8 1023.7,1304.9 1025.0,1305.0 1026.3,1305.2 1027.5,1305.5 1028.8,1305.9 1030.1,1306.3 1031.3,1306.9 1032.6,1307.5 1033.9,1308.1 1035.1,1308.7 1036.4,1309.3 1037.6,1310.0 1038.9,1310.6 1040.2,1311.1 1041.4,1311.6 1042.7,1312.0 1044.0,1312.3 1045.2,1312.5 1046.5,1312.7 1047.8,1312.9 1049.0,1313.0 1050.3,1313.2 1051.6,1313.3 1052.8,1313.5 1054.1,1313.6 1055.4,1313.7 1056.6,1313.8 1057.9,1313.9 1059.2,1313.9 1060.4,1314.0 1061.7,1314.0 1062.9,1314.0 1064.2,1313.9 1065.5,1313.7 1066.7,1313.3 1068.0,1312.9 1069.3,1312.5 1070.5,1311.9 1071.8,1311.4 1073.1,1310.8 1074.3,1310.3 1075.6,1309.7 1076.9,1309.0 1078.1,1308.2 1079.4,1307.3 1080.7,1306.3 1081.9,1305.4 1083.2,1304.5 1084.4,1303.7 1085.7,1303.1 1087.0,1302.6 1088.2,1302.4 1089.5,1302.1 1090.8,1301.9 1092.0,1301.7 1093.3,1301.5 1094.6,1301.3 1095.8,1301.2 1097.1,1301.0 1098.4,1300.8 1099.6,1300.7 1100.9,1300.6 1102.2,1300.5 1103.4,1300.4 1104.7,1300.3 1106.0,1300.2 1107.2,1300.1 1108.5,1300.1 1109.7,1300.0 1111.0,1300.0 1112.3,1300.0 1113.5,1300.0 1114.8,1300.0 1116.1,1300.1 1117.3,1300.2 1118.6,1300.3 1119.9,1300.4 1121.1,1300.6 1122.4,1300.7 1123.7,1300.9 1124.9,1301.1 1126.2,1301.3 1127.5,1301.5 1128.7,1301.7 1130.0,1302.0 1131.2,1302.2 1132.5,1302.5 1133.8,1302.8 1135.0,1303.3 1136.3,1303.9 1137.6,1304.5 1138.8,1305.3 1140.1,1306.1 1141.4,1306.9 1142.6,1307.8 1143.9,1308.6 1145.2,1309.5 1146.4,1310.4 1147.7,1311.2 1149.0,1311.9 1150.2,1312.6 1151.5,1313.3 1152.8,1314.0 1154.0,1314.7 1155.3,1315.5 1156.5,1316.2 1157.8,1317.0 1159.1,1317.7 1160.3,1318.4 1161.6,1319.1 1162.9,1319.7 1164.1,1320.3 1165.4,1320.9 1166.7,1321.4 1167.9,1321.8 1169.2,1322.1 1170.5,1322.4 1171.7,1322.6 1173.0,1322.8 1174.3,1322.9 1175.5,1323.0 1176.8,1323.2 1178.0,1323.3 1179.3,1323.4 1180.6,1323.4 1181.8,1323.5 1183.1,1323.6 1184.4,1323.7 1185.6,1323.7 1186.9,1323.8 1188.2,1323.8 1189.4,1323.9 1190.7,1324.0 1192.0,1324.1 1193.2,1324.2 1194.5,1324.3 1195.8,1324.4 1197.0,1324.5 1198.3,1324.6 1199.5,1324.8 1200.8,1325.0 1202.1,1325.2 1203.3,1325.5 1204.6,1325.9 1205.9,1326.4 1207.1,1326.9 1208.4,1327.5 1209.7,1328.1 1210.9,1328.7 1212.2,1329.4 1213.5,1330.0 1214.7,1330.6 1216.0,1331.4 1217.3,1332.2 1218.5,1333.1 1219.8,1334.1 1221.1,1335.0 1222.3,1336.0 1223.6,1336.9 1224.8,1337.8 1226.1,1338.6 1227.4,1339.4 1228.6,1340.1 1229.9,1340.6 1231.2,1341.1 1232.4,1341.4 1233.7,1341.8 1235.0,1342.2 1236.2,1342.5 1237.5,1342.8 1238.8,1343.1 1240.0,1343.4 1241.3,1343.6 1242.6,1343.8 1243.8,1343.9 1245.1,1344.0 1246.3,1344.0 1247.6,1343.9 1248.9,1343.6 1250.1,1343.1 1251.4,1342.6 1252.7,1342.0 1253.9,1341.3 1255.2,1340.6 1256.5,1339.9 1257.7,1339.2 1259.0,1338.5 1260.3,1337.8 1261.5,1337.3 1262.8,1336.7 1264.1,1336.2 1265.3,1335.6 1266.6,1335.1 1267.9,1334.5 1269.1,1334.0 1270.4,1333.4 1271.6,1332.9 1272.9,1332.3 1274.2,1331.8 1275.4,1331.2 1276.7,1330.7 1278.0,1330.1 1279.2,1329.6 1280.5,1329.0" fill="none" stroke="#d93632" stroke-width="2.3" stroke-linejoin="round" />
<line x1="104.2" y1="956.0" x2="104.2" y2="1451.0" stroke="#2b2b2b" stroke-width="3.4" />
<line x1="107.0" y1="958.0" x2="107.0" y2="1447.5" stroke="#cfcfcf" stroke-width="2.4" />
<line x1="102.5" y1="1449.3" x2="1281.5" y2="1449.3" stroke="#111" stroke-width="3.8" />
<line x1="94.0" y1="1014.6" x2="102.8" y2="1014.6" stroke="#959595" stroke-width="3.6" />
<text x="59.0" y="1024.5" font-size="32" fill="#5c5c5c" textLength="33.8" lengthAdjust="spacingAndGlyphs">3.0</text>
<line x1="94.0" y1="1087.0" x2="102.8" y2="1087.0" stroke="#959595" stroke-width="3.6" />
<text x="59.0" y="1096.5" font-size="32" fill="#5c5c5c" textLength="33.8" lengthAdjust="spacingAndGlyphs">2.5</text>
<line x1="94.0" y1="1159.5" x2="102.8" y2="1159.5" stroke="#959595" stroke-width="3.6" />
<text x="59.0" y="1168.6" font-size="32" fill="#5c5c5c" textLength="33.8" lengthAdjust="spacingAndGlyphs">2.0</text>
<line x1="94.0" y1="1232.0" x2="102.8" y2="1232.0" stroke="#959595" stroke-width="3.6" />
<text x="59.0" y="1240.7" font-size="32" fill="#5c5c5c" textLength="33.8" lengthAdjust="spacingAndGlyphs">1.5</text>
<line x1="94.0" y1="1304.4" x2="102.8" y2="1304.4" stroke="#959595" stroke-width="3.6" />
<text x="59.0" y="1312.7" font-size="32" fill="#5c5c5c" textLength="33.8" lengthAdjust="spacingAndGlyphs">1.0</text>
<line x1="94.0" y1="1376.8" x2="102.8" y2="1376.8" stroke="#959595" stroke-width="3.6" />
<text x="59.0" y="1384.8" font-size="32" fill="#5c5c5c" textLength="33.8" lengthAdjust="spacingAndGlyphs">0.5</text>
<line x1="94.0" y1="1449.3" x2="102.8" y2="1449.3" stroke="#959595" stroke-width="3.6" />
<text x="59.0" y="1456.8" font-size="32" fill="#5c5c5c" textLength="33.8" lengthAdjust="spacingAndGlyphs">0.0</text>
<line x1="142.0" y1="1449.0" x2="142.0" y2="1457.0" stroke="#555" stroke-width="2.4" />
<text x="109.5" y="1480.6" font-size="30.5" fill="#5a5a5a" textLength="84.5" lengthAdjust="spacingAndGlyphs">March</text>
<line x1="335.8" y1="1449.0" x2="335.8" y2="1457.0" stroke="#555" stroke-width="2.4" />
<text x="312.5" y="1480.6" font-size="30.5" fill="#5a5a5a" textLength="62.5" lengthAdjust="spacingAndGlyphs">April</text>
<line x1="523.2" y1="1449.0" x2="523.2" y2="1457.0" stroke="#555" stroke-width="2.4" />
<text x="502.0" y="1480.6" font-size="30.5" fill="#5a5a5a" textLength="55.0" lengthAdjust="spacingAndGlyphs">May</text>
<line x1="717.0" y1="1449.0" x2="717.0" y2="1457.0" stroke="#555" stroke-width="2.4" />
<text x="691.0" y="1480.6" font-size="30.5" fill="#5a5a5a" textLength="64.0" lengthAdjust="spacingAndGlyphs">June</text>
<line x1="904.5" y1="1449.0" x2="904.5" y2="1457.0" stroke="#555" stroke-width="2.4" />
<text x="885.0" y="1480.6" font-size="30.5" fill="#5a5a5a" textLength="52.0" lengthAdjust="spacingAndGlyphs">July</text>
<line x1="1098.2" y1="1449.0" x2="1098.2" y2="1457.0" stroke="#555" stroke-width="2.4" />
<text x="1062.5" y="1480.6" font-size="30.5" fill="#5a5a5a" textLength="96.5" lengthAdjust="spacingAndGlyphs">August</text>
<text transform="translate(37,1427.5) rotate(-90)" font-size="30" fill="#2a2a2a" textLength="441" lengthAdjust="spacingAndGlyphs">Effective reproductive number, R</text>
<text transform="translate(44.5,988.5) rotate(-90)" font-size="19" fill="#2a2a2a">e</text>
<line x1="129.4" y1="956.0" x2="129.4" y2="1271.0" stroke="#8a8a8a" stroke-width="5.2" />
<path d="M123.2,1266.5 L135.6,1266.5 L133.0,1281.0 L129.4,1287.5 L125.8,1281.0 Z" fill="#0a0a0a"/>
<line x1="279.0" y1="1060.0" x2="279.0" y2="1211.0" stroke="#161616" stroke-width="3.3" />
<path d="M279.0,1225.0 L271.6,1202.0 L274.2,1202.0 L279.0,1213.5 L283.8,1202.0 L286.4,1202.0 Z" fill="#555" fill-opacity="0.55"/>
<path d="M279.0,1225.5 L274.1,1205.0 L283.9,1205.0 Z" fill="#0a0a0a"/>
<line x1="336.0" y1="1000.0" x2="336.0" y2="1273.5" stroke="#161616" stroke-width="3.3" />
<path d="M336.0,1287.5 L328.6,1264.5 L331.2,1264.5 L336.0,1276.0 L340.8,1264.5 L343.4,1264.5 Z" fill="#555" fill-opacity="0.55"/>
<path d="M336.0,1288.0 L331.1,1267.5 L340.9,1267.5 Z" fill="#0a0a0a"/>
<line x1="629.5" y1="1127.0" x2="629.5" y2="1236.0" stroke="#161616" stroke-width="3.3" />
<path d="M629.5,1250.0 L622.1,1227.0 L624.7,1227.0 L629.5,1238.5 L634.3,1227.0 L636.9,1227.0 Z" fill="#555" fill-opacity="0.55"/>
<path d="M629.5,1250.5 L624.6,1230.0 L634.4,1230.0 Z" fill="#0a0a0a"/>
<line x1="673.5" y1="1066.0" x2="673.5" y2="1217.0" stroke="#161616" stroke-width="3.3" />
<path d="M673.5,1231.0 L666.1,1208.0 L668.7,1208.0 L673.5,1219.5 L678.3,1208.0 L680.9,1208.0 Z" fill="#555" fill-opacity="0.55"/>
<path d="M673.5,1231.5 L668.6,1211.0 L678.4,1211.0 Z" fill="#0a0a0a"/>
<line x1="742.0" y1="972.0" x2="742.0" y2="1188.0" stroke="#8a8a8a" stroke-width="5.2" />
<path d="M735.8,1183.5 L748.2,1183.5 L745.6,1198.0 L742.0,1204.5 L738.4,1198.0 Z" fill="#0a0a0a"/>
<line x1="830.0" y1="990.0" x2="830.0" y2="1121.5" stroke="#8a8a8a" stroke-width="5.2" />
<path d="M823.8,1117.0 L836.2,1117.0 L833.6,1131.5 L830.0,1138.0 L826.4,1131.5 Z" fill="#0a0a0a"/>
<line x1="855.0" y1="1040.0" x2="855.0" y2="1148.5" stroke="#161616" stroke-width="3.3" />
<path d="M855.0,1162.5 L847.6,1139.5 L850.2,1139.5 L855.0,1151.0 L859.8,1139.5 L862.4,1139.5 Z" fill="#555" fill-opacity="0.55"/>
<path d="M855.0,1163.0 L850.1,1142.5 L859.9,1142.5 Z" fill="#0a0a0a"/>
<line x1="942.5" y1="1097.5" x2="942.5" y2="1206.0" stroke="#161616" stroke-width="3.3" />
<path d="M942.5,1220.0 L935.1,1197.0 L937.7,1197.0 L942.5,1208.5 L947.3,1197.0 L949.9,1197.0 Z" fill="#555" fill-opacity="0.55"/>
<path d="M942.5,1220.5 L937.6,1200.0 L947.4,1200.0 Z" fill="#0a0a0a"/>
<line x1="1086.0" y1="1164.0" x2="1086.0" y2="1200.0" stroke="#8a8a8a" stroke-width="5.2" />
<path d="M1079.8,1195.5 L1092.2,1195.5 L1089.6,1210.0 L1086.0,1216.5 L1082.4,1210.0 Z" fill="#0a0a0a"/>
<text x="142.0" y="964.0" font-size="26" fill="#2b2b2b" textLength="118.0" lengthAdjust="spacingAndGlyphs">First death</text>
<text x="179.5" y="1022.0" font-size="26" fill="#2b2b2b" textLength="121.5" lengthAdjust="spacingAndGlyphs">Stay home</text>
<text x="179.5" y="1049.0" font-size="26" fill="#2b2b2b" textLength="138.0" lengthAdjust="spacingAndGlyphs">stay healthy</text>
<text x="351.0" y="981.0" font-size="26" fill="#2b2b2b" textLength="135.0" lengthAdjust="spacingAndGlyphs">King county</text>
<text x="350.0" y="1008.0" font-size="26" fill="#2b2b2b" textLength="173.5" lengthAdjust="spacingAndGlyphs">&quot;Masks helpful&quot;</text>
<text x="424.0" y="1125.0" font-size="26" fill="#2b2b2b" textLength="136.5" lengthAdjust="spacingAndGlyphs">King county</text>
<text x="423.0" y="1152.5" font-size="26" fill="#2b2b2b" textLength="191.0" lengthAdjust="spacingAndGlyphs">&quot;Masks required&quot;</text>
<text x="550.5" y="1025.0" font-size="26" fill="#2b2b2b" textLength="158.0" lengthAdjust="spacingAndGlyphs">Police murder</text>
<text x="550.5" y="1052.0" font-size="26" fill="#2b2b2b" textLength="151.5" lengthAdjust="spacingAndGlyphs">George Floyd</text>
<text x="630.0" y="975.0" font-size="26" fill="#2b2b2b" textLength="106.0" lengthAdjust="spacingAndGlyphs">Phase 1.5</text>
<text x="775.5" y="981.0" font-size="26" fill="#2b2b2b" textLength="107.0" lengthAdjust="spacingAndGlyphs">Phase 2.0</text>
<text x="867.0" y="1039.0" font-size="26" fill="#2b2b2b" textLength="122.0" lengthAdjust="spacingAndGlyphs">WA &quot;Masks</text>
<text x="867.0" y="1065.0" font-size="26" fill="#2b2b2b" textLength="105.5" lengthAdjust="spacingAndGlyphs">required&quot;</text>
<text x="954.0" y="1105.0" font-size="26" fill="#2b2b2b" textLength="151.0" lengthAdjust="spacingAndGlyphs">WA &quot;No mask</text>
<text x="954.0" y="1132.5" font-size="26" fill="#2b2b2b" textLength="125.0" lengthAdjust="spacingAndGlyphs">no service&quot;</text>
<text x="1099.0" y="1146.0" font-size="26" fill="#2b2b2b" textLength="95.0" lengthAdjust="spacingAndGlyphs">Business</text>
<text x="1099.0" y="1173.0" font-size="26" fill="#2b2b2b" textLength="111.0" lengthAdjust="spacingAndGlyphs">gathering</text>
<text x="1099.0" y="1200.5" font-size="26" fill="#2b2b2b" textLength="126.0" lengthAdjust="spacingAndGlyphs">restrictions</text>
<text x="1294.0" y="1177.0" font-size="31" fill="#1f1f1f" textLength="206.5" lengthAdjust="spacingAndGlyphs">Counterfactual</text>
<text x="1294.0" y="1210.0" font-size="31" fill="#1f1f1f" textLength="119.0" lengthAdjust="spacingAndGlyphs">estimate</text>
<text x="1294.0" y="1244.0" font-size="31" fill="#1f1f1f" textLength="203.0" lengthAdjust="spacingAndGlyphs">without masks</text>
<text x="1294.0" y="1308.0" font-size="31" fill="#1f1f1f" textLength="150.0" lengthAdjust="spacingAndGlyphs">Regression</text>
<text x="1294.0" y="1341.0" font-size="31" fill="#1f1f1f" textLength="119.0" lengthAdjust="spacingAndGlyphs">estimate</text>
<text x="841.0" y="1372.0" font-size="29" fill="#ae2830" font-weight="bold" textLength="20.0" lengthAdjust="spacingAndGlyphs">R</text>
<text x="862.0" y="1378.5" font-size="16" fill="#ae2830" font-weight="bold">e</text>
<text x="877.0" y="1372.0" font-size="29" fill="#ae2830" font-weight="bold" textLength="234.5" lengthAdjust="spacingAndGlyphs">model estimate</text>
<text x="14.5" y="948.4" font-size="31.0" fill="#000" font-weight="bold" class="pl">C</text>
</g>
</g>
<defs><filter id="soft" x="0" y="0" width="100%" height="100%" filterUnits="userSpaceOnUse"><feGaussianBlur stdDeviation="0.9"/></filter></defs>
</svg></body></html>
